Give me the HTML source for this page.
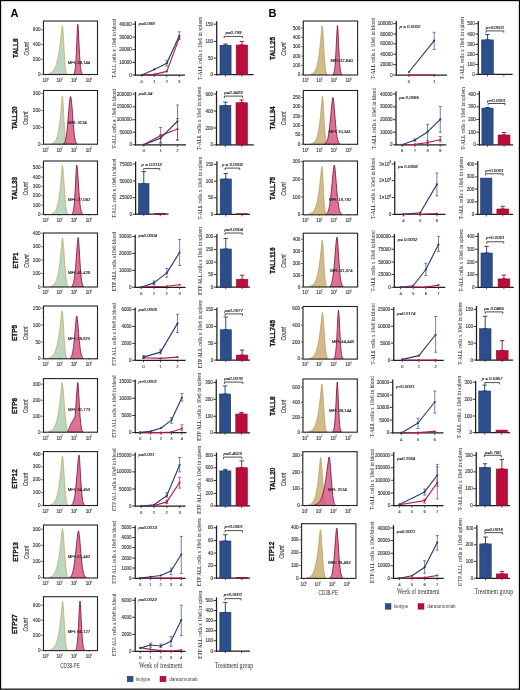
<!DOCTYPE html>
<html><head><meta charset="utf-8"><style>
html,body{margin:0;padding:0;background:#fff;}
#fig{position:relative;width:520px;height:690px;overflow:hidden;background:#fff;}
svg{position:absolute;left:0;top:0;will-change:transform;}
</style></head><body><div id="fig">
<svg width="520" height="690" viewBox="0 0 520 690" font-family="'Liberation Sans', sans-serif">
<rect x="0" y="0" width="520" height="690" fill="#fff"/>
<text x="10.4" y="13.1" font-size="11" text-anchor="start" fill="#000" font-weight="bold" dominant-baseline="central">A</text>
<text x="268.6" y="13.1" font-size="11" text-anchor="start" fill="#000" font-weight="bold" dominant-baseline="central">B</text>
<text x="15" y="48.25" font-size="6.4" text-anchor="middle" fill="#1a1a1a" font-weight="bold" stroke="#1a1a1a" stroke-width="0.35" dominant-baseline="central" transform="rotate(-90 15 48.25)">TALL8</text>
<text x="26" y="48.75" font-size="6.6" text-anchor="middle" fill="#444" font-style="italic" stroke="#444" stroke-width="0.15" textLength="13.5" lengthAdjust="spacingAndGlyphs" dominant-baseline="central" transform="rotate(-90 26 48.75)">Count</text>
<clipPath id="ca0"><rect x="43.5" y="21" width="54" height="53.5"/></clipPath>
<g clip-path="url(#ca0)">
<path d="M47.78 74.5 L47.78 74.01 L48.18 73.93 L48.59 73.83 L49 73.72 L49.41 73.59 L49.82 73.44 L50.22 73.27 L50.63 73.08 L51.04 72.85 L51.45 72.59 L51.85 72.29 L52.26 71.94 L52.67 71.55 L53.08 71.1 L53.48 70.58 L53.89 70 L54.3 69.33 L54.71 68.57 L55.11 67.71 L55.52 66.74 L55.93 65.65 L56.34 64.41 L56.75 63.03 L57.15 61.47 L57.56 59.74 L57.97 57.81 L58.38 55.68 L58.78 53.32 L59.19 50.73 L59.6 47.9 L60.01 44.84 L60.41 41.56 L60.82 38.07 L61.23 34.43 L61.64 30.74 L62.05 27.23 L62.3 25.5 L62.45 25.74 L62.86 28.68 L63.27 34.4 L63.68 41.81 L64.08 49.69 L64.49 56.95 L64.9 62.95 L65.31 67.41 L65.71 70.45 L66.12 72.35 L66.53 73.43 L66.94 74.01 L66.94 74.5 Z" fill="#bcd6c4" stroke="#c9a04e" stroke-width="0.7"/>
<path d="M73.84 74.5 L73.84 74 L74.25 73.41 L74.65 72.27 L75.06 70.22 L75.47 66.8 L75.87 61.55 L76.28 54.22 L76.68 45.1 L77.09 35.33 L77.5 27.16 L77.8 24.3 L77.9 24.66 L78.31 29.52 L78.71 37.24 L79.12 45.74 L79.53 53.66 L79.93 60.25 L80.34 65.27 L80.74 68.82 L81.15 71.18 L81.55 72.64 L81.96 73.51 L82.37 74 L82.37 74.5 Z" fill="#d65a85" fill-opacity="0.85" stroke="#8a1a3e" stroke-width="0.9"/>
<text x="67.8" y="62.3" font-size="4.2" text-anchor="start" fill="#222" stroke="#222" stroke-width="0.15" dominant-baseline="central">MFI: 39,144</text>
</g>
<rect x="43.5" y="21" width="54" height="53.5" fill="none" stroke="#222" stroke-width="1.1"/>
<line x1="41.3" y1="29.8" x2="43.5" y2="29.8" stroke="#222" stroke-width="0.7"/>
<text x="40.5" y="29.8" font-size="4.6" text-anchor="end" fill="#333" stroke="#333" stroke-width="0.12" dominant-baseline="central">600</text>
<line x1="41.3" y1="44.4" x2="43.5" y2="44.4" stroke="#222" stroke-width="0.7"/>
<text x="40.5" y="44.4" font-size="4.6" text-anchor="end" fill="#333" stroke="#333" stroke-width="0.12" dominant-baseline="central">400</text>
<line x1="41.3" y1="59.4" x2="43.5" y2="59.4" stroke="#222" stroke-width="0.7"/>
<text x="40.5" y="59.4" font-size="4.6" text-anchor="end" fill="#333" stroke="#333" stroke-width="0.12" dominant-baseline="central">200</text>
<line x1="41.3" y1="74.4" x2="43.5" y2="74.4" stroke="#222" stroke-width="0.7"/>
<text x="40.5" y="74.4" font-size="4.6" text-anchor="end" fill="#333" stroke="#333" stroke-width="0.12" dominant-baseline="central">0</text>
<line x1="42.4" y1="70.68" x2="43.5" y2="70.68" stroke="#555" stroke-width="0.5"/>
<line x1="42.4" y1="66.97" x2="43.5" y2="66.97" stroke="#555" stroke-width="0.5"/>
<line x1="42.4" y1="63.25" x2="43.5" y2="63.25" stroke="#555" stroke-width="0.5"/>
<line x1="42.4" y1="55.82" x2="43.5" y2="55.82" stroke="#555" stroke-width="0.5"/>
<line x1="42.4" y1="52.1" x2="43.5" y2="52.1" stroke="#555" stroke-width="0.5"/>
<line x1="42.4" y1="48.38" x2="43.5" y2="48.38" stroke="#555" stroke-width="0.5"/>
<line x1="42.4" y1="40.95" x2="43.5" y2="40.95" stroke="#555" stroke-width="0.5"/>
<line x1="42.4" y1="37.23" x2="43.5" y2="37.23" stroke="#555" stroke-width="0.5"/>
<line x1="42.4" y1="33.52" x2="43.5" y2="33.52" stroke="#555" stroke-width="0.5"/>
<line x1="42.4" y1="26.08" x2="43.5" y2="26.08" stroke="#555" stroke-width="0.5"/>
<line x1="42.4" y1="22.37" x2="43.5" y2="22.37" stroke="#555" stroke-width="0.5"/>
<text x="45.1" y="80.3" font-size="4.7" text-anchor="middle" fill="#444" stroke="#444" stroke-width="0.15" dominant-baseline="central">10</text>
<text x="48.1" y="78.7" font-size="3.2" text-anchor="middle" fill="#444" dominant-baseline="central">0</text>
<line x1="45.7" y1="74.5" x2="45.7" y2="75.8" stroke="#444" stroke-width="0.5"/>
<text x="59.1" y="80.3" font-size="4.7" text-anchor="middle" fill="#444" stroke="#444" stroke-width="0.15" dominant-baseline="central">10</text>
<text x="62.1" y="78.7" font-size="3.2" text-anchor="middle" fill="#444" dominant-baseline="central">2</text>
<line x1="59.7" y1="74.5" x2="59.7" y2="75.8" stroke="#444" stroke-width="0.5"/>
<text x="73.5" y="80.3" font-size="4.7" text-anchor="middle" fill="#444" stroke="#444" stroke-width="0.15" dominant-baseline="central">10</text>
<text x="76.5" y="78.7" font-size="3.2" text-anchor="middle" fill="#444" dominant-baseline="central">4</text>
<line x1="74.1" y1="74.5" x2="74.1" y2="75.8" stroke="#444" stroke-width="0.5"/>
<text x="88.3" y="80.3" font-size="4.7" text-anchor="middle" fill="#444" stroke="#444" stroke-width="0.15" dominant-baseline="central">10</text>
<text x="91.3" y="78.7" font-size="3.2" text-anchor="middle" fill="#444" dominant-baseline="central">6</text>
<line x1="88.9" y1="74.5" x2="88.9" y2="75.8" stroke="#444" stroke-width="0.5"/>
<line x1="52.7" y1="74.5" x2="52.7" y2="75.3" stroke="#666" stroke-width="0.4"/>
<line x1="66.9" y1="74.5" x2="66.9" y2="75.3" stroke="#666" stroke-width="0.4"/>
<line x1="81.5" y1="74.5" x2="81.5" y2="75.3" stroke="#666" stroke-width="0.4"/>
<line x1="95.5" y1="74.5" x2="95.5" y2="75.3" stroke="#666" stroke-width="0.4"/>
<text x="15" y="117.85" font-size="6.4" text-anchor="middle" fill="#1a1a1a" font-weight="bold" stroke="#1a1a1a" stroke-width="0.35" dominant-baseline="central" transform="rotate(-90 15 117.85)">TALL20</text>
<text x="26" y="118.35" font-size="6.6" text-anchor="middle" fill="#444" font-style="italic" stroke="#444" stroke-width="0.15" textLength="13.5" lengthAdjust="spacingAndGlyphs" dominant-baseline="central" transform="rotate(-90 26 118.35)">Count</text>
<clipPath id="ca1"><rect x="43.5" y="90.5" width="54" height="53.7"/></clipPath>
<g clip-path="url(#ca1)">
<path d="M51.55 144.2 L51.55 143.72 L51.95 143.61 L52.35 143.47 L52.76 143.3 L53.16 143.1 L53.56 142.86 L53.96 142.56 L54.37 142.21 L54.77 141.78 L55.17 141.26 L55.57 140.65 L55.97 139.91 L56.38 139.03 L56.78 137.99 L57.18 136.76 L57.58 135.31 L57.99 133.62 L58.39 131.64 L58.79 129.34 L59.19 126.69 L59.6 123.66 L60 120.22 L60.4 116.36 L60.8 112.09 L61.2 107.47 L61.61 102.63 L62.01 97.94 L62.2 96.2 L62.41 96.66 L62.81 99.92 L63.22 105.72 L63.62 112.99 L64.02 120.59 L64.42 127.53 L64.83 133.22 L65.23 137.45 L65.63 140.33 L66.03 142.13 L66.43 143.16 L66.84 143.72 L66.84 144.2 Z" fill="#bcd6c4" stroke="#c9a04e" stroke-width="0.7"/>
<path d="M63.35 144.2 L63.35 143.72 L63.76 143.44 L64.17 143.01 L64.58 142.39 L64.99 141.5 L65.41 140.27 L65.82 138.62 L66.23 136.45 L66.64 133.7 L67.05 130.33 L67.47 126.34 L67.88 121.79 L68.29 116.83 L68.7 111.69 L69.11 106.68 L69.53 102.2 L69.94 98.71 L70.35 96.71 L70.5 96.5 L70.76 96.86 L71.17 98.84 L71.58 102.34 L72 106.99 L72.41 112.36 L72.82 117.95 L73.23 123.36 L73.64 128.27 L74.06 132.47 L74.47 135.88 L74.88 138.52 L75.29 140.47 L75.7 141.83 L76.12 142.76 L76.53 143.35 L76.94 143.72 L76.94 144.2 Z" fill="#d65a85" fill-opacity="0.85" stroke="#8a1a3e" stroke-width="0.9"/>
<text x="68" y="122" font-size="4.2" text-anchor="start" fill="#222" stroke="#222" stroke-width="0.15" dominant-baseline="central">MFI: 3134</text>
</g>
<rect x="43.5" y="90.5" width="54" height="53.7" fill="none" stroke="#222" stroke-width="1.1"/>
<line x1="41.3" y1="93.5" x2="43.5" y2="93.5" stroke="#222" stroke-width="0.7"/>
<text x="40.5" y="93.5" font-size="4.6" text-anchor="end" fill="#333" stroke="#333" stroke-width="0.12" dominant-baseline="central">300</text>
<line x1="41.3" y1="110.4" x2="43.5" y2="110.4" stroke="#222" stroke-width="0.7"/>
<text x="40.5" y="110.4" font-size="4.6" text-anchor="end" fill="#333" stroke="#333" stroke-width="0.12" dominant-baseline="central">200</text>
<line x1="41.3" y1="127.6" x2="43.5" y2="127.6" stroke="#222" stroke-width="0.7"/>
<text x="40.5" y="127.6" font-size="4.6" text-anchor="end" fill="#333" stroke="#333" stroke-width="0.12" dominant-baseline="central">100</text>
<line x1="41.3" y1="144.4" x2="43.5" y2="144.4" stroke="#222" stroke-width="0.7"/>
<text x="40.5" y="144.4" font-size="4.6" text-anchor="end" fill="#333" stroke="#333" stroke-width="0.12" dominant-baseline="central">0</text>
<line x1="42.4" y1="140.16" x2="43.5" y2="140.16" stroke="#555" stroke-width="0.5"/>
<line x1="42.4" y1="135.92" x2="43.5" y2="135.92" stroke="#555" stroke-width="0.5"/>
<line x1="42.4" y1="131.68" x2="43.5" y2="131.68" stroke="#555" stroke-width="0.5"/>
<line x1="42.4" y1="123.19" x2="43.5" y2="123.19" stroke="#555" stroke-width="0.5"/>
<line x1="42.4" y1="118.95" x2="43.5" y2="118.95" stroke="#555" stroke-width="0.5"/>
<line x1="42.4" y1="114.71" x2="43.5" y2="114.71" stroke="#555" stroke-width="0.5"/>
<line x1="42.4" y1="106.22" x2="43.5" y2="106.22" stroke="#555" stroke-width="0.5"/>
<line x1="42.4" y1="101.98" x2="43.5" y2="101.98" stroke="#555" stroke-width="0.5"/>
<line x1="42.4" y1="97.74" x2="43.5" y2="97.74" stroke="#555" stroke-width="0.5"/>
<text x="45.1" y="150" font-size="4.7" text-anchor="middle" fill="#444" stroke="#444" stroke-width="0.15" dominant-baseline="central">10</text>
<text x="48.1" y="148.4" font-size="3.2" text-anchor="middle" fill="#444" dominant-baseline="central">0</text>
<line x1="45.7" y1="144.2" x2="45.7" y2="145.5" stroke="#444" stroke-width="0.5"/>
<text x="59.1" y="150" font-size="4.7" text-anchor="middle" fill="#444" stroke="#444" stroke-width="0.15" dominant-baseline="central">10</text>
<text x="62.1" y="148.4" font-size="3.2" text-anchor="middle" fill="#444" dominant-baseline="central">2</text>
<line x1="59.7" y1="144.2" x2="59.7" y2="145.5" stroke="#444" stroke-width="0.5"/>
<text x="73.5" y="150" font-size="4.7" text-anchor="middle" fill="#444" stroke="#444" stroke-width="0.15" dominant-baseline="central">10</text>
<text x="76.5" y="148.4" font-size="3.2" text-anchor="middle" fill="#444" dominant-baseline="central">4</text>
<line x1="74.1" y1="144.2" x2="74.1" y2="145.5" stroke="#444" stroke-width="0.5"/>
<text x="88.3" y="150" font-size="4.7" text-anchor="middle" fill="#444" stroke="#444" stroke-width="0.15" dominant-baseline="central">10</text>
<text x="91.3" y="148.4" font-size="3.2" text-anchor="middle" fill="#444" dominant-baseline="central">6</text>
<line x1="88.9" y1="144.2" x2="88.9" y2="145.5" stroke="#444" stroke-width="0.5"/>
<line x1="52.7" y1="144.2" x2="52.7" y2="145" stroke="#666" stroke-width="0.4"/>
<line x1="66.9" y1="144.2" x2="66.9" y2="145" stroke="#666" stroke-width="0.4"/>
<line x1="81.5" y1="144.2" x2="81.5" y2="145" stroke="#666" stroke-width="0.4"/>
<line x1="95.5" y1="144.2" x2="95.5" y2="145" stroke="#666" stroke-width="0.4"/>
<text x="15" y="188.3" font-size="6.4" text-anchor="middle" fill="#1a1a1a" font-weight="bold" stroke="#1a1a1a" stroke-width="0.35" dominant-baseline="central" transform="rotate(-90 15 188.3)">TALL33</text>
<text x="26" y="188.8" font-size="6.6" text-anchor="middle" fill="#444" font-style="italic" stroke="#444" stroke-width="0.15" textLength="13.5" lengthAdjust="spacingAndGlyphs" dominant-baseline="central" transform="rotate(-90 26 188.8)">Count</text>
<clipPath id="ca2"><rect x="43.5" y="161" width="54" height="53.6"/></clipPath>
<g clip-path="url(#ca2)">
<path d="M51.17 214.6 L51.17 214.11 L51.57 214 L51.97 213.87 L52.37 213.71 L52.77 213.52 L53.17 213.29 L53.57 213.02 L53.97 212.69 L54.37 212.3 L54.77 211.84 L55.17 211.29 L55.57 210.63 L55.97 209.86 L56.37 208.95 L56.77 207.87 L57.17 206.62 L57.57 205.15 L57.97 203.45 L58.37 201.48 L58.77 199.21 L59.17 196.62 L59.57 193.67 L59.97 190.35 L60.37 186.63 L60.77 182.54 L61.17 178.1 L61.57 173.42 L61.97 168.74 L62.3 165.5 L62.37 165.53 L62.77 167.01 L63.17 170.51 L63.57 175.58 L63.97 181.62 L64.37 187.97 L64.77 194.06 L65.17 199.47 L65.57 203.95 L65.97 207.44 L66.37 210.01 L66.77 211.78 L67.17 212.95 L67.57 213.68 L67.97 214.11 L67.97 214.6 Z" fill="#bcd6c4" stroke="#c9a04e" stroke-width="0.7"/>
<path d="M71.93 214.6 L71.93 214.1 L72.34 213.66 L72.74 212.9 L73.15 211.65 L73.55 209.67 L73.96 206.72 L74.36 202.56 L74.77 197.04 L75.18 190.23 L75.58 182.52 L75.99 174.74 L76.39 168.23 L76.8 165 L76.8 165 L77.21 167.23 L77.61 171.9 L78.02 177.79 L78.42 184.1 L78.83 190.23 L79.24 195.78 L79.64 200.52 L80.05 204.38 L80.45 207.4 L80.86 209.67 L81.26 211.32 L81.67 212.47 L82.08 213.25 L82.48 213.77 L82.89 214.1 L82.89 214.6 Z" fill="#d65a85" fill-opacity="0.85" stroke="#8a1a3e" stroke-width="0.9"/>
<text x="68" y="199.3" font-size="4.2" text-anchor="start" fill="#222" stroke="#222" stroke-width="0.15" dominant-baseline="central">MFI: 27,062</text>
</g>
<rect x="43.5" y="161" width="54" height="53.6" fill="none" stroke="#222" stroke-width="1.1"/>
<line x1="41.3" y1="167.3" x2="43.5" y2="167.3" stroke="#222" stroke-width="0.7"/>
<text x="40.5" y="167.3" font-size="4.6" text-anchor="end" fill="#333" stroke="#333" stroke-width="0.12" dominant-baseline="central">500</text>
<line x1="41.3" y1="177" x2="43.5" y2="177" stroke="#222" stroke-width="0.7"/>
<text x="40.5" y="177" font-size="4.6" text-anchor="end" fill="#333" stroke="#333" stroke-width="0.12" dominant-baseline="central">400</text>
<line x1="41.3" y1="186.3" x2="43.5" y2="186.3" stroke="#222" stroke-width="0.7"/>
<text x="40.5" y="186.3" font-size="4.6" text-anchor="end" fill="#333" stroke="#333" stroke-width="0.12" dominant-baseline="central">300</text>
<line x1="41.3" y1="195.8" x2="43.5" y2="195.8" stroke="#222" stroke-width="0.7"/>
<text x="40.5" y="195.8" font-size="4.6" text-anchor="end" fill="#333" stroke="#333" stroke-width="0.12" dominant-baseline="central">200</text>
<line x1="41.3" y1="205.1" x2="43.5" y2="205.1" stroke="#222" stroke-width="0.7"/>
<text x="40.5" y="205.1" font-size="4.6" text-anchor="end" fill="#333" stroke="#333" stroke-width="0.12" dominant-baseline="central">100</text>
<line x1="41.3" y1="214.3" x2="43.5" y2="214.3" stroke="#222" stroke-width="0.7"/>
<text x="40.5" y="214.3" font-size="4.6" text-anchor="end" fill="#333" stroke="#333" stroke-width="0.12" dominant-baseline="central">0</text>
<line x1="42.4" y1="211.95" x2="43.5" y2="211.95" stroke="#555" stroke-width="0.5"/>
<line x1="42.4" y1="209.6" x2="43.5" y2="209.6" stroke="#555" stroke-width="0.5"/>
<line x1="42.4" y1="207.25" x2="43.5" y2="207.25" stroke="#555" stroke-width="0.5"/>
<line x1="42.4" y1="202.55" x2="43.5" y2="202.55" stroke="#555" stroke-width="0.5"/>
<line x1="42.4" y1="200.2" x2="43.5" y2="200.2" stroke="#555" stroke-width="0.5"/>
<line x1="42.4" y1="197.85" x2="43.5" y2="197.85" stroke="#555" stroke-width="0.5"/>
<line x1="42.4" y1="193.15" x2="43.5" y2="193.15" stroke="#555" stroke-width="0.5"/>
<line x1="42.4" y1="190.8" x2="43.5" y2="190.8" stroke="#555" stroke-width="0.5"/>
<line x1="42.4" y1="188.45" x2="43.5" y2="188.45" stroke="#555" stroke-width="0.5"/>
<line x1="42.4" y1="183.75" x2="43.5" y2="183.75" stroke="#555" stroke-width="0.5"/>
<line x1="42.4" y1="181.4" x2="43.5" y2="181.4" stroke="#555" stroke-width="0.5"/>
<line x1="42.4" y1="179.05" x2="43.5" y2="179.05" stroke="#555" stroke-width="0.5"/>
<line x1="42.4" y1="174.35" x2="43.5" y2="174.35" stroke="#555" stroke-width="0.5"/>
<line x1="42.4" y1="172" x2="43.5" y2="172" stroke="#555" stroke-width="0.5"/>
<line x1="42.4" y1="169.65" x2="43.5" y2="169.65" stroke="#555" stroke-width="0.5"/>
<line x1="42.4" y1="164.95" x2="43.5" y2="164.95" stroke="#555" stroke-width="0.5"/>
<line x1="42.4" y1="162.6" x2="43.5" y2="162.6" stroke="#555" stroke-width="0.5"/>
<text x="45.1" y="220.4" font-size="4.7" text-anchor="middle" fill="#444" stroke="#444" stroke-width="0.15" dominant-baseline="central">10</text>
<text x="48.1" y="218.8" font-size="3.2" text-anchor="middle" fill="#444" dominant-baseline="central">0</text>
<line x1="45.7" y1="214.6" x2="45.7" y2="215.9" stroke="#444" stroke-width="0.5"/>
<text x="59.1" y="220.4" font-size="4.7" text-anchor="middle" fill="#444" stroke="#444" stroke-width="0.15" dominant-baseline="central">10</text>
<text x="62.1" y="218.8" font-size="3.2" text-anchor="middle" fill="#444" dominant-baseline="central">2</text>
<line x1="59.7" y1="214.6" x2="59.7" y2="215.9" stroke="#444" stroke-width="0.5"/>
<text x="73.5" y="220.4" font-size="4.7" text-anchor="middle" fill="#444" stroke="#444" stroke-width="0.15" dominant-baseline="central">10</text>
<text x="76.5" y="218.8" font-size="3.2" text-anchor="middle" fill="#444" dominant-baseline="central">4</text>
<line x1="74.1" y1="214.6" x2="74.1" y2="215.9" stroke="#444" stroke-width="0.5"/>
<text x="88.3" y="220.4" font-size="4.7" text-anchor="middle" fill="#444" stroke="#444" stroke-width="0.15" dominant-baseline="central">10</text>
<text x="91.3" y="218.8" font-size="3.2" text-anchor="middle" fill="#444" dominant-baseline="central">6</text>
<line x1="88.9" y1="214.6" x2="88.9" y2="215.9" stroke="#444" stroke-width="0.5"/>
<line x1="52.7" y1="214.6" x2="52.7" y2="215.4" stroke="#666" stroke-width="0.4"/>
<line x1="66.9" y1="214.6" x2="66.9" y2="215.4" stroke="#666" stroke-width="0.4"/>
<line x1="81.5" y1="214.6" x2="81.5" y2="215.4" stroke="#666" stroke-width="0.4"/>
<line x1="95.5" y1="214.6" x2="95.5" y2="215.4" stroke="#666" stroke-width="0.4"/>
<text x="15" y="260.5" font-size="6.4" text-anchor="middle" fill="#1a1a1a" font-weight="bold" stroke="#1a1a1a" stroke-width="0.35" dominant-baseline="central" transform="rotate(-90 15 260.5)">ETP1</text>
<text x="26" y="261" font-size="6.6" text-anchor="middle" fill="#444" font-style="italic" stroke="#444" stroke-width="0.15" textLength="13.5" lengthAdjust="spacingAndGlyphs" dominant-baseline="central" transform="rotate(-90 26 261)">Count</text>
<clipPath id="ca3"><rect x="43.5" y="233" width="54" height="54"/></clipPath>
<g clip-path="url(#ca3)">
<path d="M50.2 287 L50.2 286.51 L50.6 286.41 L51.01 286.29 L51.42 286.15 L51.82 285.98 L52.23 285.78 L52.64 285.54 L53.04 285.26 L53.45 284.92 L53.85 284.53 L54.26 284.07 L54.67 283.52 L55.07 282.89 L55.48 282.14 L55.89 281.28 L56.29 280.27 L56.7 279.1 L57.11 277.75 L57.51 276.2 L57.92 274.42 L58.32 272.38 L58.73 270.07 L59.14 267.46 L59.54 264.53 L59.95 261.26 L60.36 257.65 L60.76 253.72 L61.17 249.51 L61.57 245.12 L61.98 240.79 L62.3 238 L62.39 238.05 L62.79 239.42 L63.2 242.55 L63.61 247.1 L64.01 252.58 L64.42 258.46 L64.83 264.26 L65.23 269.58 L65.64 274.18 L66.04 277.94 L66.45 280.84 L66.86 282.98 L67.26 284.47 L67.67 285.48 L68.08 286.12 L68.48 286.51 L68.48 287 Z" fill="#bcd6c4" stroke="#c9a04e" stroke-width="0.7"/>
<path d="M71.5 287 L71.5 286.5 L71.91 286.21 L72.31 285.77 L72.72 285.12 L73.13 284.19 L73.53 282.9 L73.94 281.14 L74.34 278.81 L74.75 275.84 L75.16 272.15 L75.56 267.74 L75.97 262.68 L76.37 257.13 L76.78 251.4 L77.19 245.9 L77.59 241.22 L78 238.09 L78.2 237.5 L78.4 238.33 L78.81 242.65 L79.21 248.9 L79.62 255.86 L80.03 262.68 L80.43 268.78 L80.84 273.88 L81.24 277.9 L81.65 280.91 L82.06 283.06 L82.46 284.54 L82.87 285.51 L83.27 286.13 L83.68 286.5 L83.68 287 Z" fill="#d65a85" fill-opacity="0.85" stroke="#8a1a3e" stroke-width="0.9"/>
<text x="68" y="272.5" font-size="4.2" text-anchor="start" fill="#222" stroke="#222" stroke-width="0.15" dominant-baseline="central">MFI: 41,428</text>
</g>
<rect x="43.5" y="233" width="54" height="54" fill="none" stroke="#222" stroke-width="1.1"/>
<line x1="41.3" y1="233.3" x2="43.5" y2="233.3" stroke="#222" stroke-width="0.7"/>
<text x="40.5" y="233.3" font-size="4.6" text-anchor="end" fill="#333" stroke="#333" stroke-width="0.12" dominant-baseline="central">400</text>
<line x1="41.3" y1="246.7" x2="43.5" y2="246.7" stroke="#222" stroke-width="0.7"/>
<text x="40.5" y="246.7" font-size="4.6" text-anchor="end" fill="#333" stroke="#333" stroke-width="0.12" dominant-baseline="central">300</text>
<line x1="41.3" y1="260" x2="43.5" y2="260" stroke="#222" stroke-width="0.7"/>
<text x="40.5" y="260" font-size="4.6" text-anchor="end" fill="#333" stroke="#333" stroke-width="0.12" dominant-baseline="central">200</text>
<line x1="41.3" y1="273.6" x2="43.5" y2="273.6" stroke="#222" stroke-width="0.7"/>
<text x="40.5" y="273.6" font-size="4.6" text-anchor="end" fill="#333" stroke="#333" stroke-width="0.12" dominant-baseline="central">100</text>
<line x1="41.3" y1="287" x2="43.5" y2="287" stroke="#222" stroke-width="0.7"/>
<text x="40.5" y="287" font-size="4.6" text-anchor="end" fill="#333" stroke="#333" stroke-width="0.12" dominant-baseline="central">0</text>
<line x1="42.4" y1="283.64" x2="43.5" y2="283.64" stroke="#555" stroke-width="0.5"/>
<line x1="42.4" y1="280.29" x2="43.5" y2="280.29" stroke="#555" stroke-width="0.5"/>
<line x1="42.4" y1="276.93" x2="43.5" y2="276.93" stroke="#555" stroke-width="0.5"/>
<line x1="42.4" y1="270.22" x2="43.5" y2="270.22" stroke="#555" stroke-width="0.5"/>
<line x1="42.4" y1="266.86" x2="43.5" y2="266.86" stroke="#555" stroke-width="0.5"/>
<line x1="42.4" y1="263.51" x2="43.5" y2="263.51" stroke="#555" stroke-width="0.5"/>
<line x1="42.4" y1="256.79" x2="43.5" y2="256.79" stroke="#555" stroke-width="0.5"/>
<line x1="42.4" y1="253.44" x2="43.5" y2="253.44" stroke="#555" stroke-width="0.5"/>
<line x1="42.4" y1="250.08" x2="43.5" y2="250.08" stroke="#555" stroke-width="0.5"/>
<line x1="42.4" y1="243.37" x2="43.5" y2="243.37" stroke="#555" stroke-width="0.5"/>
<line x1="42.4" y1="240.01" x2="43.5" y2="240.01" stroke="#555" stroke-width="0.5"/>
<line x1="42.4" y1="236.66" x2="43.5" y2="236.66" stroke="#555" stroke-width="0.5"/>
<text x="45.1" y="292.8" font-size="4.7" text-anchor="middle" fill="#444" stroke="#444" stroke-width="0.15" dominant-baseline="central">10</text>
<text x="48.1" y="291.2" font-size="3.2" text-anchor="middle" fill="#444" dominant-baseline="central">0</text>
<line x1="45.7" y1="287" x2="45.7" y2="288.3" stroke="#444" stroke-width="0.5"/>
<text x="59.1" y="292.8" font-size="4.7" text-anchor="middle" fill="#444" stroke="#444" stroke-width="0.15" dominant-baseline="central">10</text>
<text x="62.1" y="291.2" font-size="3.2" text-anchor="middle" fill="#444" dominant-baseline="central">2</text>
<line x1="59.7" y1="287" x2="59.7" y2="288.3" stroke="#444" stroke-width="0.5"/>
<text x="73.5" y="292.8" font-size="4.7" text-anchor="middle" fill="#444" stroke="#444" stroke-width="0.15" dominant-baseline="central">10</text>
<text x="76.5" y="291.2" font-size="3.2" text-anchor="middle" fill="#444" dominant-baseline="central">4</text>
<line x1="74.1" y1="287" x2="74.1" y2="288.3" stroke="#444" stroke-width="0.5"/>
<text x="88.3" y="292.8" font-size="4.7" text-anchor="middle" fill="#444" stroke="#444" stroke-width="0.15" dominant-baseline="central">10</text>
<text x="91.3" y="291.2" font-size="3.2" text-anchor="middle" fill="#444" dominant-baseline="central">6</text>
<line x1="88.9" y1="287" x2="88.9" y2="288.3" stroke="#444" stroke-width="0.5"/>
<line x1="52.7" y1="287" x2="52.7" y2="287.8" stroke="#666" stroke-width="0.4"/>
<line x1="66.9" y1="287" x2="66.9" y2="287.8" stroke="#666" stroke-width="0.4"/>
<line x1="81.5" y1="287" x2="81.5" y2="287.8" stroke="#666" stroke-width="0.4"/>
<line x1="95.5" y1="287" x2="95.5" y2="287.8" stroke="#666" stroke-width="0.4"/>
<text x="15" y="332.9" font-size="6.4" text-anchor="middle" fill="#1a1a1a" font-weight="bold" stroke="#1a1a1a" stroke-width="0.35" dominant-baseline="central" transform="rotate(-90 15 332.9)">ETP5</text>
<text x="26" y="333.4" font-size="6.6" text-anchor="middle" fill="#444" font-style="italic" stroke="#444" stroke-width="0.15" textLength="13.5" lengthAdjust="spacingAndGlyphs" dominant-baseline="central" transform="rotate(-90 26 333.4)">Count</text>
<clipPath id="ca4"><rect x="43.5" y="306" width="54" height="52.8"/></clipPath>
<g clip-path="url(#ca4)">
<path d="M47.48 358.8 L47.48 358.32 L47.88 358.24 L48.28 358.15 L48.68 358.04 L49.08 357.92 L49.48 357.78 L49.89 357.62 L50.29 357.43 L50.69 357.22 L51.09 356.97 L51.49 356.69 L51.89 356.37 L52.3 356 L52.7 355.57 L53.1 355.09 L53.5 354.54 L53.9 353.92 L54.3 353.22 L54.7 352.42 L55.11 351.52 L55.51 350.5 L55.91 349.35 L56.31 348.07 L56.71 346.63 L57.11 345.03 L57.52 343.25 L57.92 341.28 L58.32 339.1 L58.72 336.7 L59.12 334.09 L59.52 331.24 L59.92 328.18 L60.33 324.92 L60.73 321.49 L61.13 317.95 L61.53 314.45 L61.93 311.35 L62 311 L62.33 311.91 L62.74 315.27 L63.14 320.59 L63.54 327.08 L63.94 333.9 L64.34 340.31 L64.74 345.82 L65.14 350.18 L65.55 353.39 L65.95 355.59 L66.35 357 L66.75 357.84 L67.15 358.32 L67.15 358.8 Z" fill="#bcd6c4" stroke="#c9a04e" stroke-width="0.7"/>
<path d="M69.8 358.8 L69.8 358.37 L70.2 358.13 L70.6 357.78 L71.01 357.27 L71.41 356.56 L71.81 355.57 L72.22 354.24 L72.62 352.49 L73.02 350.26 L73.42 347.49 L73.83 344.15 L74.23 340.27 L74.63 335.92 L75.04 331.28 L75.44 326.58 L75.84 322.2 L76.24 318.57 L76.65 316.29 L76.8 316 L77.05 316.73 L77.45 319.61 L77.86 323.73 L78.26 328.49 L78.66 333.41 L79.07 338.14 L79.47 342.45 L79.87 346.19 L80.27 349.32 L80.68 351.84 L81.08 353.81 L81.48 355.3 L81.89 356.4 L82.29 357.19 L82.69 357.74 L83.09 358.12 L83.5 358.37 L83.5 358.8 Z" fill="#d65a85" fill-opacity="0.85" stroke="#8a1a3e" stroke-width="0.9"/>
<text x="67.8" y="338.5" font-size="4.2" text-anchor="start" fill="#222" stroke="#222" stroke-width="0.15" dominant-baseline="central">MFI: 29,823</text>
</g>
<rect x="43.5" y="306" width="54" height="52.8" fill="none" stroke="#222" stroke-width="1.1"/>
<line x1="41.3" y1="308.1" x2="43.5" y2="308.1" stroke="#222" stroke-width="0.7"/>
<text x="40.5" y="308.1" font-size="4.6" text-anchor="end" fill="#333" stroke="#333" stroke-width="0.12" dominant-baseline="central">150</text>
<line x1="41.3" y1="325" x2="43.5" y2="325" stroke="#222" stroke-width="0.7"/>
<text x="40.5" y="325" font-size="4.6" text-anchor="end" fill="#333" stroke="#333" stroke-width="0.12" dominant-baseline="central">100</text>
<line x1="41.3" y1="342" x2="43.5" y2="342" stroke="#222" stroke-width="0.7"/>
<text x="40.5" y="342" font-size="4.6" text-anchor="end" fill="#333" stroke="#333" stroke-width="0.12" dominant-baseline="central">50</text>
<line x1="41.3" y1="358.8" x2="43.5" y2="358.8" stroke="#222" stroke-width="0.7"/>
<text x="40.5" y="358.8" font-size="4.6" text-anchor="end" fill="#333" stroke="#333" stroke-width="0.12" dominant-baseline="central">0</text>
<line x1="42.4" y1="354.57" x2="43.5" y2="354.57" stroke="#555" stroke-width="0.5"/>
<line x1="42.4" y1="350.35" x2="43.5" y2="350.35" stroke="#555" stroke-width="0.5"/>
<line x1="42.4" y1="346.12" x2="43.5" y2="346.12" stroke="#555" stroke-width="0.5"/>
<line x1="42.4" y1="337.68" x2="43.5" y2="337.68" stroke="#555" stroke-width="0.5"/>
<line x1="42.4" y1="333.45" x2="43.5" y2="333.45" stroke="#555" stroke-width="0.5"/>
<line x1="42.4" y1="329.23" x2="43.5" y2="329.23" stroke="#555" stroke-width="0.5"/>
<line x1="42.4" y1="320.78" x2="43.5" y2="320.78" stroke="#555" stroke-width="0.5"/>
<line x1="42.4" y1="316.55" x2="43.5" y2="316.55" stroke="#555" stroke-width="0.5"/>
<line x1="42.4" y1="312.33" x2="43.5" y2="312.33" stroke="#555" stroke-width="0.5"/>
<text x="45.1" y="364.6" font-size="4.7" text-anchor="middle" fill="#444" stroke="#444" stroke-width="0.15" dominant-baseline="central">10</text>
<text x="48.1" y="363" font-size="3.2" text-anchor="middle" fill="#444" dominant-baseline="central">0</text>
<line x1="45.7" y1="358.8" x2="45.7" y2="360.1" stroke="#444" stroke-width="0.5"/>
<text x="59.1" y="364.6" font-size="4.7" text-anchor="middle" fill="#444" stroke="#444" stroke-width="0.15" dominant-baseline="central">10</text>
<text x="62.1" y="363" font-size="3.2" text-anchor="middle" fill="#444" dominant-baseline="central">2</text>
<line x1="59.7" y1="358.8" x2="59.7" y2="360.1" stroke="#444" stroke-width="0.5"/>
<text x="73.5" y="364.6" font-size="4.7" text-anchor="middle" fill="#444" stroke="#444" stroke-width="0.15" dominant-baseline="central">10</text>
<text x="76.5" y="363" font-size="3.2" text-anchor="middle" fill="#444" dominant-baseline="central">4</text>
<line x1="74.1" y1="358.8" x2="74.1" y2="360.1" stroke="#444" stroke-width="0.5"/>
<text x="88.3" y="364.6" font-size="4.7" text-anchor="middle" fill="#444" stroke="#444" stroke-width="0.15" dominant-baseline="central">10</text>
<text x="91.3" y="363" font-size="3.2" text-anchor="middle" fill="#444" dominant-baseline="central">6</text>
<line x1="88.9" y1="358.8" x2="88.9" y2="360.1" stroke="#444" stroke-width="0.5"/>
<line x1="52.7" y1="358.8" x2="52.7" y2="359.6" stroke="#666" stroke-width="0.4"/>
<line x1="66.9" y1="358.8" x2="66.9" y2="359.6" stroke="#666" stroke-width="0.4"/>
<line x1="81.5" y1="358.8" x2="81.5" y2="359.6" stroke="#666" stroke-width="0.4"/>
<line x1="95.5" y1="358.8" x2="95.5" y2="359.6" stroke="#666" stroke-width="0.4"/>
<text x="15" y="405.9" font-size="6.4" text-anchor="middle" fill="#1a1a1a" font-weight="bold" stroke="#1a1a1a" stroke-width="0.35" dominant-baseline="central" transform="rotate(-90 15 405.9)">ETP8</text>
<text x="26" y="406.4" font-size="6.6" text-anchor="middle" fill="#444" font-style="italic" stroke="#444" stroke-width="0.15" textLength="13.5" lengthAdjust="spacingAndGlyphs" dominant-baseline="central" transform="rotate(-90 26 406.4)">Count</text>
<clipPath id="ca5"><rect x="43.5" y="378.6" width="54" height="53.6"/></clipPath>
<g clip-path="url(#ca5)">
<path d="M48.44 432.2 L48.44 431.7 L48.85 431.61 L49.26 431.5 L49.67 431.38 L50.08 431.24 L50.49 431.07 L50.89 430.87 L51.3 430.64 L51.71 430.38 L52.12 430.07 L52.53 429.71 L52.93 429.29 L53.34 428.81 L53.75 428.26 L54.16 427.62 L54.57 426.89 L54.97 426.06 L55.38 425.1 L55.79 424.01 L56.2 422.76 L56.61 421.35 L57.01 419.76 L57.42 417.96 L57.83 415.95 L58.24 413.69 L58.65 411.18 L59.05 408.4 L59.46 405.35 L59.87 402.02 L60.28 398.43 L60.69 394.61 L61.1 390.63 L61.5 386.64 L61.91 383.04 L62 382.5 L62.32 383.06 L62.73 385.33 L63.14 389.12 L63.54 394.04 L63.95 399.62 L64.36 405.4 L64.77 410.95 L65.18 415.96 L65.58 420.24 L65.99 423.71 L66.4 426.39 L66.81 428.37 L67.22 429.77 L67.62 430.71 L68.03 431.32 L68.44 431.7 L68.44 432.2 Z" fill="#bcd6c4" stroke="#c9a04e" stroke-width="0.7"/>
<path d="M67.8 432.2 L67.8 432.2 L68.21 430.62 L68.62 429.45 L69.03 428.4 L69.44 427.42 L69.85 426.49 L70.26 425.59 L70.67 424.72 L71.08 423.88 L71.49 423.05 L71.9 422.25 L72.31 421.46 L72.72 420.69 L73.13 419.93 L73.54 419.18 L73.95 418.44 L74.36 417.71 L74.77 417.29 L75.18 415.58 L75.59 410.3 L76 404.31 L76.41 397.94 L76.82 391.71 L77.23 386.38 L77.64 382.95 L77.8 382.5 L78.05 383.84 L78.46 389 L78.87 396.02 L79.28 403.53 L79.69 410.59 L80.1 416.66 L80.51 421.5 L80.92 425.13 L81.33 427.72 L81.74 429.46 L82.16 430.59 L82.57 431.29 L82.98 431.7 L82.98 432.2 Z" fill="#d65a85" fill-opacity="0.85" stroke="#8a1a3e" stroke-width="0.9"/>
<text x="68" y="409" font-size="4.2" text-anchor="start" fill="#222" stroke="#222" stroke-width="0.15" dominant-baseline="central">MFI: 32,773</text>
</g>
<rect x="43.5" y="378.6" width="54" height="53.6" fill="none" stroke="#222" stroke-width="1.1"/>
<line x1="41.3" y1="384.2" x2="43.5" y2="384.2" stroke="#222" stroke-width="0.7"/>
<text x="40.5" y="384.2" font-size="4.6" text-anchor="end" fill="#333" stroke="#333" stroke-width="0.12" dominant-baseline="central">300</text>
<line x1="41.3" y1="400.2" x2="43.5" y2="400.2" stroke="#222" stroke-width="0.7"/>
<text x="40.5" y="400.2" font-size="4.6" text-anchor="end" fill="#333" stroke="#333" stroke-width="0.12" dominant-baseline="central">200</text>
<line x1="41.3" y1="416.2" x2="43.5" y2="416.2" stroke="#222" stroke-width="0.7"/>
<text x="40.5" y="416.2" font-size="4.6" text-anchor="end" fill="#333" stroke="#333" stroke-width="0.12" dominant-baseline="central">100</text>
<line x1="41.3" y1="432.2" x2="43.5" y2="432.2" stroke="#222" stroke-width="0.7"/>
<text x="40.5" y="432.2" font-size="4.6" text-anchor="end" fill="#333" stroke="#333" stroke-width="0.12" dominant-baseline="central">0</text>
<line x1="42.4" y1="428.2" x2="43.5" y2="428.2" stroke="#555" stroke-width="0.5"/>
<line x1="42.4" y1="424.2" x2="43.5" y2="424.2" stroke="#555" stroke-width="0.5"/>
<line x1="42.4" y1="420.2" x2="43.5" y2="420.2" stroke="#555" stroke-width="0.5"/>
<line x1="42.4" y1="412.2" x2="43.5" y2="412.2" stroke="#555" stroke-width="0.5"/>
<line x1="42.4" y1="408.2" x2="43.5" y2="408.2" stroke="#555" stroke-width="0.5"/>
<line x1="42.4" y1="404.2" x2="43.5" y2="404.2" stroke="#555" stroke-width="0.5"/>
<line x1="42.4" y1="396.2" x2="43.5" y2="396.2" stroke="#555" stroke-width="0.5"/>
<line x1="42.4" y1="392.2" x2="43.5" y2="392.2" stroke="#555" stroke-width="0.5"/>
<line x1="42.4" y1="388.2" x2="43.5" y2="388.2" stroke="#555" stroke-width="0.5"/>
<line x1="42.4" y1="380.2" x2="43.5" y2="380.2" stroke="#555" stroke-width="0.5"/>
<text x="45.1" y="438" font-size="4.7" text-anchor="middle" fill="#444" stroke="#444" stroke-width="0.15" dominant-baseline="central">10</text>
<text x="48.1" y="436.4" font-size="3.2" text-anchor="middle" fill="#444" dominant-baseline="central">0</text>
<line x1="45.7" y1="432.2" x2="45.7" y2="433.5" stroke="#444" stroke-width="0.5"/>
<text x="59.1" y="438" font-size="4.7" text-anchor="middle" fill="#444" stroke="#444" stroke-width="0.15" dominant-baseline="central">10</text>
<text x="62.1" y="436.4" font-size="3.2" text-anchor="middle" fill="#444" dominant-baseline="central">2</text>
<line x1="59.7" y1="432.2" x2="59.7" y2="433.5" stroke="#444" stroke-width="0.5"/>
<text x="73.5" y="438" font-size="4.7" text-anchor="middle" fill="#444" stroke="#444" stroke-width="0.15" dominant-baseline="central">10</text>
<text x="76.5" y="436.4" font-size="3.2" text-anchor="middle" fill="#444" dominant-baseline="central">4</text>
<line x1="74.1" y1="432.2" x2="74.1" y2="433.5" stroke="#444" stroke-width="0.5"/>
<text x="88.3" y="438" font-size="4.7" text-anchor="middle" fill="#444" stroke="#444" stroke-width="0.15" dominant-baseline="central">10</text>
<text x="91.3" y="436.4" font-size="3.2" text-anchor="middle" fill="#444" dominant-baseline="central">6</text>
<line x1="88.9" y1="432.2" x2="88.9" y2="433.5" stroke="#444" stroke-width="0.5"/>
<line x1="52.7" y1="432.2" x2="52.7" y2="433" stroke="#666" stroke-width="0.4"/>
<line x1="66.9" y1="432.2" x2="66.9" y2="433" stroke="#666" stroke-width="0.4"/>
<line x1="81.5" y1="432.2" x2="81.5" y2="433" stroke="#666" stroke-width="0.4"/>
<line x1="95.5" y1="432.2" x2="95.5" y2="433" stroke="#666" stroke-width="0.4"/>
<text x="15" y="479.05" font-size="6.4" text-anchor="middle" fill="#1a1a1a" font-weight="bold" stroke="#1a1a1a" stroke-width="0.35" dominant-baseline="central" transform="rotate(-90 15 479.05)">ETP12</text>
<text x="26" y="479.55" font-size="6.6" text-anchor="middle" fill="#444" font-style="italic" stroke="#444" stroke-width="0.15" textLength="13.5" lengthAdjust="spacingAndGlyphs" dominant-baseline="central" transform="rotate(-90 26 479.55)">Count</text>
<clipPath id="ca6"><rect x="43.5" y="451.6" width="54" height="53.9"/></clipPath>
<g clip-path="url(#ca6)">
<path d="M49.71 505.5 L49.71 505 L50.12 504.91 L50.52 504.79 L50.93 504.66 L51.34 504.5 L51.74 504.31 L52.15 504.08 L52.55 503.82 L52.96 503.52 L53.36 503.15 L53.77 502.73 L54.18 502.24 L54.58 501.67 L54.99 501 L55.39 500.23 L55.8 499.33 L56.2 498.3 L56.61 497.11 L57.01 495.74 L57.42 494.18 L57.83 492.4 L58.23 490.38 L58.64 488.1 L59.04 485.54 L59.45 482.68 L59.85 479.5 L60.26 476.01 L60.67 472.22 L61.07 468.16 L61.48 463.92 L61.88 459.68 L62.29 456.05 L62.3 456 L62.69 457.09 L63.1 460.33 L63.51 465.3 L63.91 471.37 L64.32 477.85 L64.72 484.14 L65.13 489.75 L65.53 494.43 L65.94 498.07 L66.34 500.75 L66.75 502.6 L67.16 503.81 L67.56 504.56 L67.97 505 L67.97 505.5 Z" fill="#bcd6c4" stroke="#c9a04e" stroke-width="0.7"/>
<path d="M71.39 505.5 L71.39 504.99 L71.8 504.73 L72.21 504.36 L72.62 503.83 L73.03 503.1 L73.43 502.11 L73.84 500.79 L74.25 499.08 L74.66 496.89 L75.07 494.17 L75.48 490.89 L75.89 487.02 L76.3 482.6 L76.71 477.74 L77.12 472.6 L77.53 467.43 L77.93 462.58 L78.34 458.48 L78.75 455.68 L79 455 L79.16 455.58 L79.57 459.73 L79.98 466.03 L80.39 473.17 L80.8 480.22 L81.21 486.55 L81.62 491.86 L82.03 496.05 L82.43 499.18 L82.84 501.42 L83.25 502.96 L83.66 503.97 L84.07 504.6 L84.48 504.99 L84.48 505.5 Z" fill="#d65a85" fill-opacity="0.85" stroke="#8a1a3e" stroke-width="0.9"/>
<text x="67.8" y="489" font-size="4.2" text-anchor="start" fill="#222" stroke="#222" stroke-width="0.15" dominant-baseline="central">MFI: 34,453</text>
</g>
<rect x="43.5" y="451.6" width="54" height="53.9" fill="none" stroke="#222" stroke-width="1.1"/>
<line x1="41.3" y1="454.1" x2="43.5" y2="454.1" stroke="#222" stroke-width="0.7"/>
<text x="40.5" y="454.1" font-size="4.6" text-anchor="end" fill="#333" stroke="#333" stroke-width="0.12" dominant-baseline="central">400</text>
<line x1="41.3" y1="466.9" x2="43.5" y2="466.9" stroke="#222" stroke-width="0.7"/>
<text x="40.5" y="466.9" font-size="4.6" text-anchor="end" fill="#333" stroke="#333" stroke-width="0.12" dominant-baseline="central">300</text>
<line x1="41.3" y1="479.7" x2="43.5" y2="479.7" stroke="#222" stroke-width="0.7"/>
<text x="40.5" y="479.7" font-size="4.6" text-anchor="end" fill="#333" stroke="#333" stroke-width="0.12" dominant-baseline="central">200</text>
<line x1="41.3" y1="492.5" x2="43.5" y2="492.5" stroke="#222" stroke-width="0.7"/>
<text x="40.5" y="492.5" font-size="4.6" text-anchor="end" fill="#333" stroke="#333" stroke-width="0.12" dominant-baseline="central">100</text>
<line x1="41.3" y1="505.3" x2="43.5" y2="505.3" stroke="#222" stroke-width="0.7"/>
<text x="40.5" y="505.3" font-size="4.6" text-anchor="end" fill="#333" stroke="#333" stroke-width="0.12" dominant-baseline="central">0</text>
<line x1="42.4" y1="502.1" x2="43.5" y2="502.1" stroke="#555" stroke-width="0.5"/>
<line x1="42.4" y1="498.9" x2="43.5" y2="498.9" stroke="#555" stroke-width="0.5"/>
<line x1="42.4" y1="495.7" x2="43.5" y2="495.7" stroke="#555" stroke-width="0.5"/>
<line x1="42.4" y1="489.3" x2="43.5" y2="489.3" stroke="#555" stroke-width="0.5"/>
<line x1="42.4" y1="486.1" x2="43.5" y2="486.1" stroke="#555" stroke-width="0.5"/>
<line x1="42.4" y1="482.9" x2="43.5" y2="482.9" stroke="#555" stroke-width="0.5"/>
<line x1="42.4" y1="476.5" x2="43.5" y2="476.5" stroke="#555" stroke-width="0.5"/>
<line x1="42.4" y1="473.3" x2="43.5" y2="473.3" stroke="#555" stroke-width="0.5"/>
<line x1="42.4" y1="470.1" x2="43.5" y2="470.1" stroke="#555" stroke-width="0.5"/>
<line x1="42.4" y1="463.7" x2="43.5" y2="463.7" stroke="#555" stroke-width="0.5"/>
<line x1="42.4" y1="460.5" x2="43.5" y2="460.5" stroke="#555" stroke-width="0.5"/>
<line x1="42.4" y1="457.3" x2="43.5" y2="457.3" stroke="#555" stroke-width="0.5"/>
<text x="45.1" y="511.3" font-size="4.7" text-anchor="middle" fill="#444" stroke="#444" stroke-width="0.15" dominant-baseline="central">10</text>
<text x="48.1" y="509.7" font-size="3.2" text-anchor="middle" fill="#444" dominant-baseline="central">0</text>
<line x1="45.7" y1="505.5" x2="45.7" y2="506.8" stroke="#444" stroke-width="0.5"/>
<text x="59.1" y="511.3" font-size="4.7" text-anchor="middle" fill="#444" stroke="#444" stroke-width="0.15" dominant-baseline="central">10</text>
<text x="62.1" y="509.7" font-size="3.2" text-anchor="middle" fill="#444" dominant-baseline="central">2</text>
<line x1="59.7" y1="505.5" x2="59.7" y2="506.8" stroke="#444" stroke-width="0.5"/>
<text x="73.5" y="511.3" font-size="4.7" text-anchor="middle" fill="#444" stroke="#444" stroke-width="0.15" dominant-baseline="central">10</text>
<text x="76.5" y="509.7" font-size="3.2" text-anchor="middle" fill="#444" dominant-baseline="central">4</text>
<line x1="74.1" y1="505.5" x2="74.1" y2="506.8" stroke="#444" stroke-width="0.5"/>
<text x="88.3" y="511.3" font-size="4.7" text-anchor="middle" fill="#444" stroke="#444" stroke-width="0.15" dominant-baseline="central">10</text>
<text x="91.3" y="509.7" font-size="3.2" text-anchor="middle" fill="#444" dominant-baseline="central">6</text>
<line x1="88.9" y1="505.5" x2="88.9" y2="506.8" stroke="#444" stroke-width="0.5"/>
<line x1="52.7" y1="505.5" x2="52.7" y2="506.3" stroke="#666" stroke-width="0.4"/>
<line x1="66.9" y1="505.5" x2="66.9" y2="506.3" stroke="#666" stroke-width="0.4"/>
<line x1="81.5" y1="505.5" x2="81.5" y2="506.3" stroke="#666" stroke-width="0.4"/>
<line x1="95.5" y1="505.5" x2="95.5" y2="506.3" stroke="#666" stroke-width="0.4"/>
<text x="15" y="552" font-size="6.4" text-anchor="middle" fill="#1a1a1a" font-weight="bold" stroke="#1a1a1a" stroke-width="0.35" dominant-baseline="central" transform="rotate(-90 15 552)">ETP13</text>
<text x="26" y="552.5" font-size="6.6" text-anchor="middle" fill="#444" font-style="italic" stroke="#444" stroke-width="0.15" textLength="13.5" lengthAdjust="spacingAndGlyphs" dominant-baseline="central" transform="rotate(-90 26 552.5)">Count</text>
<clipPath id="ca7"><rect x="43.5" y="525" width="54" height="53"/></clipPath>
<g clip-path="url(#ca7)">
<path d="M48.74 578 L48.74 577.5 L49.15 577.41 L49.55 577.31 L49.95 577.19 L50.36 577.05 L50.76 576.88 L51.16 576.69 L51.56 576.47 L51.97 576.21 L52.37 575.91 L52.77 575.57 L53.18 575.17 L53.58 574.71 L53.98 574.17 L54.38 573.56 L54.79 572.86 L55.19 572.06 L55.59 571.15 L56 570.11 L56.4 568.92 L56.8 567.58 L57.2 566.06 L57.61 564.35 L58.01 562.43 L58.41 560.29 L58.82 557.9 L59.22 555.26 L59.62 552.35 L60.02 549.17 L60.43 545.73 L60.83 542.06 L61.23 538.2 L61.63 534.25 L62.04 530.46 L62.3 528.5 L62.44 528.62 L62.84 530.23 L63.25 533.56 L63.65 538.23 L64.05 543.78 L64.45 549.69 L64.86 555.47 L65.26 560.76 L65.66 565.31 L66.07 569.02 L66.47 571.88 L66.87 574 L67.27 575.48 L67.68 576.47 L68.08 577.11 L68.48 577.5 L68.48 578 Z" fill="#bcd6c4" stroke="#c9a04e" stroke-width="0.7"/>
<path d="M69.37 578 L69.37 577.53 L69.78 577.33 L70.18 577.07 L70.59 576.71 L71 576.24 L71.41 575.63 L71.82 574.84 L72.23 573.84 L72.63 572.6 L73.04 571.06 L73.45 569.2 L73.86 566.99 L74.27 564.4 L74.68 561.44 L75.08 558.11 L75.49 554.47 L75.9 550.58 L76.31 546.55 L76.72 542.54 L77.13 538.72 L77.53 535.33 L77.94 532.63 L78.35 531 L78.5 530.8 L78.76 531.49 L79.17 534.15 L79.58 538 L79.99 542.54 L80.39 547.36 L80.8 552.16 L81.21 556.69 L81.62 560.8 L82.03 564.4 L82.44 567.46 L82.84 569.98 L83.25 572.02 L83.66 573.62 L84.07 574.84 L84.48 575.77 L84.89 576.45 L85.29 576.94 L85.7 577.28 L86.11 577.53 L86.11 578 Z" fill="#d65a85" fill-opacity="0.85" stroke="#8a1a3e" stroke-width="0.9"/>
<text x="67.8" y="556.2" font-size="4.2" text-anchor="start" fill="#222" stroke="#222" stroke-width="0.15" dominant-baseline="central">MFI: 51,442</text>
</g>
<rect x="43.5" y="525" width="54" height="53" fill="none" stroke="#222" stroke-width="1.1"/>
<line x1="41.3" y1="529.2" x2="43.5" y2="529.2" stroke="#222" stroke-width="0.7"/>
<text x="40.5" y="529.2" font-size="4.6" text-anchor="end" fill="#333" stroke="#333" stroke-width="0.12" dominant-baseline="central">300</text>
<line x1="41.3" y1="545.4" x2="43.5" y2="545.4" stroke="#222" stroke-width="0.7"/>
<text x="40.5" y="545.4" font-size="4.6" text-anchor="end" fill="#333" stroke="#333" stroke-width="0.12" dominant-baseline="central">200</text>
<line x1="41.3" y1="561.6" x2="43.5" y2="561.6" stroke="#222" stroke-width="0.7"/>
<text x="40.5" y="561.6" font-size="4.6" text-anchor="end" fill="#333" stroke="#333" stroke-width="0.12" dominant-baseline="central">100</text>
<line x1="41.3" y1="577.8" x2="43.5" y2="577.8" stroke="#222" stroke-width="0.7"/>
<text x="40.5" y="577.8" font-size="4.6" text-anchor="end" fill="#333" stroke="#333" stroke-width="0.12" dominant-baseline="central">0</text>
<line x1="42.4" y1="573.75" x2="43.5" y2="573.75" stroke="#555" stroke-width="0.5"/>
<line x1="42.4" y1="569.7" x2="43.5" y2="569.7" stroke="#555" stroke-width="0.5"/>
<line x1="42.4" y1="565.65" x2="43.5" y2="565.65" stroke="#555" stroke-width="0.5"/>
<line x1="42.4" y1="557.55" x2="43.5" y2="557.55" stroke="#555" stroke-width="0.5"/>
<line x1="42.4" y1="553.5" x2="43.5" y2="553.5" stroke="#555" stroke-width="0.5"/>
<line x1="42.4" y1="549.45" x2="43.5" y2="549.45" stroke="#555" stroke-width="0.5"/>
<line x1="42.4" y1="541.35" x2="43.5" y2="541.35" stroke="#555" stroke-width="0.5"/>
<line x1="42.4" y1="537.3" x2="43.5" y2="537.3" stroke="#555" stroke-width="0.5"/>
<line x1="42.4" y1="533.25" x2="43.5" y2="533.25" stroke="#555" stroke-width="0.5"/>
<text x="45.1" y="583.8" font-size="4.7" text-anchor="middle" fill="#444" stroke="#444" stroke-width="0.15" dominant-baseline="central">10</text>
<text x="48.1" y="582.2" font-size="3.2" text-anchor="middle" fill="#444" dominant-baseline="central">0</text>
<line x1="45.7" y1="578" x2="45.7" y2="579.3" stroke="#444" stroke-width="0.5"/>
<text x="59.1" y="583.8" font-size="4.7" text-anchor="middle" fill="#444" stroke="#444" stroke-width="0.15" dominant-baseline="central">10</text>
<text x="62.1" y="582.2" font-size="3.2" text-anchor="middle" fill="#444" dominant-baseline="central">2</text>
<line x1="59.7" y1="578" x2="59.7" y2="579.3" stroke="#444" stroke-width="0.5"/>
<text x="73.5" y="583.8" font-size="4.7" text-anchor="middle" fill="#444" stroke="#444" stroke-width="0.15" dominant-baseline="central">10</text>
<text x="76.5" y="582.2" font-size="3.2" text-anchor="middle" fill="#444" dominant-baseline="central">4</text>
<line x1="74.1" y1="578" x2="74.1" y2="579.3" stroke="#444" stroke-width="0.5"/>
<text x="88.3" y="583.8" font-size="4.7" text-anchor="middle" fill="#444" stroke="#444" stroke-width="0.15" dominant-baseline="central">10</text>
<text x="91.3" y="582.2" font-size="3.2" text-anchor="middle" fill="#444" dominant-baseline="central">6</text>
<line x1="88.9" y1="578" x2="88.9" y2="579.3" stroke="#444" stroke-width="0.5"/>
<line x1="52.7" y1="578" x2="52.7" y2="578.8" stroke="#666" stroke-width="0.4"/>
<line x1="66.9" y1="578" x2="66.9" y2="578.8" stroke="#666" stroke-width="0.4"/>
<line x1="81.5" y1="578" x2="81.5" y2="578.8" stroke="#666" stroke-width="0.4"/>
<line x1="95.5" y1="578" x2="95.5" y2="578.8" stroke="#666" stroke-width="0.4"/>
<text x="15" y="624.15" font-size="6.4" text-anchor="middle" fill="#1a1a1a" font-weight="bold" stroke="#1a1a1a" stroke-width="0.35" dominant-baseline="central" transform="rotate(-90 15 624.15)">ETP27</text>
<text x="26" y="624.65" font-size="6.6" text-anchor="middle" fill="#444" font-style="italic" stroke="#444" stroke-width="0.15" textLength="13.5" lengthAdjust="spacingAndGlyphs" dominant-baseline="central" transform="rotate(-90 26 624.65)">Count</text>
<clipPath id="ca8"><rect x="43.5" y="596.7" width="54" height="53.9"/></clipPath>
<g clip-path="url(#ca8)">
<path d="M49.43 650.6 L49.43 650.11 L49.83 650.01 L50.24 649.91 L50.64 649.78 L51.05 649.63 L51.45 649.46 L51.86 649.25 L52.26 649.01 L52.67 648.73 L53.07 648.4 L53.48 648.02 L53.88 647.58 L54.29 647.07 L54.69 646.48 L55.1 645.8 L55.5 645.01 L55.91 644.11 L56.31 643.07 L56.72 641.88 L57.12 640.53 L57.53 638.99 L57.93 637.25 L58.34 635.28 L58.74 633.08 L59.15 630.61 L59.55 627.86 L59.96 624.83 L60.36 621.51 L60.77 617.91 L61.17 614.06 L61.58 610.04 L61.98 605.97 L62.39 602.24 L62.5 601.5 L62.79 602.22 L63.2 605.47 L63.6 610.83 L64.01 617.48 L64.41 624.55 L64.82 631.24 L65.22 637.01 L65.63 641.58 L66.03 644.95 L66.44 647.26 L66.84 648.73 L67.25 649.61 L67.65 650.11 L67.65 650.6 Z" fill="#bcd6c4" stroke="#c9a04e" stroke-width="0.7"/>
<path d="M75.43 650.6 L75.43 650.1 L75.85 649.61 L76.26 648.72 L76.68 647.19 L77.09 644.73 L77.51 640.99 L77.92 635.72 L78.34 628.84 L78.75 620.67 L79.17 612.11 L79.58 604.72 L80 601 L80 601 L80.42 604.72 L80.83 612.11 L81.25 620.67 L81.66 628.84 L82.08 635.72 L82.49 640.99 L82.91 644.73 L83.32 647.19 L83.74 648.72 L84.15 649.61 L84.57 650.1 L84.57 650.6 Z" fill="#d65a85" fill-opacity="0.85" stroke="#8a1a3e" stroke-width="0.9"/>
<text x="67.8" y="631" font-size="4.2" text-anchor="start" fill="#222" stroke="#222" stroke-width="0.15" dominant-baseline="central">MFI: 60,127</text>
</g>
<rect x="43.5" y="596.7" width="54" height="53.9" fill="none" stroke="#222" stroke-width="1.1"/>
<line x1="41.3" y1="605.2" x2="43.5" y2="605.2" stroke="#222" stroke-width="0.7"/>
<text x="40.5" y="605.2" font-size="4.6" text-anchor="end" fill="#333" stroke="#333" stroke-width="0.12" dominant-baseline="central">600</text>
<line x1="41.3" y1="620.2" x2="43.5" y2="620.2" stroke="#222" stroke-width="0.7"/>
<text x="40.5" y="620.2" font-size="4.6" text-anchor="end" fill="#333" stroke="#333" stroke-width="0.12" dominant-baseline="central">400</text>
<line x1="41.3" y1="635.2" x2="43.5" y2="635.2" stroke="#222" stroke-width="0.7"/>
<text x="40.5" y="635.2" font-size="4.6" text-anchor="end" fill="#333" stroke="#333" stroke-width="0.12" dominant-baseline="central">200</text>
<line x1="41.3" y1="650.3" x2="43.5" y2="650.3" stroke="#222" stroke-width="0.7"/>
<text x="40.5" y="650.3" font-size="4.6" text-anchor="end" fill="#333" stroke="#333" stroke-width="0.12" dominant-baseline="central">0</text>
<line x1="42.4" y1="646.54" x2="43.5" y2="646.54" stroke="#555" stroke-width="0.5"/>
<line x1="42.4" y1="642.78" x2="43.5" y2="642.78" stroke="#555" stroke-width="0.5"/>
<line x1="42.4" y1="639.02" x2="43.5" y2="639.02" stroke="#555" stroke-width="0.5"/>
<line x1="42.4" y1="631.51" x2="43.5" y2="631.51" stroke="#555" stroke-width="0.5"/>
<line x1="42.4" y1="627.75" x2="43.5" y2="627.75" stroke="#555" stroke-width="0.5"/>
<line x1="42.4" y1="623.99" x2="43.5" y2="623.99" stroke="#555" stroke-width="0.5"/>
<line x1="42.4" y1="616.48" x2="43.5" y2="616.48" stroke="#555" stroke-width="0.5"/>
<line x1="42.4" y1="612.72" x2="43.5" y2="612.72" stroke="#555" stroke-width="0.5"/>
<line x1="42.4" y1="608.96" x2="43.5" y2="608.96" stroke="#555" stroke-width="0.5"/>
<line x1="42.4" y1="601.44" x2="43.5" y2="601.44" stroke="#555" stroke-width="0.5"/>
<line x1="42.4" y1="597.68" x2="43.5" y2="597.68" stroke="#555" stroke-width="0.5"/>
<text x="45.1" y="656.4" font-size="4.7" text-anchor="middle" fill="#444" stroke="#444" stroke-width="0.15" dominant-baseline="central">10</text>
<text x="48.1" y="654.8" font-size="3.2" text-anchor="middle" fill="#444" dominant-baseline="central">0</text>
<line x1="45.7" y1="650.6" x2="45.7" y2="651.9" stroke="#444" stroke-width="0.5"/>
<text x="59.1" y="656.4" font-size="4.7" text-anchor="middle" fill="#444" stroke="#444" stroke-width="0.15" dominant-baseline="central">10</text>
<text x="62.1" y="654.8" font-size="3.2" text-anchor="middle" fill="#444" dominant-baseline="central">2</text>
<line x1="59.7" y1="650.6" x2="59.7" y2="651.9" stroke="#444" stroke-width="0.5"/>
<text x="73.5" y="656.4" font-size="4.7" text-anchor="middle" fill="#444" stroke="#444" stroke-width="0.15" dominant-baseline="central">10</text>
<text x="76.5" y="654.8" font-size="3.2" text-anchor="middle" fill="#444" dominant-baseline="central">4</text>
<line x1="74.1" y1="650.6" x2="74.1" y2="651.9" stroke="#444" stroke-width="0.5"/>
<text x="88.3" y="656.4" font-size="4.7" text-anchor="middle" fill="#444" stroke="#444" stroke-width="0.15" dominant-baseline="central">10</text>
<text x="91.3" y="654.8" font-size="3.2" text-anchor="middle" fill="#444" dominant-baseline="central">6</text>
<line x1="88.9" y1="650.6" x2="88.9" y2="651.9" stroke="#444" stroke-width="0.5"/>
<line x1="52.7" y1="650.6" x2="52.7" y2="651.4" stroke="#666" stroke-width="0.4"/>
<line x1="66.9" y1="650.6" x2="66.9" y2="651.4" stroke="#666" stroke-width="0.4"/>
<line x1="81.5" y1="650.6" x2="81.5" y2="651.4" stroke="#666" stroke-width="0.4"/>
<line x1="95.5" y1="650.6" x2="95.5" y2="651.4" stroke="#666" stroke-width="0.4"/>
<text x="70" y="665.1" font-size="7" text-anchor="middle" fill="#333" textLength="19.7" lengthAdjust="spacingAndGlyphs" dominant-baseline="central">CD38-PE</text>
<text x="272.9" y="48.5" font-size="6.4" text-anchor="middle" fill="#1a1a1a" font-weight="bold" stroke="#1a1a1a" stroke-width="0.35" dominant-baseline="central" transform="rotate(-90 272.9 48.5)">TALL25</text>
<text x="283.7" y="49" font-size="6.6" text-anchor="middle" fill="#444" font-style="italic" stroke="#444" stroke-width="0.15" textLength="13.5" lengthAdjust="spacingAndGlyphs" dominant-baseline="central" transform="rotate(-90 283.7 49)">Count</text>
<clipPath id="cb0"><rect x="303.3" y="21" width="54.3" height="54"/></clipPath>
<g clip-path="url(#cb0)">
<path d="M310.38 75 L310.38 74.51 L310.79 74.4 L311.2 74.27 L311.61 74.12 L312.02 73.94 L312.43 73.72 L312.84 73.46 L313.24 73.14 L313.65 72.77 L314.06 72.33 L314.47 71.81 L314.88 71.19 L315.29 70.46 L315.7 69.6 L316.11 68.59 L316.52 67.42 L316.93 66.05 L317.34 64.46 L317.74 62.63 L318.15 60.52 L318.56 58.1 L318.97 55.36 L319.38 52.26 L319.79 48.8 L320.2 44.96 L320.61 40.77 L321.02 36.28 L321.43 31.65 L321.83 27.25 L322 25.9 L322.24 26.4 L322.65 29.39 L323.06 34.61 L323.47 41.25 L323.88 48.39 L324.29 55.19 L324.7 61.09 L325.11 65.78 L325.52 69.24 L325.93 71.6 L326.33 73.11 L326.74 74 L327.15 74.51 L327.15 75 Z" fill="#d2bb86" stroke="#b39a62" stroke-width="0.7"/>
<path d="M333.09 75 L333.09 74.5 L333.5 73.99 L333.91 73.05 L334.33 71.42 L334.74 68.77 L335.15 64.74 L335.56 59.05 L335.98 51.68 L336.39 43.1 L336.8 34.43 L337.22 27.58 L337.5 25.5 L337.63 26.1 L338.04 31.92 L338.46 40.57 L338.87 49.62 L339.28 57.6 L339.7 63.85 L340.11 68.29 L340.52 71.19 L340.94 72.96 L341.35 73.97 L341.76 74.5 L341.76 75 Z" fill="#d65a85" fill-opacity="0.85" stroke="#8a1a3e" stroke-width="0.9"/>
<text x="330.5" y="60.6" font-size="4.2" text-anchor="start" fill="#222" stroke="#222" stroke-width="0.15" dominant-baseline="central">MFI: 32,840</text>
</g>
<rect x="303.3" y="21" width="54.3" height="54" fill="none" stroke="#222" stroke-width="1.1"/>
<line x1="301.1" y1="28" x2="303.3" y2="28" stroke="#222" stroke-width="0.7"/>
<text x="300.3" y="28" font-size="4.6" text-anchor="end" fill="#333" stroke="#333" stroke-width="0.12" dominant-baseline="central">500</text>
<line x1="301.1" y1="37.3" x2="303.3" y2="37.3" stroke="#222" stroke-width="0.7"/>
<text x="300.3" y="37.3" font-size="4.6" text-anchor="end" fill="#333" stroke="#333" stroke-width="0.12" dominant-baseline="central">400</text>
<line x1="301.1" y1="46.7" x2="303.3" y2="46.7" stroke="#222" stroke-width="0.7"/>
<text x="300.3" y="46.7" font-size="4.6" text-anchor="end" fill="#333" stroke="#333" stroke-width="0.12" dominant-baseline="central">300</text>
<line x1="301.1" y1="56.1" x2="303.3" y2="56.1" stroke="#222" stroke-width="0.7"/>
<text x="300.3" y="56.1" font-size="4.6" text-anchor="end" fill="#333" stroke="#333" stroke-width="0.12" dominant-baseline="central">200</text>
<line x1="301.1" y1="65.4" x2="303.3" y2="65.4" stroke="#222" stroke-width="0.7"/>
<text x="300.3" y="65.4" font-size="4.6" text-anchor="end" fill="#333" stroke="#333" stroke-width="0.12" dominant-baseline="central">100</text>
<line x1="301.1" y1="74.7" x2="303.3" y2="74.7" stroke="#222" stroke-width="0.7"/>
<text x="300.3" y="74.7" font-size="4.6" text-anchor="end" fill="#333" stroke="#333" stroke-width="0.12" dominant-baseline="central">0</text>
<line x1="302.2" y1="72.37" x2="303.3" y2="72.37" stroke="#555" stroke-width="0.5"/>
<line x1="302.2" y1="70.03" x2="303.3" y2="70.03" stroke="#555" stroke-width="0.5"/>
<line x1="302.2" y1="67.7" x2="303.3" y2="67.7" stroke="#555" stroke-width="0.5"/>
<line x1="302.2" y1="63.03" x2="303.3" y2="63.03" stroke="#555" stroke-width="0.5"/>
<line x1="302.2" y1="60.69" x2="303.3" y2="60.69" stroke="#555" stroke-width="0.5"/>
<line x1="302.2" y1="58.36" x2="303.3" y2="58.36" stroke="#555" stroke-width="0.5"/>
<line x1="302.2" y1="53.69" x2="303.3" y2="53.69" stroke="#555" stroke-width="0.5"/>
<line x1="302.2" y1="51.35" x2="303.3" y2="51.35" stroke="#555" stroke-width="0.5"/>
<line x1="302.2" y1="49.02" x2="303.3" y2="49.02" stroke="#555" stroke-width="0.5"/>
<line x1="302.2" y1="44.34" x2="303.3" y2="44.34" stroke="#555" stroke-width="0.5"/>
<line x1="302.2" y1="42.01" x2="303.3" y2="42.01" stroke="#555" stroke-width="0.5"/>
<line x1="302.2" y1="39.68" x2="303.3" y2="39.68" stroke="#555" stroke-width="0.5"/>
<line x1="302.2" y1="35.01" x2="303.3" y2="35.01" stroke="#555" stroke-width="0.5"/>
<line x1="302.2" y1="32.67" x2="303.3" y2="32.67" stroke="#555" stroke-width="0.5"/>
<line x1="302.2" y1="30.34" x2="303.3" y2="30.34" stroke="#555" stroke-width="0.5"/>
<line x1="302.2" y1="25.67" x2="303.3" y2="25.67" stroke="#555" stroke-width="0.5"/>
<line x1="302.2" y1="23.33" x2="303.3" y2="23.33" stroke="#555" stroke-width="0.5"/>
<text x="304.9" y="80.8" font-size="4.7" text-anchor="middle" fill="#444" stroke="#444" stroke-width="0.15" dominant-baseline="central">10</text>
<text x="307.9" y="79.2" font-size="3.2" text-anchor="middle" fill="#444" dominant-baseline="central">0</text>
<line x1="305.5" y1="75" x2="305.5" y2="76.3" stroke="#444" stroke-width="0.5"/>
<text x="318.9" y="80.8" font-size="4.7" text-anchor="middle" fill="#444" stroke="#444" stroke-width="0.15" dominant-baseline="central">10</text>
<text x="321.9" y="79.2" font-size="3.2" text-anchor="middle" fill="#444" dominant-baseline="central">2</text>
<line x1="319.5" y1="75" x2="319.5" y2="76.3" stroke="#444" stroke-width="0.5"/>
<text x="333.3" y="80.8" font-size="4.7" text-anchor="middle" fill="#444" stroke="#444" stroke-width="0.15" dominant-baseline="central">10</text>
<text x="336.3" y="79.2" font-size="3.2" text-anchor="middle" fill="#444" dominant-baseline="central">4</text>
<line x1="333.9" y1="75" x2="333.9" y2="76.3" stroke="#444" stroke-width="0.5"/>
<text x="348.1" y="80.8" font-size="4.7" text-anchor="middle" fill="#444" stroke="#444" stroke-width="0.15" dominant-baseline="central">10</text>
<text x="351.1" y="79.2" font-size="3.2" text-anchor="middle" fill="#444" dominant-baseline="central">6</text>
<line x1="348.7" y1="75" x2="348.7" y2="76.3" stroke="#444" stroke-width="0.5"/>
<line x1="312.5" y1="75" x2="312.5" y2="75.8" stroke="#666" stroke-width="0.4"/>
<line x1="326.7" y1="75" x2="326.7" y2="75.8" stroke="#666" stroke-width="0.4"/>
<line x1="341.3" y1="75" x2="341.3" y2="75.8" stroke="#666" stroke-width="0.4"/>
<line x1="355.3" y1="75" x2="355.3" y2="75.8" stroke="#666" stroke-width="0.4"/>
<text x="272.9" y="117.9" font-size="6.4" text-anchor="middle" fill="#1a1a1a" font-weight="bold" stroke="#1a1a1a" stroke-width="0.35" dominant-baseline="central" transform="rotate(-90 272.9 117.9)">TALL34</text>
<text x="283.7" y="118.4" font-size="6.6" text-anchor="middle" fill="#444" font-style="italic" stroke="#444" stroke-width="0.15" textLength="13.5" lengthAdjust="spacingAndGlyphs" dominant-baseline="central" transform="rotate(-90 283.7 118.4)">Count</text>
<clipPath id="cb1"><rect x="303.3" y="90.5" width="54.3" height="53.8"/></clipPath>
<g clip-path="url(#cb1)">
<path d="M311.17 144.3 L311.17 143.82 L311.57 143.71 L311.97 143.58 L312.37 143.43 L312.77 143.24 L313.17 143.02 L313.57 142.75 L313.97 142.43 L314.37 142.05 L314.77 141.59 L315.17 141.05 L315.57 140.41 L315.97 139.65 L316.37 138.75 L316.78 137.7 L317.18 136.46 L317.58 135.02 L317.98 133.35 L318.38 131.41 L318.78 129.18 L319.18 126.63 L319.58 123.73 L319.98 120.46 L320.38 116.81 L320.78 112.78 L321.18 108.42 L321.58 103.83 L321.99 99.26 L322.3 96.3 L322.39 96.37 L322.79 98.43 L323.19 103.03 L323.59 109.39 L323.99 116.54 L324.39 123.54 L324.79 129.71 L325.19 134.65 L325.59 138.31 L325.99 140.8 L326.39 142.38 L326.79 143.31 L327.19 143.82 L327.19 144.3 Z" fill="#d2bb86" stroke="#b39a62" stroke-width="0.7"/>
<path d="M324.78 144.3 L324.78 143.83 L325.18 143.61 L325.58 143.32 L325.98 142.91 L326.38 142.35 L326.78 141.62 L327.18 140.66 L327.58 139.42 L327.98 137.86 L328.39 135.93 L328.79 133.6 L329.19 130.82 L329.59 127.59 L329.99 123.95 L330.39 119.94 L330.79 115.67 L331.19 111.3 L331.59 107.03 L331.99 103.12 L332.39 99.91 L332.79 97.82 L333 97.4 L333.19 97.88 L333.59 100.53 L333.99 104.59 L334.39 109.41 L334.79 114.53 L335.2 119.58 L335.6 124.28 L336 128.48 L336.4 132.08 L336.8 135.07 L337.2 137.48 L337.6 139.36 L338 140.8 L338.4 141.86 L338.8 142.64 L339.2 143.19 L339.6 143.57 L340 143.83 L340 144.3 Z" fill="#d65a85" fill-opacity="0.85" stroke="#8a1a3e" stroke-width="0.9"/>
<text x="328.6" y="131.9" font-size="4.2" text-anchor="start" fill="#222" stroke="#222" stroke-width="0.15" dominant-baseline="central">MFI: 10,341</text>
</g>
<rect x="303.3" y="90.5" width="54.3" height="53.8" fill="none" stroke="#222" stroke-width="1.1"/>
<line x1="301.1" y1="97.6" x2="303.3" y2="97.6" stroke="#222" stroke-width="0.7"/>
<text x="300.3" y="97.6" font-size="4.6" text-anchor="end" fill="#333" stroke="#333" stroke-width="0.12" dominant-baseline="central">250</text>
<line x1="301.1" y1="106.9" x2="303.3" y2="106.9" stroke="#222" stroke-width="0.7"/>
<text x="300.3" y="106.9" font-size="4.6" text-anchor="end" fill="#333" stroke="#333" stroke-width="0.12" dominant-baseline="central">200</text>
<line x1="301.1" y1="116.2" x2="303.3" y2="116.2" stroke="#222" stroke-width="0.7"/>
<text x="300.3" y="116.2" font-size="4.6" text-anchor="end" fill="#333" stroke="#333" stroke-width="0.12" dominant-baseline="central">150</text>
<line x1="301.1" y1="125.5" x2="303.3" y2="125.5" stroke="#222" stroke-width="0.7"/>
<text x="300.3" y="125.5" font-size="4.6" text-anchor="end" fill="#333" stroke="#333" stroke-width="0.12" dominant-baseline="central">100</text>
<line x1="301.1" y1="134.8" x2="303.3" y2="134.8" stroke="#222" stroke-width="0.7"/>
<text x="300.3" y="134.8" font-size="4.6" text-anchor="end" fill="#333" stroke="#333" stroke-width="0.12" dominant-baseline="central">50</text>
<line x1="301.1" y1="144.1" x2="303.3" y2="144.1" stroke="#222" stroke-width="0.7"/>
<text x="300.3" y="144.1" font-size="4.6" text-anchor="end" fill="#333" stroke="#333" stroke-width="0.12" dominant-baseline="central">0</text>
<line x1="302.2" y1="141.78" x2="303.3" y2="141.78" stroke="#555" stroke-width="0.5"/>
<line x1="302.2" y1="139.45" x2="303.3" y2="139.45" stroke="#555" stroke-width="0.5"/>
<line x1="302.2" y1="137.12" x2="303.3" y2="137.12" stroke="#555" stroke-width="0.5"/>
<line x1="302.2" y1="132.47" x2="303.3" y2="132.47" stroke="#555" stroke-width="0.5"/>
<line x1="302.2" y1="130.15" x2="303.3" y2="130.15" stroke="#555" stroke-width="0.5"/>
<line x1="302.2" y1="127.82" x2="303.3" y2="127.82" stroke="#555" stroke-width="0.5"/>
<line x1="302.2" y1="123.17" x2="303.3" y2="123.17" stroke="#555" stroke-width="0.5"/>
<line x1="302.2" y1="120.85" x2="303.3" y2="120.85" stroke="#555" stroke-width="0.5"/>
<line x1="302.2" y1="118.52" x2="303.3" y2="118.52" stroke="#555" stroke-width="0.5"/>
<line x1="302.2" y1="113.88" x2="303.3" y2="113.88" stroke="#555" stroke-width="0.5"/>
<line x1="302.2" y1="111.55" x2="303.3" y2="111.55" stroke="#555" stroke-width="0.5"/>
<line x1="302.2" y1="109.22" x2="303.3" y2="109.22" stroke="#555" stroke-width="0.5"/>
<line x1="302.2" y1="104.57" x2="303.3" y2="104.57" stroke="#555" stroke-width="0.5"/>
<line x1="302.2" y1="102.25" x2="303.3" y2="102.25" stroke="#555" stroke-width="0.5"/>
<line x1="302.2" y1="99.92" x2="303.3" y2="99.92" stroke="#555" stroke-width="0.5"/>
<line x1="302.2" y1="95.27" x2="303.3" y2="95.27" stroke="#555" stroke-width="0.5"/>
<line x1="302.2" y1="92.95" x2="303.3" y2="92.95" stroke="#555" stroke-width="0.5"/>
<text x="304.9" y="150.1" font-size="4.7" text-anchor="middle" fill="#444" stroke="#444" stroke-width="0.15" dominant-baseline="central">10</text>
<text x="307.9" y="148.5" font-size="3.2" text-anchor="middle" fill="#444" dominant-baseline="central">0</text>
<line x1="305.5" y1="144.3" x2="305.5" y2="145.6" stroke="#444" stroke-width="0.5"/>
<text x="318.9" y="150.1" font-size="4.7" text-anchor="middle" fill="#444" stroke="#444" stroke-width="0.15" dominant-baseline="central">10</text>
<text x="321.9" y="148.5" font-size="3.2" text-anchor="middle" fill="#444" dominant-baseline="central">2</text>
<line x1="319.5" y1="144.3" x2="319.5" y2="145.6" stroke="#444" stroke-width="0.5"/>
<text x="333.3" y="150.1" font-size="4.7" text-anchor="middle" fill="#444" stroke="#444" stroke-width="0.15" dominant-baseline="central">10</text>
<text x="336.3" y="148.5" font-size="3.2" text-anchor="middle" fill="#444" dominant-baseline="central">4</text>
<line x1="333.9" y1="144.3" x2="333.9" y2="145.6" stroke="#444" stroke-width="0.5"/>
<text x="348.1" y="150.1" font-size="4.7" text-anchor="middle" fill="#444" stroke="#444" stroke-width="0.15" dominant-baseline="central">10</text>
<text x="351.1" y="148.5" font-size="3.2" text-anchor="middle" fill="#444" dominant-baseline="central">6</text>
<line x1="348.7" y1="144.3" x2="348.7" y2="145.6" stroke="#444" stroke-width="0.5"/>
<line x1="312.5" y1="144.3" x2="312.5" y2="145.1" stroke="#666" stroke-width="0.4"/>
<line x1="326.7" y1="144.3" x2="326.7" y2="145.1" stroke="#666" stroke-width="0.4"/>
<line x1="341.3" y1="144.3" x2="341.3" y2="145.1" stroke="#666" stroke-width="0.4"/>
<line x1="355.3" y1="144.3" x2="355.3" y2="145.1" stroke="#666" stroke-width="0.4"/>
<text x="272.8" y="188.4" font-size="6.4" text-anchor="middle" fill="#1a1a1a" font-weight="bold" stroke="#1a1a1a" stroke-width="0.35" dominant-baseline="central" transform="rotate(-90 272.8 188.4)">TALL75</text>
<text x="283.6" y="188.9" font-size="6.6" text-anchor="middle" fill="#444" font-style="italic" stroke="#444" stroke-width="0.15" textLength="13.5" lengthAdjust="spacingAndGlyphs" dominant-baseline="central" transform="rotate(-90 283.6 188.9)">Count</text>
<clipPath id="cb2"><rect x="303.2" y="161" width="54.3" height="53.8"/></clipPath>
<g clip-path="url(#cb2)">
<path d="M308.24 214.8 L308.24 214.31 L308.65 214.23 L309.06 214.12 L309.47 214 L309.88 213.86 L310.28 213.7 L310.69 213.51 L311.1 213.29 L311.51 213.03 L311.91 212.73 L312.32 212.38 L312.73 211.98 L313.14 211.52 L313.54 210.98 L313.95 210.36 L314.36 209.66 L314.77 208.85 L315.17 207.92 L315.58 206.86 L315.99 205.66 L316.4 204.29 L316.8 202.75 L317.21 201.01 L317.62 199.06 L318.03 196.88 L318.43 194.45 L318.84 191.76 L319.25 188.8 L319.66 185.58 L320.07 182.1 L320.47 178.4 L320.88 174.54 L321.29 170.67 L321.7 167.14 L321.8 166.5 L322.1 167.55 L322.51 172.01 L322.92 179.02 L323.33 187.17 L323.73 195.1 L324.14 201.83 L324.55 206.92 L324.96 210.37 L325.36 212.51 L325.77 213.7 L326.18 214.31 L326.18 214.8 Z" fill="#d2bb86" stroke="#b39a62" stroke-width="0.7"/>
<path d="M325.78 214.8 L325.78 214.3 L326.18 214.08 L326.58 213.78 L326.99 213.36 L327.39 212.81 L327.79 212.08 L328.2 211.13 L328.6 209.91 L329 208.38 L329.41 206.49 L329.81 204.2 L330.21 201.48 L330.62 198.3 L331.02 194.7 L331.42 190.7 L331.83 186.39 L332.23 181.91 L332.63 177.42 L333.04 173.17 L333.44 169.43 L333.84 166.56 L334.25 165.04 L334.3 165 L334.65 166.21 L335.05 169.3 L335.46 173.49 L335.86 178.31 L336.26 183.35 L336.67 188.32 L337.07 192.98 L337.47 197.2 L337.88 200.88 L338.28 204 L338.68 206.58 L339.09 208.65 L339.49 210.28 L339.89 211.54 L340.3 212.48 L340.7 213.18 L341.1 213.69 L341.51 214.05 L341.91 214.3 L341.91 214.8 Z" fill="#d65a85" fill-opacity="0.85" stroke="#8a1a3e" stroke-width="0.9"/>
<text x="329" y="199" font-size="4.2" text-anchor="start" fill="#222" stroke="#222" stroke-width="0.15" dominant-baseline="central">MFI: 18,782</text>
</g>
<rect x="303.2" y="161" width="54.3" height="53.8" fill="none" stroke="#222" stroke-width="1.1"/>
<line x1="301" y1="161.7" x2="303.2" y2="161.7" stroke="#222" stroke-width="0.7"/>
<text x="300.2" y="161.7" font-size="4.6" text-anchor="end" fill="#333" stroke="#333" stroke-width="0.12" dominant-baseline="central">300</text>
<line x1="301" y1="179.3" x2="303.2" y2="179.3" stroke="#222" stroke-width="0.7"/>
<text x="300.2" y="179.3" font-size="4.6" text-anchor="end" fill="#333" stroke="#333" stroke-width="0.12" dominant-baseline="central">200</text>
<line x1="301" y1="197" x2="303.2" y2="197" stroke="#222" stroke-width="0.7"/>
<text x="300.2" y="197" font-size="4.6" text-anchor="end" fill="#333" stroke="#333" stroke-width="0.12" dominant-baseline="central">100</text>
<line x1="301" y1="214.4" x2="303.2" y2="214.4" stroke="#222" stroke-width="0.7"/>
<text x="300.2" y="214.4" font-size="4.6" text-anchor="end" fill="#333" stroke="#333" stroke-width="0.12" dominant-baseline="central">0</text>
<line x1="302.1" y1="210.01" x2="303.2" y2="210.01" stroke="#555" stroke-width="0.5"/>
<line x1="302.1" y1="205.62" x2="303.2" y2="205.62" stroke="#555" stroke-width="0.5"/>
<line x1="302.1" y1="201.22" x2="303.2" y2="201.22" stroke="#555" stroke-width="0.5"/>
<line x1="302.1" y1="192.44" x2="303.2" y2="192.44" stroke="#555" stroke-width="0.5"/>
<line x1="302.1" y1="188.05" x2="303.2" y2="188.05" stroke="#555" stroke-width="0.5"/>
<line x1="302.1" y1="183.66" x2="303.2" y2="183.66" stroke="#555" stroke-width="0.5"/>
<line x1="302.1" y1="174.88" x2="303.2" y2="174.88" stroke="#555" stroke-width="0.5"/>
<line x1="302.1" y1="170.48" x2="303.2" y2="170.48" stroke="#555" stroke-width="0.5"/>
<line x1="302.1" y1="166.09" x2="303.2" y2="166.09" stroke="#555" stroke-width="0.5"/>
<text x="304.8" y="220.6" font-size="4.7" text-anchor="middle" fill="#444" stroke="#444" stroke-width="0.15" dominant-baseline="central">10</text>
<text x="307.8" y="219" font-size="3.2" text-anchor="middle" fill="#444" dominant-baseline="central">0</text>
<line x1="305.4" y1="214.8" x2="305.4" y2="216.1" stroke="#444" stroke-width="0.5"/>
<text x="318.8" y="220.6" font-size="4.7" text-anchor="middle" fill="#444" stroke="#444" stroke-width="0.15" dominant-baseline="central">10</text>
<text x="321.8" y="219" font-size="3.2" text-anchor="middle" fill="#444" dominant-baseline="central">2</text>
<line x1="319.4" y1="214.8" x2="319.4" y2="216.1" stroke="#444" stroke-width="0.5"/>
<text x="333.2" y="220.6" font-size="4.7" text-anchor="middle" fill="#444" stroke="#444" stroke-width="0.15" dominant-baseline="central">10</text>
<text x="336.2" y="219" font-size="3.2" text-anchor="middle" fill="#444" dominant-baseline="central">4</text>
<line x1="333.8" y1="214.8" x2="333.8" y2="216.1" stroke="#444" stroke-width="0.5"/>
<text x="348" y="220.6" font-size="4.7" text-anchor="middle" fill="#444" stroke="#444" stroke-width="0.15" dominant-baseline="central">10</text>
<text x="351" y="219" font-size="3.2" text-anchor="middle" fill="#444" dominant-baseline="central">6</text>
<line x1="348.6" y1="214.8" x2="348.6" y2="216.1" stroke="#444" stroke-width="0.5"/>
<line x1="312.4" y1="214.8" x2="312.4" y2="215.6" stroke="#666" stroke-width="0.4"/>
<line x1="326.6" y1="214.8" x2="326.6" y2="215.6" stroke="#666" stroke-width="0.4"/>
<line x1="341.2" y1="214.8" x2="341.2" y2="215.6" stroke="#666" stroke-width="0.4"/>
<line x1="355.2" y1="214.8" x2="355.2" y2="215.6" stroke="#666" stroke-width="0.4"/>
<text x="272.9" y="260.6" font-size="6.4" text-anchor="middle" fill="#1a1a1a" font-weight="bold" stroke="#1a1a1a" stroke-width="0.35" dominant-baseline="central" transform="rotate(-90 272.9 260.6)">TALL116</text>
<text x="283.7" y="261.1" font-size="6.6" text-anchor="middle" fill="#444" font-style="italic" stroke="#444" stroke-width="0.15" textLength="13.5" lengthAdjust="spacingAndGlyphs" dominant-baseline="central" transform="rotate(-90 283.7 261.1)">Count</text>
<clipPath id="cb3"><rect x="303.3" y="233.2" width="54.3" height="53.8"/></clipPath>
<g clip-path="url(#cb3)">
<path d="M309.13 287 L309.13 286.53 L309.53 286.44 L309.93 286.34 L310.34 286.22 L310.74 286.08 L311.14 285.91 L311.54 285.72 L311.95 285.49 L312.35 285.22 L312.75 284.92 L313.15 284.56 L313.56 284.14 L313.96 283.66 L314.36 283.11 L314.76 282.46 L315.17 281.72 L315.57 280.87 L315.97 279.9 L316.37 278.79 L316.78 277.52 L317.18 276.08 L317.58 274.45 L317.98 272.61 L318.39 270.54 L318.79 268.23 L319.19 265.66 L319.59 262.82 L320 259.71 L320.4 256.33 L320.8 252.7 L321.2 248.89 L321.61 245.02 L322.01 241.35 L322.2 240 L322.41 240.44 L322.81 243.62 L323.21 249.3 L323.62 256.42 L324.02 263.86 L324.42 270.66 L324.82 276.24 L325.23 280.38 L325.63 283.2 L326.03 284.97 L326.43 285.99 L326.84 286.53 L326.84 287 Z" fill="#d2bb86" stroke="#b39a62" stroke-width="0.7"/>
<path d="M329.39 287 L329.39 286.5 L329.79 286.25 L330.2 285.88 L330.6 285.38 L331 284.68 L331.4 283.73 L331.81 282.47 L332.21 280.84 L332.61 278.76 L333.02 276.18 L333.42 273.06 L333.82 269.37 L334.22 265.16 L334.63 260.48 L335.03 255.51 L335.43 250.45 L335.84 245.61 L336.24 241.38 L336.64 238.26 L337 237 L337.04 237.05 L337.45 239.65 L337.85 244.48 L338.25 250.45 L338.66 256.77 L339.06 262.87 L339.46 268.37 L339.87 273.06 L340.27 276.88 L340.67 279.86 L341.07 282.1 L341.48 283.73 L341.88 284.87 L342.28 285.65 L342.69 286.17 L343.09 286.5 L343.09 287 Z" fill="#d65a85" fill-opacity="0.85" stroke="#8a1a3e" stroke-width="0.9"/>
<text x="330.2" y="270.8" font-size="4.2" text-anchor="start" fill="#222" stroke="#222" stroke-width="0.15" dominant-baseline="central">MFI: 31,374</text>
</g>
<rect x="303.3" y="233.2" width="54.3" height="53.8" fill="none" stroke="#222" stroke-width="1.1"/>
<line x1="301.1" y1="239.2" x2="303.3" y2="239.2" stroke="#222" stroke-width="0.7"/>
<text x="300.3" y="239.2" font-size="4.6" text-anchor="end" fill="#333" stroke="#333" stroke-width="0.12" dominant-baseline="central">400</text>
<line x1="301.1" y1="251.3" x2="303.3" y2="251.3" stroke="#222" stroke-width="0.7"/>
<text x="300.3" y="251.3" font-size="4.6" text-anchor="end" fill="#333" stroke="#333" stroke-width="0.12" dominant-baseline="central">300</text>
<line x1="301.1" y1="263.5" x2="303.3" y2="263.5" stroke="#222" stroke-width="0.7"/>
<text x="300.3" y="263.5" font-size="4.6" text-anchor="end" fill="#333" stroke="#333" stroke-width="0.12" dominant-baseline="central">200</text>
<line x1="301.1" y1="275.7" x2="303.3" y2="275.7" stroke="#222" stroke-width="0.7"/>
<text x="300.3" y="275.7" font-size="4.6" text-anchor="end" fill="#333" stroke="#333" stroke-width="0.12" dominant-baseline="central">100</text>
<line x1="301.1" y1="287.1" x2="303.3" y2="287.1" stroke="#222" stroke-width="0.7"/>
<text x="300.3" y="287.1" font-size="4.6" text-anchor="end" fill="#333" stroke="#333" stroke-width="0.12" dominant-baseline="central">0</text>
<line x1="302.2" y1="284.11" x2="303.3" y2="284.11" stroke="#555" stroke-width="0.5"/>
<line x1="302.2" y1="281.11" x2="303.3" y2="281.11" stroke="#555" stroke-width="0.5"/>
<line x1="302.2" y1="278.12" x2="303.3" y2="278.12" stroke="#555" stroke-width="0.5"/>
<line x1="302.2" y1="272.13" x2="303.3" y2="272.13" stroke="#555" stroke-width="0.5"/>
<line x1="302.2" y1="269.14" x2="303.3" y2="269.14" stroke="#555" stroke-width="0.5"/>
<line x1="302.2" y1="266.14" x2="303.3" y2="266.14" stroke="#555" stroke-width="0.5"/>
<line x1="302.2" y1="260.16" x2="303.3" y2="260.16" stroke="#555" stroke-width="0.5"/>
<line x1="302.2" y1="257.16" x2="303.3" y2="257.16" stroke="#555" stroke-width="0.5"/>
<line x1="302.2" y1="254.17" x2="303.3" y2="254.17" stroke="#555" stroke-width="0.5"/>
<line x1="302.2" y1="248.18" x2="303.3" y2="248.18" stroke="#555" stroke-width="0.5"/>
<line x1="302.2" y1="245.19" x2="303.3" y2="245.19" stroke="#555" stroke-width="0.5"/>
<line x1="302.2" y1="242.19" x2="303.3" y2="242.19" stroke="#555" stroke-width="0.5"/>
<line x1="302.2" y1="236.21" x2="303.3" y2="236.21" stroke="#555" stroke-width="0.5"/>
<text x="304.9" y="292.8" font-size="4.7" text-anchor="middle" fill="#444" stroke="#444" stroke-width="0.15" dominant-baseline="central">10</text>
<text x="307.9" y="291.2" font-size="3.2" text-anchor="middle" fill="#444" dominant-baseline="central">0</text>
<line x1="305.5" y1="287" x2="305.5" y2="288.3" stroke="#444" stroke-width="0.5"/>
<text x="318.9" y="292.8" font-size="4.7" text-anchor="middle" fill="#444" stroke="#444" stroke-width="0.15" dominant-baseline="central">10</text>
<text x="321.9" y="291.2" font-size="3.2" text-anchor="middle" fill="#444" dominant-baseline="central">2</text>
<line x1="319.5" y1="287" x2="319.5" y2="288.3" stroke="#444" stroke-width="0.5"/>
<text x="333.3" y="292.8" font-size="4.7" text-anchor="middle" fill="#444" stroke="#444" stroke-width="0.15" dominant-baseline="central">10</text>
<text x="336.3" y="291.2" font-size="3.2" text-anchor="middle" fill="#444" dominant-baseline="central">4</text>
<line x1="333.9" y1="287" x2="333.9" y2="288.3" stroke="#444" stroke-width="0.5"/>
<text x="348.1" y="292.8" font-size="4.7" text-anchor="middle" fill="#444" stroke="#444" stroke-width="0.15" dominant-baseline="central">10</text>
<text x="351.1" y="291.2" font-size="3.2" text-anchor="middle" fill="#444" dominant-baseline="central">6</text>
<line x1="348.7" y1="287" x2="348.7" y2="288.3" stroke="#444" stroke-width="0.5"/>
<line x1="312.5" y1="287" x2="312.5" y2="287.8" stroke="#666" stroke-width="0.4"/>
<line x1="326.7" y1="287" x2="326.7" y2="287.8" stroke="#666" stroke-width="0.4"/>
<line x1="341.3" y1="287" x2="341.3" y2="287.8" stroke="#666" stroke-width="0.4"/>
<line x1="355.3" y1="287" x2="355.3" y2="287.8" stroke="#666" stroke-width="0.4"/>
<text x="272.6" y="333.3" font-size="6.4" text-anchor="middle" fill="#1a1a1a" font-weight="bold" stroke="#1a1a1a" stroke-width="0.35" dominant-baseline="central" transform="rotate(-90 272.6 333.3)">TALL745</text>
<text x="283.4" y="333.8" font-size="6.6" text-anchor="middle" fill="#444" font-style="italic" stroke="#444" stroke-width="0.15" textLength="13.5" lengthAdjust="spacingAndGlyphs" dominant-baseline="central" transform="rotate(-90 283.4 333.8)">Count</text>
<clipPath id="cb4"><rect x="303" y="306.5" width="54.3" height="52.6"/></clipPath>
<g clip-path="url(#cb4)">
<path d="M308.74 359.1 L308.74 358.63 L309.15 358.55 L309.55 358.45 L309.95 358.34 L310.35 358.21 L310.75 358.05 L311.15 357.88 L311.55 357.67 L311.95 357.43 L312.35 357.15 L312.75 356.83 L313.15 356.46 L313.55 356.03 L313.95 355.54 L314.35 354.97 L314.75 354.33 L315.15 353.59 L315.55 352.74 L315.95 351.78 L316.35 350.68 L316.75 349.44 L317.15 348.04 L317.56 346.47 L317.96 344.7 L318.36 342.72 L318.76 340.52 L319.16 338.08 L319.56 335.4 L319.96 332.47 L320.36 329.29 L320.76 325.88 L321.16 322.29 L321.56 318.6 L321.96 315 L322.3 312.5 L322.36 312.52 L322.76 313.9 L323.16 317.2 L323.56 322.01 L323.96 327.74 L324.36 333.77 L324.76 339.56 L325.16 344.71 L325.56 348.97 L325.97 352.29 L326.37 354.73 L326.77 356.42 L327.17 357.53 L327.57 358.22 L327.97 358.63 L327.97 359.1 Z" fill="#d2bb86" stroke="#b39a62" stroke-width="0.7"/>
<path d="M333.93 359.1 L333.93 358.61 L334.35 358.12 L334.76 357.23 L335.18 355.72 L335.59 353.28 L336.01 349.59 L336.42 344.37 L336.84 337.56 L337.25 329.47 L337.67 321 L338.08 313.69 L338.5 310 L338.5 310 L338.92 313.69 L339.33 321 L339.75 329.47 L340.16 337.56 L340.58 344.37 L340.99 349.59 L341.41 353.28 L341.82 355.72 L342.24 357.23 L342.65 358.12 L343.07 358.61 L343.07 359.1 Z" fill="#d65a85" fill-opacity="0.85" stroke="#8a1a3e" stroke-width="0.9"/>
<text x="331.8" y="341.5" font-size="4.2" text-anchor="start" fill="#222" stroke="#222" stroke-width="0.15" dominant-baseline="central">MFI: 44,443</text>
</g>
<rect x="303" y="306.5" width="54.3" height="52.6" fill="none" stroke="#222" stroke-width="1.1"/>
<line x1="300.8" y1="308.1" x2="303" y2="308.1" stroke="#222" stroke-width="0.7"/>
<text x="300" y="308.1" font-size="4.6" text-anchor="end" fill="#333" stroke="#333" stroke-width="0.12" dominant-baseline="central">600</text>
<line x1="300.8" y1="325.1" x2="303" y2="325.1" stroke="#222" stroke-width="0.7"/>
<text x="300" y="325.1" font-size="4.6" text-anchor="end" fill="#333" stroke="#333" stroke-width="0.12" dominant-baseline="central">400</text>
<line x1="300.8" y1="342" x2="303" y2="342" stroke="#222" stroke-width="0.7"/>
<text x="300" y="342" font-size="4.6" text-anchor="end" fill="#333" stroke="#333" stroke-width="0.12" dominant-baseline="central">200</text>
<line x1="300.8" y1="358.9" x2="303" y2="358.9" stroke="#222" stroke-width="0.7"/>
<text x="300" y="358.9" font-size="4.6" text-anchor="end" fill="#333" stroke="#333" stroke-width="0.12" dominant-baseline="central">0</text>
<line x1="301.9" y1="354.67" x2="303" y2="354.67" stroke="#555" stroke-width="0.5"/>
<line x1="301.9" y1="350.43" x2="303" y2="350.43" stroke="#555" stroke-width="0.5"/>
<line x1="301.9" y1="346.2" x2="303" y2="346.2" stroke="#555" stroke-width="0.5"/>
<line x1="301.9" y1="337.73" x2="303" y2="337.73" stroke="#555" stroke-width="0.5"/>
<line x1="301.9" y1="333.5" x2="303" y2="333.5" stroke="#555" stroke-width="0.5"/>
<line x1="301.9" y1="329.27" x2="303" y2="329.27" stroke="#555" stroke-width="0.5"/>
<line x1="301.9" y1="320.8" x2="303" y2="320.8" stroke="#555" stroke-width="0.5"/>
<line x1="301.9" y1="316.57" x2="303" y2="316.57" stroke="#555" stroke-width="0.5"/>
<line x1="301.9" y1="312.33" x2="303" y2="312.33" stroke="#555" stroke-width="0.5"/>
<text x="304.6" y="364.9" font-size="4.7" text-anchor="middle" fill="#444" stroke="#444" stroke-width="0.15" dominant-baseline="central">10</text>
<text x="307.6" y="363.3" font-size="3.2" text-anchor="middle" fill="#444" dominant-baseline="central">0</text>
<line x1="305.2" y1="359.1" x2="305.2" y2="360.4" stroke="#444" stroke-width="0.5"/>
<text x="318.6" y="364.9" font-size="4.7" text-anchor="middle" fill="#444" stroke="#444" stroke-width="0.15" dominant-baseline="central">10</text>
<text x="321.6" y="363.3" font-size="3.2" text-anchor="middle" fill="#444" dominant-baseline="central">2</text>
<line x1="319.2" y1="359.1" x2="319.2" y2="360.4" stroke="#444" stroke-width="0.5"/>
<text x="333" y="364.9" font-size="4.7" text-anchor="middle" fill="#444" stroke="#444" stroke-width="0.15" dominant-baseline="central">10</text>
<text x="336" y="363.3" font-size="3.2" text-anchor="middle" fill="#444" dominant-baseline="central">4</text>
<line x1="333.6" y1="359.1" x2="333.6" y2="360.4" stroke="#444" stroke-width="0.5"/>
<text x="347.8" y="364.9" font-size="4.7" text-anchor="middle" fill="#444" stroke="#444" stroke-width="0.15" dominant-baseline="central">10</text>
<text x="350.8" y="363.3" font-size="3.2" text-anchor="middle" fill="#444" dominant-baseline="central">6</text>
<line x1="348.4" y1="359.1" x2="348.4" y2="360.4" stroke="#444" stroke-width="0.5"/>
<line x1="312.2" y1="359.1" x2="312.2" y2="359.9" stroke="#666" stroke-width="0.4"/>
<line x1="326.4" y1="359.1" x2="326.4" y2="359.9" stroke="#666" stroke-width="0.4"/>
<line x1="341" y1="359.1" x2="341" y2="359.9" stroke="#666" stroke-width="0.4"/>
<line x1="355" y1="359.1" x2="355" y2="359.9" stroke="#666" stroke-width="0.4"/>
<text x="272.6" y="406.1" font-size="6.4" text-anchor="middle" fill="#1a1a1a" font-weight="bold" stroke="#1a1a1a" stroke-width="0.35" dominant-baseline="central" transform="rotate(-90 272.6 406.1)">TALL8</text>
<text x="283.4" y="406.6" font-size="6.6" text-anchor="middle" fill="#444" font-style="italic" stroke="#444" stroke-width="0.15" textLength="13.5" lengthAdjust="spacingAndGlyphs" dominant-baseline="central" transform="rotate(-90 283.4 406.6)">Count</text>
<clipPath id="cb5"><rect x="303" y="379" width="54.3" height="53.2"/></clipPath>
<g clip-path="url(#cb5)">
<path d="M308.24 432.2 L308.24 431.72 L308.65 431.63 L309.06 431.53 L309.46 431.41 L309.87 431.27 L310.28 431.11 L310.69 430.92 L311.09 430.7 L311.5 430.44 L311.91 430.14 L312.31 429.8 L312.72 429.4 L313.13 428.94 L313.53 428.41 L313.94 427.79 L314.35 427.09 L314.75 426.29 L315.16 425.37 L315.57 424.32 L315.97 423.13 L316.38 421.78 L316.79 420.25 L317.19 418.53 L317.6 416.6 L318.01 414.44 L318.41 412.03 L318.82 409.37 L319.23 406.45 L319.63 403.25 L320.04 399.81 L320.45 396.13 L320.85 392.3 L321.26 388.43 L321.67 384.87 L321.8 384 L322.07 384.61 L322.48 387.7 L322.89 392.9 L323.29 399.43 L323.7 406.39 L324.11 413.01 L324.51 418.73 L324.92 423.27 L325.33 426.61 L325.73 428.89 L326.14 430.35 L326.55 431.23 L326.95 431.72 L326.95 432.2 Z" fill="#d2bb86" stroke="#b39a62" stroke-width="0.7"/>
<path d="M332.73 432.2 L332.73 431.7 L333.14 431.21 L333.55 430.34 L333.95 428.88 L334.36 426.52 L334.76 422.97 L335.17 417.95 L335.57 411.36 L335.98 403.44 L336.39 394.94 L336.79 387.22 L337.2 382.36 L337.3 382 L337.6 384.86 L338.01 393.03 L338.42 402.8 L338.82 411.92 L339.23 419.25 L339.63 424.5 L340.04 427.92 L340.45 429.97 L340.85 431.11 L341.26 431.7 L341.26 432.2 Z" fill="#d65a85" fill-opacity="0.85" stroke="#8a1a3e" stroke-width="0.9"/>
<text x="329" y="410.5" font-size="4.2" text-anchor="start" fill="#222" stroke="#222" stroke-width="0.15" dominant-baseline="central">MFI: 39,144</text>
</g>
<rect x="303" y="379" width="54.3" height="53.2" fill="none" stroke="#222" stroke-width="1.1"/>
<line x1="300.8" y1="387.2" x2="303" y2="387.2" stroke="#222" stroke-width="0.7"/>
<text x="300" y="387.2" font-size="4.6" text-anchor="end" fill="#333" stroke="#333" stroke-width="0.12" dominant-baseline="central">600</text>
<line x1="300.8" y1="402.3" x2="303" y2="402.3" stroke="#222" stroke-width="0.7"/>
<text x="300" y="402.3" font-size="4.6" text-anchor="end" fill="#333" stroke="#333" stroke-width="0.12" dominant-baseline="central">400</text>
<line x1="300.8" y1="417.4" x2="303" y2="417.4" stroke="#222" stroke-width="0.7"/>
<text x="300" y="417.4" font-size="4.6" text-anchor="end" fill="#333" stroke="#333" stroke-width="0.12" dominant-baseline="central">200</text>
<line x1="300.8" y1="432.2" x2="303" y2="432.2" stroke="#222" stroke-width="0.7"/>
<text x="300" y="432.2" font-size="4.6" text-anchor="end" fill="#333" stroke="#333" stroke-width="0.12" dominant-baseline="central">0</text>
<line x1="301.9" y1="428.45" x2="303" y2="428.45" stroke="#555" stroke-width="0.5"/>
<line x1="301.9" y1="424.7" x2="303" y2="424.7" stroke="#555" stroke-width="0.5"/>
<line x1="301.9" y1="420.95" x2="303" y2="420.95" stroke="#555" stroke-width="0.5"/>
<line x1="301.9" y1="413.45" x2="303" y2="413.45" stroke="#555" stroke-width="0.5"/>
<line x1="301.9" y1="409.7" x2="303" y2="409.7" stroke="#555" stroke-width="0.5"/>
<line x1="301.9" y1="405.95" x2="303" y2="405.95" stroke="#555" stroke-width="0.5"/>
<line x1="301.9" y1="398.45" x2="303" y2="398.45" stroke="#555" stroke-width="0.5"/>
<line x1="301.9" y1="394.7" x2="303" y2="394.7" stroke="#555" stroke-width="0.5"/>
<line x1="301.9" y1="390.95" x2="303" y2="390.95" stroke="#555" stroke-width="0.5"/>
<line x1="301.9" y1="383.45" x2="303" y2="383.45" stroke="#555" stroke-width="0.5"/>
<line x1="301.9" y1="379.7" x2="303" y2="379.7" stroke="#555" stroke-width="0.5"/>
<text x="304.6" y="438" font-size="4.7" text-anchor="middle" fill="#444" stroke="#444" stroke-width="0.15" dominant-baseline="central">10</text>
<text x="307.6" y="436.4" font-size="3.2" text-anchor="middle" fill="#444" dominant-baseline="central">0</text>
<line x1="305.2" y1="432.2" x2="305.2" y2="433.5" stroke="#444" stroke-width="0.5"/>
<text x="318.6" y="438" font-size="4.7" text-anchor="middle" fill="#444" stroke="#444" stroke-width="0.15" dominant-baseline="central">10</text>
<text x="321.6" y="436.4" font-size="3.2" text-anchor="middle" fill="#444" dominant-baseline="central">2</text>
<line x1="319.2" y1="432.2" x2="319.2" y2="433.5" stroke="#444" stroke-width="0.5"/>
<text x="333" y="438" font-size="4.7" text-anchor="middle" fill="#444" stroke="#444" stroke-width="0.15" dominant-baseline="central">10</text>
<text x="336" y="436.4" font-size="3.2" text-anchor="middle" fill="#444" dominant-baseline="central">4</text>
<line x1="333.6" y1="432.2" x2="333.6" y2="433.5" stroke="#444" stroke-width="0.5"/>
<text x="347.8" y="438" font-size="4.7" text-anchor="middle" fill="#444" stroke="#444" stroke-width="0.15" dominant-baseline="central">10</text>
<text x="350.8" y="436.4" font-size="3.2" text-anchor="middle" fill="#444" dominant-baseline="central">6</text>
<line x1="348.4" y1="432.2" x2="348.4" y2="433.5" stroke="#444" stroke-width="0.5"/>
<line x1="312.2" y1="432.2" x2="312.2" y2="433" stroke="#666" stroke-width="0.4"/>
<line x1="326.4" y1="432.2" x2="326.4" y2="433" stroke="#666" stroke-width="0.4"/>
<line x1="341" y1="432.2" x2="341" y2="433" stroke="#666" stroke-width="0.4"/>
<line x1="355" y1="432.2" x2="355" y2="433" stroke="#666" stroke-width="0.4"/>
<text x="272.4" y="479.1" font-size="6.4" text-anchor="middle" fill="#1a1a1a" font-weight="bold" stroke="#1a1a1a" stroke-width="0.35" dominant-baseline="central" transform="rotate(-90 272.4 479.1)">TALL20</text>
<text x="283.2" y="479.6" font-size="6.6" text-anchor="middle" fill="#444" font-style="italic" stroke="#444" stroke-width="0.15" textLength="13.5" lengthAdjust="spacingAndGlyphs" dominant-baseline="central" transform="rotate(-90 283.2 479.6)">Count</text>
<clipPath id="cb6"><rect x="302.8" y="451.7" width="54.3" height="53.8"/></clipPath>
<g clip-path="url(#cb6)">
<path d="M308.4 505.5 L308.4 505.02 L308.8 504.92 L309.2 504.81 L309.6 504.67 L310 504.51 L310.4 504.32 L310.8 504.09 L311.2 503.82 L311.6 503.5 L312 503.13 L312.4 502.69 L312.8 502.18 L313.2 501.58 L313.61 500.88 L314.01 500.07 L314.41 499.13 L314.81 498.03 L315.21 496.77 L315.61 495.32 L316.01 493.66 L316.41 491.77 L316.81 489.62 L317.21 487.18 L317.61 484.45 L318.01 481.4 L318.41 478.03 L318.81 474.35 L319.21 470.37 L319.61 466.18 L320.02 461.93 L320.42 458.07 L320.5 457.5 L320.82 458.13 L321.22 460.63 L321.62 464.75 L322.02 470.01 L322.42 475.87 L322.82 481.78 L323.22 487.29 L323.62 492.1 L324.02 496.05 L324.42 499.1 L324.82 501.35 L325.22 502.92 L325.62 503.96 L326.02 504.62 L326.43 505.02 L326.43 505.5 Z" fill="#d2bb86" stroke="#b39a62" stroke-width="0.7"/>
<path d="M313.99 505.5 L313.99 505.01 L314.4 504.93 L314.8 504.83 L315.21 504.71 L315.61 504.58 L316.02 504.43 L316.42 504.25 L316.82 504.04 L317.23 503.81 L317.63 503.53 L318.04 503.22 L318.44 502.86 L318.85 502.45 L319.25 501.99 L319.66 501.45 L320.06 500.85 L320.47 500.17 L320.87 499.4 L321.28 498.53 L321.68 497.55 L322.09 496.46 L322.49 495.24 L322.9 493.88 L323.3 492.37 L323.7 490.71 L324.11 488.88 L324.51 486.88 L324.92 484.7 L325.32 482.34 L325.73 479.8 L326.13 477.09 L326.54 474.23 L326.94 471.24 L327.35 468.16 L327.75 465.05 L328.16 462.01 L328.56 459.21 L328.97 457.08 L329 457 L329.37 457.73 L329.77 460.12 L330.18 463.93 L330.58 468.78 L330.99 474.22 L331.39 479.81 L331.8 485.15 L332.2 489.95 L332.61 494.05 L333.01 497.36 L333.42 499.93 L333.82 501.82 L334.23 503.15 L334.63 504.06 L335.04 504.65 L335.44 505.01 L335.44 505.5 Z" fill="#d65a85" fill-opacity="0.85" stroke="#8a1a3e" stroke-width="0.9"/>
<text x="328" y="489.6" font-size="4.2" text-anchor="start" fill="#222" stroke="#222" stroke-width="0.15" dominant-baseline="central">MFI: 3134</text>
</g>
<rect x="302.8" y="451.7" width="54.3" height="53.8" fill="none" stroke="#222" stroke-width="1.1"/>
<line x1="300.6" y1="455.2" x2="302.8" y2="455.2" stroke="#222" stroke-width="0.7"/>
<text x="299.8" y="455.2" font-size="4.6" text-anchor="end" fill="#333" stroke="#333" stroke-width="0.12" dominant-baseline="central">300</text>
<line x1="300.6" y1="472" x2="302.8" y2="472" stroke="#222" stroke-width="0.7"/>
<text x="299.8" y="472" font-size="4.6" text-anchor="end" fill="#333" stroke="#333" stroke-width="0.12" dominant-baseline="central">200</text>
<line x1="300.6" y1="488.8" x2="302.8" y2="488.8" stroke="#222" stroke-width="0.7"/>
<text x="299.8" y="488.8" font-size="4.6" text-anchor="end" fill="#333" stroke="#333" stroke-width="0.12" dominant-baseline="central">100</text>
<line x1="300.6" y1="505.4" x2="302.8" y2="505.4" stroke="#222" stroke-width="0.7"/>
<text x="299.8" y="505.4" font-size="4.6" text-anchor="end" fill="#333" stroke="#333" stroke-width="0.12" dominant-baseline="central">0</text>
<line x1="301.7" y1="501.22" x2="302.8" y2="501.22" stroke="#555" stroke-width="0.5"/>
<line x1="301.7" y1="497.03" x2="302.8" y2="497.03" stroke="#555" stroke-width="0.5"/>
<line x1="301.7" y1="492.85" x2="302.8" y2="492.85" stroke="#555" stroke-width="0.5"/>
<line x1="301.7" y1="484.48" x2="302.8" y2="484.48" stroke="#555" stroke-width="0.5"/>
<line x1="301.7" y1="480.3" x2="302.8" y2="480.3" stroke="#555" stroke-width="0.5"/>
<line x1="301.7" y1="476.12" x2="302.8" y2="476.12" stroke="#555" stroke-width="0.5"/>
<line x1="301.7" y1="467.75" x2="302.8" y2="467.75" stroke="#555" stroke-width="0.5"/>
<line x1="301.7" y1="463.57" x2="302.8" y2="463.57" stroke="#555" stroke-width="0.5"/>
<line x1="301.7" y1="459.38" x2="302.8" y2="459.38" stroke="#555" stroke-width="0.5"/>
<text x="304.4" y="511.3" font-size="4.7" text-anchor="middle" fill="#444" stroke="#444" stroke-width="0.15" dominant-baseline="central">10</text>
<text x="307.4" y="509.7" font-size="3.2" text-anchor="middle" fill="#444" dominant-baseline="central">0</text>
<line x1="305" y1="505.5" x2="305" y2="506.8" stroke="#444" stroke-width="0.5"/>
<text x="318.4" y="511.3" font-size="4.7" text-anchor="middle" fill="#444" stroke="#444" stroke-width="0.15" dominant-baseline="central">10</text>
<text x="321.4" y="509.7" font-size="3.2" text-anchor="middle" fill="#444" dominant-baseline="central">2</text>
<line x1="319" y1="505.5" x2="319" y2="506.8" stroke="#444" stroke-width="0.5"/>
<text x="332.8" y="511.3" font-size="4.7" text-anchor="middle" fill="#444" stroke="#444" stroke-width="0.15" dominant-baseline="central">10</text>
<text x="335.8" y="509.7" font-size="3.2" text-anchor="middle" fill="#444" dominant-baseline="central">4</text>
<line x1="333.4" y1="505.5" x2="333.4" y2="506.8" stroke="#444" stroke-width="0.5"/>
<text x="347.6" y="511.3" font-size="4.7" text-anchor="middle" fill="#444" stroke="#444" stroke-width="0.15" dominant-baseline="central">10</text>
<text x="350.6" y="509.7" font-size="3.2" text-anchor="middle" fill="#444" dominant-baseline="central">6</text>
<line x1="348.2" y1="505.5" x2="348.2" y2="506.8" stroke="#444" stroke-width="0.5"/>
<line x1="312" y1="505.5" x2="312" y2="506.3" stroke="#666" stroke-width="0.4"/>
<line x1="326.2" y1="505.5" x2="326.2" y2="506.3" stroke="#666" stroke-width="0.4"/>
<line x1="340.8" y1="505.5" x2="340.8" y2="506.3" stroke="#666" stroke-width="0.4"/>
<line x1="354.8" y1="505.5" x2="354.8" y2="506.3" stroke="#666" stroke-width="0.4"/>
<text x="271.2" y="551.55" font-size="6.4" text-anchor="middle" fill="#1a1a1a" font-weight="bold" stroke="#1a1a1a" stroke-width="0.35" dominant-baseline="central" transform="rotate(-90 271.2 551.55)">ETP12</text>
<text x="282" y="552.05" font-size="6.6" text-anchor="middle" fill="#444" font-style="italic" stroke="#444" stroke-width="0.15" textLength="13.5" lengthAdjust="spacingAndGlyphs" dominant-baseline="central" transform="rotate(-90 282 552.05)">Count</text>
<clipPath id="cb7"><rect x="301.6" y="523.7" width="54.3" height="54.7"/></clipPath>
<g clip-path="url(#cb7)">
<path d="M306.74 578.4 L306.74 577.91 L307.15 577.82 L307.55 577.72 L307.95 577.6 L308.35 577.46 L308.75 577.3 L309.15 577.12 L309.55 576.9 L309.95 576.65 L310.35 576.36 L310.75 576.02 L311.15 575.63 L311.55 575.18 L311.95 574.66 L312.35 574.07 L312.75 573.39 L313.15 572.61 L313.55 571.73 L313.95 570.71 L314.35 569.57 L314.75 568.27 L315.15 566.8 L315.56 565.14 L315.96 563.29 L316.36 561.21 L316.76 558.9 L317.16 556.34 L317.56 553.53 L317.96 550.45 L318.36 547.12 L318.76 543.54 L319.16 539.78 L319.56 535.91 L319.96 532.12 L320.3 529.5 L320.36 529.53 L320.76 530.97 L321.16 534.43 L321.56 539.48 L321.96 545.49 L322.36 551.82 L322.76 557.9 L323.16 563.3 L323.56 567.77 L323.97 571.26 L324.37 573.82 L324.77 575.59 L325.17 576.75 L325.57 577.48 L325.97 577.91 L325.97 578.4 Z" fill="#d2bb86" stroke="#b39a62" stroke-width="0.7"/>
<path d="M329.8 578.4 L329.8 577.89 L330.21 577.61 L330.62 577.18 L331.03 576.57 L331.43 575.7 L331.84 574.49 L332.25 572.86 L332.66 570.72 L333.07 567.98 L333.48 564.58 L333.89 560.49 L334.3 555.75 L334.71 550.47 L335.12 544.88 L335.53 539.31 L335.93 534.22 L336.34 530.19 L336.75 528.05 L336.8 528 L337.16 529.87 L337.57 534.45 L337.98 540.4 L338.39 546.86 L338.8 553.17 L339.21 558.9 L339.62 563.82 L340.03 567.83 L340.43 570.96 L340.84 573.31 L341.25 575.02 L341.66 576.21 L342.07 577.02 L342.48 577.55 L342.89 577.89 L342.89 578.4 Z" fill="#d65a85" fill-opacity="0.85" stroke="#8a1a3e" stroke-width="0.9"/>
<text x="328.2" y="562.5" font-size="4.2" text-anchor="start" fill="#222" stroke="#222" stroke-width="0.15" dominant-baseline="central">MFI: 18,483</text>
</g>
<rect x="301.6" y="523.7" width="54.3" height="54.7" fill="none" stroke="#222" stroke-width="1.1"/>
<line x1="299.4" y1="527.1" x2="301.6" y2="527.1" stroke="#222" stroke-width="0.7"/>
<text x="298.6" y="527.1" font-size="4.6" text-anchor="end" fill="#333" stroke="#333" stroke-width="0.12" dominant-baseline="central">400</text>
<line x1="299.4" y1="539.9" x2="301.6" y2="539.9" stroke="#222" stroke-width="0.7"/>
<text x="298.6" y="539.9" font-size="4.6" text-anchor="end" fill="#333" stroke="#333" stroke-width="0.12" dominant-baseline="central">300</text>
<line x1="299.4" y1="552.7" x2="301.6" y2="552.7" stroke="#222" stroke-width="0.7"/>
<text x="298.6" y="552.7" font-size="4.6" text-anchor="end" fill="#333" stroke="#333" stroke-width="0.12" dominant-baseline="central">200</text>
<line x1="299.4" y1="565.5" x2="301.6" y2="565.5" stroke="#222" stroke-width="0.7"/>
<text x="298.6" y="565.5" font-size="4.6" text-anchor="end" fill="#333" stroke="#333" stroke-width="0.12" dominant-baseline="central">100</text>
<line x1="299.4" y1="578.2" x2="301.6" y2="578.2" stroke="#222" stroke-width="0.7"/>
<text x="298.6" y="578.2" font-size="4.6" text-anchor="end" fill="#333" stroke="#333" stroke-width="0.12" dominant-baseline="central">0</text>
<line x1="300.5" y1="575.01" x2="301.6" y2="575.01" stroke="#555" stroke-width="0.5"/>
<line x1="300.5" y1="571.81" x2="301.6" y2="571.81" stroke="#555" stroke-width="0.5"/>
<line x1="300.5" y1="568.62" x2="301.6" y2="568.62" stroke="#555" stroke-width="0.5"/>
<line x1="300.5" y1="562.23" x2="301.6" y2="562.23" stroke="#555" stroke-width="0.5"/>
<line x1="300.5" y1="559.04" x2="301.6" y2="559.04" stroke="#555" stroke-width="0.5"/>
<line x1="300.5" y1="555.84" x2="301.6" y2="555.84" stroke="#555" stroke-width="0.5"/>
<line x1="300.5" y1="549.46" x2="301.6" y2="549.46" stroke="#555" stroke-width="0.5"/>
<line x1="300.5" y1="546.26" x2="301.6" y2="546.26" stroke="#555" stroke-width="0.5"/>
<line x1="300.5" y1="543.07" x2="301.6" y2="543.07" stroke="#555" stroke-width="0.5"/>
<line x1="300.5" y1="536.68" x2="301.6" y2="536.68" stroke="#555" stroke-width="0.5"/>
<line x1="300.5" y1="533.49" x2="301.6" y2="533.49" stroke="#555" stroke-width="0.5"/>
<line x1="300.5" y1="530.29" x2="301.6" y2="530.29" stroke="#555" stroke-width="0.5"/>
<text x="303.2" y="584.2" font-size="4.7" text-anchor="middle" fill="#444" stroke="#444" stroke-width="0.15" dominant-baseline="central">10</text>
<text x="306.2" y="582.6" font-size="3.2" text-anchor="middle" fill="#444" dominant-baseline="central">0</text>
<line x1="303.8" y1="578.4" x2="303.8" y2="579.7" stroke="#444" stroke-width="0.5"/>
<text x="317.2" y="584.2" font-size="4.7" text-anchor="middle" fill="#444" stroke="#444" stroke-width="0.15" dominant-baseline="central">10</text>
<text x="320.2" y="582.6" font-size="3.2" text-anchor="middle" fill="#444" dominant-baseline="central">2</text>
<line x1="317.8" y1="578.4" x2="317.8" y2="579.7" stroke="#444" stroke-width="0.5"/>
<text x="331.6" y="584.2" font-size="4.7" text-anchor="middle" fill="#444" stroke="#444" stroke-width="0.15" dominant-baseline="central">10</text>
<text x="334.6" y="582.6" font-size="3.2" text-anchor="middle" fill="#444" dominant-baseline="central">4</text>
<line x1="332.2" y1="578.4" x2="332.2" y2="579.7" stroke="#444" stroke-width="0.5"/>
<text x="346.4" y="584.2" font-size="4.7" text-anchor="middle" fill="#444" stroke="#444" stroke-width="0.15" dominant-baseline="central">10</text>
<text x="349.4" y="582.6" font-size="3.2" text-anchor="middle" fill="#444" dominant-baseline="central">6</text>
<line x1="347" y1="578.4" x2="347" y2="579.7" stroke="#444" stroke-width="0.5"/>
<line x1="310.8" y1="578.4" x2="310.8" y2="579.2" stroke="#666" stroke-width="0.4"/>
<line x1="325" y1="578.4" x2="325" y2="579.2" stroke="#666" stroke-width="0.4"/>
<line x1="339.6" y1="578.4" x2="339.6" y2="579.2" stroke="#666" stroke-width="0.4"/>
<line x1="353.6" y1="578.4" x2="353.6" y2="579.2" stroke="#666" stroke-width="0.4"/>
<text x="328.25" y="592.9" font-size="7" text-anchor="middle" fill="#333" textLength="19.7" lengthAdjust="spacingAndGlyphs" dominant-baseline="central">CD38-PE</text>
<text x="114.4" y="48.6" font-size="7" text-anchor="middle" fill="#3a3a3a" font-family='"Liberation Serif", serif' stroke="#3a3a3a" stroke-width="0.05" textLength="59.5" lengthAdjust="spacingAndGlyphs" dominant-baseline="central" transform="rotate(-90 114.4 48.6)">T-ALL cells x 10e6 in blood</text>
<line x1="135.4" y1="21.2" x2="135.4" y2="75.6" stroke="#1e1e1e" stroke-width="1.25"/>
<line x1="134.8" y1="75" x2="185" y2="75" stroke="#1e1e1e" stroke-width="1.25"/>
<line x1="132.4" y1="24.2" x2="135.4" y2="24.2" stroke="#222" stroke-width="0.9"/>
<text x="131.8" y="24.2" font-size="4.5" text-anchor="end" fill="#333" stroke="#333" stroke-width="0.12" dominant-baseline="central">40000</text>
<line x1="132.4" y1="37.1" x2="135.4" y2="37.1" stroke="#222" stroke-width="0.9"/>
<text x="131.8" y="37.1" font-size="4.5" text-anchor="end" fill="#333" stroke="#333" stroke-width="0.12" dominant-baseline="central">30000</text>
<line x1="132.4" y1="49.6" x2="135.4" y2="49.6" stroke="#222" stroke-width="0.9"/>
<text x="131.8" y="49.6" font-size="4.5" text-anchor="end" fill="#333" stroke="#333" stroke-width="0.12" dominant-baseline="central">20000</text>
<line x1="132.4" y1="62.4" x2="135.4" y2="62.4" stroke="#222" stroke-width="0.9"/>
<text x="131.8" y="62.4" font-size="4.5" text-anchor="end" fill="#333" stroke="#333" stroke-width="0.12" dominant-baseline="central">10000</text>
<line x1="132.4" y1="75" x2="135.4" y2="75" stroke="#222" stroke-width="0.9"/>
<text x="131.8" y="75" font-size="4.5" text-anchor="end" fill="#333" stroke="#333" stroke-width="0.12" dominant-baseline="central">0</text>
<line x1="141.8" y1="75" x2="141.8" y2="77" stroke="#222" stroke-width="0.8"/>
<text x="141.8" y="81.2" font-size="4.3" text-anchor="middle" fill="#444" stroke="#444" stroke-width="0.12" dominant-baseline="central">0</text>
<line x1="154.3" y1="75" x2="154.3" y2="77" stroke="#222" stroke-width="0.8"/>
<text x="154.3" y="81.2" font-size="4.3" text-anchor="middle" fill="#444" stroke="#444" stroke-width="0.12" dominant-baseline="central">1</text>
<line x1="166.8" y1="75" x2="166.8" y2="77" stroke="#222" stroke-width="0.8"/>
<text x="166.8" y="81.2" font-size="4.3" text-anchor="middle" fill="#444" stroke="#444" stroke-width="0.12" dominant-baseline="central">2</text>
<line x1="179.3" y1="75" x2="179.3" y2="77" stroke="#222" stroke-width="0.8"/>
<text x="179.3" y="81.2" font-size="4.3" text-anchor="middle" fill="#444" stroke="#444" stroke-width="0.12" dominant-baseline="central">3</text>
<text x="138.7" y="23.8" font-size="4.4" text-anchor="start" fill="#222" font-style="italic" stroke="#222" stroke-width="0.15" dominant-baseline="central">p=0.088</text>
<line x1="166.8" y1="60.4" x2="166.8" y2="66.1" stroke="#4f6290" stroke-width="0.8"/>
<line x1="165.3" y1="60.4" x2="168.3" y2="60.4" stroke="#4f6290" stroke-width="0.8"/>
<line x1="165.3" y1="66.1" x2="168.3" y2="66.1" stroke="#4f6290" stroke-width="0.8"/>
<line x1="179.3" y1="31.8" x2="179.3" y2="39.4" stroke="#4f6290" stroke-width="0.8"/>
<line x1="177.8" y1="31.8" x2="180.8" y2="31.8" stroke="#4f6290" stroke-width="0.8"/>
<line x1="177.8" y1="39.4" x2="180.8" y2="39.4" stroke="#4f6290" stroke-width="0.8"/>
<path d="M141.8 75 L154.3 74.4 L166.8 71.4 L179.3 37.9" fill="none" stroke="#b21c48" stroke-width="1.15" stroke-linejoin="round"/>
<circle cx="141.8" cy="75" r="1.1" fill="#b21c48"/>
<circle cx="154.3" cy="74.4" r="1.1" fill="#b21c48"/>
<circle cx="166.8" cy="71.4" r="1.1" fill="#b21c48"/>
<circle cx="179.3" cy="37.9" r="1.1" fill="#b21c48"/>
<path d="M141.8 75 L154.3 69.4 L166.8 63.2 L179.3 35.8" fill="none" stroke="#283e6e" stroke-width="1.15" stroke-linejoin="round"/>
<circle cx="141.8" cy="75" r="1.1" fill="#283e6e"/>
<circle cx="154.3" cy="69.4" r="1.1" fill="#283e6e"/>
<circle cx="166.8" cy="63.2" r="1.1" fill="#283e6e"/>
<circle cx="179.3" cy="35.8" r="1.1" fill="#283e6e"/>
<text x="114.4" y="118.83" font-size="7" text-anchor="middle" fill="#3a3a3a" font-family='"Liberation Serif", serif' stroke="#3a3a3a" stroke-width="0.05" textLength="59.5" lengthAdjust="spacingAndGlyphs" dominant-baseline="central" transform="rotate(-90 114.4 118.83)">T-ALL cells x 10e6 in blood</text>
<line x1="135.5" y1="91.9" x2="135.5" y2="145.35" stroke="#1e1e1e" stroke-width="1.25"/>
<line x1="134.9" y1="144.75" x2="186" y2="144.75" stroke="#1e1e1e" stroke-width="1.25"/>
<line x1="132.5" y1="94" x2="135.5" y2="94" stroke="#222" stroke-width="0.9"/>
<text x="131.9" y="94" font-size="4.5" text-anchor="end" fill="#333" stroke="#333" stroke-width="0.12" dominant-baseline="central">200000</text>
<line x1="132.5" y1="106.9" x2="135.5" y2="106.9" stroke="#222" stroke-width="0.9"/>
<text x="131.9" y="106.9" font-size="4.5" text-anchor="end" fill="#333" stroke="#333" stroke-width="0.12" dominant-baseline="central">150000</text>
<line x1="132.5" y1="119.75" x2="135.5" y2="119.75" stroke="#222" stroke-width="0.9"/>
<text x="131.9" y="119.75" font-size="4.5" text-anchor="end" fill="#333" stroke="#333" stroke-width="0.12" dominant-baseline="central">100000</text>
<line x1="132.5" y1="132.25" x2="135.5" y2="132.25" stroke="#222" stroke-width="0.9"/>
<text x="131.9" y="132.25" font-size="4.5" text-anchor="end" fill="#333" stroke="#333" stroke-width="0.12" dominant-baseline="central">50000</text>
<line x1="132.5" y1="144.75" x2="135.5" y2="144.75" stroke="#222" stroke-width="0.9"/>
<text x="131.9" y="144.75" font-size="4.5" text-anchor="end" fill="#333" stroke="#333" stroke-width="0.12" dominant-baseline="central">0</text>
<line x1="143.75" y1="144.75" x2="143.75" y2="146.75" stroke="#222" stroke-width="0.8"/>
<text x="143.75" y="150.95" font-size="4.3" text-anchor="middle" fill="#444" stroke="#444" stroke-width="0.12" dominant-baseline="central">0</text>
<line x1="160.62" y1="144.75" x2="160.62" y2="146.75" stroke="#222" stroke-width="0.8"/>
<text x="160.62" y="150.95" font-size="4.3" text-anchor="middle" fill="#444" stroke="#444" stroke-width="0.12" dominant-baseline="central">1</text>
<line x1="177.5" y1="144.75" x2="177.5" y2="146.75" stroke="#222" stroke-width="0.8"/>
<text x="177.5" y="150.95" font-size="4.3" text-anchor="middle" fill="#444" stroke="#444" stroke-width="0.12" dominant-baseline="central">2</text>
<text x="138.8" y="93.5" font-size="4.4" text-anchor="start" fill="#222" font-style="italic" stroke="#222" stroke-width="0.15" dominant-baseline="central">p=0.34</text>
<line x1="160.62" y1="127.5" x2="160.62" y2="143.75" stroke="#b33c62" stroke-width="0.8"/>
<line x1="159.12" y1="127.5" x2="162.12" y2="127.5" stroke="#b33c62" stroke-width="0.8"/>
<line x1="159.12" y1="143.75" x2="162.12" y2="143.75" stroke="#b33c62" stroke-width="0.8"/>
<line x1="177.5" y1="118.5" x2="177.5" y2="140" stroke="#b33c62" stroke-width="0.8"/>
<line x1="176" y1="118.5" x2="179" y2="118.5" stroke="#b33c62" stroke-width="0.8"/>
<line x1="176" y1="140" x2="179" y2="140" stroke="#b33c62" stroke-width="0.8"/>
<line x1="160.62" y1="135" x2="160.62" y2="142.5" stroke="#4f6290" stroke-width="0.8"/>
<line x1="159.12" y1="135" x2="162.12" y2="135" stroke="#4f6290" stroke-width="0.8"/>
<line x1="159.12" y1="142.5" x2="162.12" y2="142.5" stroke="#4f6290" stroke-width="0.8"/>
<line x1="177.5" y1="105" x2="177.5" y2="140" stroke="#4f6290" stroke-width="0.8"/>
<line x1="176" y1="105" x2="179" y2="105" stroke="#4f6290" stroke-width="0.8"/>
<line x1="176" y1="140" x2="179" y2="140" stroke="#4f6290" stroke-width="0.8"/>
<path d="M143.75 144.75 L160.62 135.6 L177.5 129" fill="none" stroke="#b21c48" stroke-width="1.15" stroke-linejoin="round"/>
<circle cx="143.75" cy="144.75" r="1.1" fill="#b21c48"/>
<circle cx="160.62" cy="135.6" r="1.1" fill="#b21c48"/>
<circle cx="177.5" cy="129" r="1.1" fill="#b21c48"/>
<path d="M143.75 144.75 L160.62 138.1 L177.5 121.25" fill="none" stroke="#283e6e" stroke-width="1.15" stroke-linejoin="round"/>
<circle cx="143.75" cy="144.75" r="1.1" fill="#283e6e"/>
<circle cx="160.62" cy="138.1" r="1.1" fill="#283e6e"/>
<circle cx="177.5" cy="121.25" r="1.1" fill="#283e6e"/>
<text x="114.4" y="261.5" font-size="7" text-anchor="middle" fill="#3a3a3a" font-family='"Liberation Serif", serif' stroke="#3a3a3a" stroke-width="0.05" textLength="59.5" lengthAdjust="spacingAndGlyphs" dominant-baseline="central" transform="rotate(-90 114.4 261.5)">ETP ALL cells x10e6 blood</text>
<line x1="135.2" y1="234.75" x2="135.2" y2="287.85" stroke="#1e1e1e" stroke-width="1.25"/>
<line x1="134.6" y1="287.25" x2="185.6" y2="287.25" stroke="#1e1e1e" stroke-width="1.25"/>
<line x1="132.2" y1="236.6" x2="135.2" y2="236.6" stroke="#222" stroke-width="0.9"/>
<text x="131.6" y="236.6" font-size="4.5" text-anchor="end" fill="#333" stroke="#333" stroke-width="0.12" dominant-baseline="central">30000</text>
<line x1="132.2" y1="253.5" x2="135.2" y2="253.5" stroke="#222" stroke-width="0.9"/>
<text x="131.6" y="253.5" font-size="4.5" text-anchor="end" fill="#333" stroke="#333" stroke-width="0.12" dominant-baseline="central">20000</text>
<line x1="132.2" y1="270.4" x2="135.2" y2="270.4" stroke="#222" stroke-width="0.9"/>
<text x="131.6" y="270.4" font-size="4.5" text-anchor="end" fill="#333" stroke="#333" stroke-width="0.12" dominant-baseline="central">10000</text>
<line x1="132.2" y1="287.25" x2="135.2" y2="287.25" stroke="#222" stroke-width="0.9"/>
<text x="131.6" y="287.25" font-size="4.5" text-anchor="end" fill="#333" stroke="#333" stroke-width="0.12" dominant-baseline="central">0</text>
<line x1="141.25" y1="287.25" x2="141.25" y2="289.25" stroke="#222" stroke-width="0.8"/>
<text x="141.25" y="293.45" font-size="4.3" text-anchor="middle" fill="#444" stroke="#444" stroke-width="0.12" dominant-baseline="central">0</text>
<line x1="154.03" y1="287.25" x2="154.03" y2="289.25" stroke="#222" stroke-width="0.8"/>
<text x="154.03" y="293.45" font-size="4.3" text-anchor="middle" fill="#444" stroke="#444" stroke-width="0.12" dominant-baseline="central">1</text>
<line x1="166.82" y1="287.25" x2="166.82" y2="289.25" stroke="#222" stroke-width="0.8"/>
<text x="166.82" y="293.45" font-size="4.3" text-anchor="middle" fill="#444" stroke="#444" stroke-width="0.12" dominant-baseline="central">2</text>
<line x1="179.6" y1="287.25" x2="179.6" y2="289.25" stroke="#222" stroke-width="0.8"/>
<text x="179.6" y="293.45" font-size="4.3" text-anchor="middle" fill="#444" stroke="#444" stroke-width="0.12" dominant-baseline="central">3</text>
<text x="138.5" y="235.75" font-size="4.4" text-anchor="start" fill="#222" font-style="italic" stroke="#222" stroke-width="0.15" dominant-baseline="central">p=0.0004</text>
<line x1="154.03" y1="281" x2="154.03" y2="284.5" stroke="#4f6290" stroke-width="0.8"/>
<line x1="152.53" y1="281" x2="155.53" y2="281" stroke="#4f6290" stroke-width="0.8"/>
<line x1="152.53" y1="284.5" x2="155.53" y2="284.5" stroke="#4f6290" stroke-width="0.8"/>
<line x1="166.82" y1="268.5" x2="166.82" y2="277.25" stroke="#4f6290" stroke-width="0.8"/>
<line x1="165.32" y1="268.5" x2="168.32" y2="268.5" stroke="#4f6290" stroke-width="0.8"/>
<line x1="165.32" y1="277.25" x2="168.32" y2="277.25" stroke="#4f6290" stroke-width="0.8"/>
<line x1="179.6" y1="239.5" x2="179.6" y2="265.4" stroke="#4f6290" stroke-width="0.8"/>
<line x1="178.1" y1="239.5" x2="181.1" y2="239.5" stroke="#4f6290" stroke-width="0.8"/>
<line x1="178.1" y1="265.4" x2="181.1" y2="265.4" stroke="#4f6290" stroke-width="0.8"/>
<path d="M141.25 287 L154.03 286.5 L166.82 286.25 L179.6 284.75" fill="none" stroke="#b21c48" stroke-width="1.15" stroke-linejoin="round"/>
<circle cx="141.25" cy="287" r="1.1" fill="#b21c48"/>
<circle cx="154.03" cy="286.5" r="1.1" fill="#b21c48"/>
<circle cx="166.82" cy="286.25" r="1.1" fill="#b21c48"/>
<circle cx="179.6" cy="284.75" r="1.1" fill="#b21c48"/>
<path d="M141.25 287.25 L154.03 282.9 L166.82 272.9 L179.6 252.5" fill="none" stroke="#283e6e" stroke-width="1.15" stroke-linejoin="round"/>
<circle cx="141.25" cy="287.25" r="1.1" fill="#283e6e"/>
<circle cx="154.03" cy="282.9" r="1.1" fill="#283e6e"/>
<circle cx="166.82" cy="272.9" r="1.1" fill="#283e6e"/>
<circle cx="179.6" cy="252.5" r="1.1" fill="#283e6e"/>
<text x="114.4" y="334.38" font-size="7" text-anchor="middle" fill="#3a3a3a" font-family='"Liberation Serif", serif' stroke="#3a3a3a" stroke-width="0.05" textLength="62.5" lengthAdjust="spacingAndGlyphs" dominant-baseline="central" transform="rotate(-90 114.4 334.38)">ETP ALL cells x 10e6 in blood</text>
<line x1="135.2" y1="307.5" x2="135.2" y2="360.85" stroke="#1e1e1e" stroke-width="1.25"/>
<line x1="134.6" y1="360.25" x2="185.6" y2="360.25" stroke="#1e1e1e" stroke-width="1.25"/>
<line x1="132.2" y1="309.6" x2="135.2" y2="309.6" stroke="#222" stroke-width="0.9"/>
<text x="131.6" y="309.6" font-size="4.5" text-anchor="end" fill="#333" stroke="#333" stroke-width="0.12" dominant-baseline="central">6000</text>
<line x1="132.2" y1="326.5" x2="135.2" y2="326.5" stroke="#222" stroke-width="0.9"/>
<text x="131.6" y="326.5" font-size="4.5" text-anchor="end" fill="#333" stroke="#333" stroke-width="0.12" dominant-baseline="central">4000</text>
<line x1="132.2" y1="343.4" x2="135.2" y2="343.4" stroke="#222" stroke-width="0.9"/>
<text x="131.6" y="343.4" font-size="4.5" text-anchor="end" fill="#333" stroke="#333" stroke-width="0.12" dominant-baseline="central">2000</text>
<line x1="132.2" y1="360.25" x2="135.2" y2="360.25" stroke="#222" stroke-width="0.9"/>
<text x="131.6" y="360.25" font-size="4.5" text-anchor="end" fill="#333" stroke="#333" stroke-width="0.12" dominant-baseline="central">0</text>
<line x1="143.5" y1="360.25" x2="143.5" y2="362.25" stroke="#222" stroke-width="0.8"/>
<text x="143.5" y="366.45" font-size="4.3" text-anchor="middle" fill="#444" stroke="#444" stroke-width="0.12" dominant-baseline="central">0</text>
<line x1="160.5" y1="360.25" x2="160.5" y2="362.25" stroke="#222" stroke-width="0.8"/>
<text x="160.5" y="366.45" font-size="4.3" text-anchor="middle" fill="#444" stroke="#444" stroke-width="0.12" dominant-baseline="central">1</text>
<line x1="177.5" y1="360.25" x2="177.5" y2="362.25" stroke="#222" stroke-width="0.8"/>
<text x="177.5" y="366.45" font-size="4.3" text-anchor="middle" fill="#444" stroke="#444" stroke-width="0.12" dominant-baseline="central">2</text>
<text x="138.5" y="309" font-size="4.4" text-anchor="start" fill="#222" font-style="italic" stroke="#222" stroke-width="0.15" dominant-baseline="central">p=0.0006</text>
<line x1="143.5" y1="355.5" x2="143.5" y2="358.5" stroke="#4f6290" stroke-width="0.8"/>
<line x1="142" y1="355.5" x2="145" y2="355.5" stroke="#4f6290" stroke-width="0.8"/>
<line x1="142" y1="358.5" x2="145" y2="358.5" stroke="#4f6290" stroke-width="0.8"/>
<line x1="160.5" y1="349.6" x2="160.5" y2="354" stroke="#4f6290" stroke-width="0.8"/>
<line x1="159" y1="349.6" x2="162" y2="349.6" stroke="#4f6290" stroke-width="0.8"/>
<line x1="159" y1="354" x2="162" y2="354" stroke="#4f6290" stroke-width="0.8"/>
<line x1="177.5" y1="314.25" x2="177.5" y2="332.5" stroke="#4f6290" stroke-width="0.8"/>
<line x1="176" y1="314.25" x2="179" y2="314.25" stroke="#4f6290" stroke-width="0.8"/>
<line x1="176" y1="332.5" x2="179" y2="332.5" stroke="#4f6290" stroke-width="0.8"/>
<path d="M143.5 357.75 L160.5 358.4 L177.5 357.1" fill="none" stroke="#b21c48" stroke-width="1.15" stroke-linejoin="round"/>
<circle cx="143.5" cy="357.75" r="1.1" fill="#b21c48"/>
<circle cx="160.5" cy="358.4" r="1.1" fill="#b21c48"/>
<circle cx="177.5" cy="357.1" r="1.1" fill="#b21c48"/>
<path d="M143.5 357.1 L160.5 352.1 L177.5 323.4" fill="none" stroke="#283e6e" stroke-width="1.15" stroke-linejoin="round"/>
<circle cx="143.5" cy="357.1" r="1.1" fill="#283e6e"/>
<circle cx="160.5" cy="352.1" r="1.1" fill="#283e6e"/>
<circle cx="177.5" cy="323.4" r="1.1" fill="#283e6e"/>
<text x="114.4" y="406.6" font-size="7" text-anchor="middle" fill="#3a3a3a" font-family='"Liberation Serif", serif' stroke="#3a3a3a" stroke-width="0.05" textLength="62.5" lengthAdjust="spacingAndGlyphs" dominant-baseline="central" transform="rotate(-90 114.4 406.6)">ETP ALL cells x 10e6 in blood</text>
<line x1="135.2" y1="379.6" x2="135.2" y2="433.2" stroke="#1e1e1e" stroke-width="1.25"/>
<line x1="134.6" y1="432.6" x2="186.5" y2="432.6" stroke="#1e1e1e" stroke-width="1.25"/>
<line x1="132.2" y1="381" x2="135.2" y2="381" stroke="#222" stroke-width="0.9"/>
<text x="131.6" y="381" font-size="4.5" text-anchor="end" fill="#333" stroke="#333" stroke-width="0.12" dominant-baseline="central">15000</text>
<line x1="132.2" y1="398.25" x2="135.2" y2="398.25" stroke="#222" stroke-width="0.9"/>
<text x="131.6" y="398.25" font-size="4.5" text-anchor="end" fill="#333" stroke="#333" stroke-width="0.12" dominant-baseline="central">10000</text>
<line x1="132.2" y1="415.5" x2="135.2" y2="415.5" stroke="#222" stroke-width="0.9"/>
<text x="131.6" y="415.5" font-size="4.5" text-anchor="end" fill="#333" stroke="#333" stroke-width="0.12" dominant-baseline="central">5000</text>
<line x1="132.2" y1="432.6" x2="135.2" y2="432.6" stroke="#222" stroke-width="0.9"/>
<text x="131.6" y="432.6" font-size="4.5" text-anchor="end" fill="#333" stroke="#333" stroke-width="0.12" dominant-baseline="central">0</text>
<line x1="140.25" y1="432.6" x2="140.25" y2="434.6" stroke="#222" stroke-width="0.8"/>
<text x="140.25" y="438.8" font-size="4.3" text-anchor="middle" fill="#444" stroke="#444" stroke-width="0.12" dominant-baseline="central">0</text>
<line x1="150.66" y1="432.6" x2="150.66" y2="434.6" stroke="#222" stroke-width="0.8"/>
<text x="150.66" y="438.8" font-size="4.3" text-anchor="middle" fill="#444" stroke="#444" stroke-width="0.12" dominant-baseline="central">1</text>
<line x1="161.07" y1="432.6" x2="161.07" y2="434.6" stroke="#222" stroke-width="0.8"/>
<text x="161.07" y="438.8" font-size="4.3" text-anchor="middle" fill="#444" stroke="#444" stroke-width="0.12" dominant-baseline="central">2</text>
<line x1="171.49" y1="432.6" x2="171.49" y2="434.6" stroke="#222" stroke-width="0.8"/>
<text x="171.49" y="438.8" font-size="4.3" text-anchor="middle" fill="#444" stroke="#444" stroke-width="0.12" dominant-baseline="central">3</text>
<line x1="181.9" y1="432.6" x2="181.9" y2="434.6" stroke="#222" stroke-width="0.8"/>
<text x="181.9" y="438.8" font-size="4.3" text-anchor="middle" fill="#444" stroke="#444" stroke-width="0.12" dominant-baseline="central">4</text>
<text x="138.5" y="381" font-size="4.4" text-anchor="start" fill="#222" font-style="italic" stroke="#222" stroke-width="0.15" dominant-baseline="central">p<0.0001</text>
<line x1="181.9" y1="424.75" x2="181.9" y2="430.75" stroke="#b33c62" stroke-width="0.8"/>
<line x1="180.4" y1="424.75" x2="183.4" y2="424.75" stroke="#b33c62" stroke-width="0.8"/>
<line x1="180.4" y1="430.75" x2="183.4" y2="430.75" stroke="#b33c62" stroke-width="0.8"/>
<line x1="171.49" y1="417.6" x2="171.49" y2="423.25" stroke="#4f6290" stroke-width="0.8"/>
<line x1="169.99" y1="417.6" x2="172.99" y2="417.6" stroke="#4f6290" stroke-width="0.8"/>
<line x1="169.99" y1="423.25" x2="172.99" y2="423.25" stroke="#4f6290" stroke-width="0.8"/>
<line x1="181.9" y1="393.5" x2="181.9" y2="401" stroke="#4f6290" stroke-width="0.8"/>
<line x1="180.4" y1="393.5" x2="183.4" y2="393.5" stroke="#4f6290" stroke-width="0.8"/>
<line x1="180.4" y1="401" x2="183.4" y2="401" stroke="#4f6290" stroke-width="0.8"/>
<path d="M140.25 432.6 L150.66 432.6 L161.07 432.6 L171.49 432 L181.9 428.5" fill="none" stroke="#b21c48" stroke-width="1.15" stroke-linejoin="round"/>
<circle cx="140.25" cy="432.6" r="1.1" fill="#b21c48"/>
<circle cx="150.66" cy="432.6" r="1.1" fill="#b21c48"/>
<circle cx="161.07" cy="432.6" r="1.1" fill="#b21c48"/>
<circle cx="171.49" cy="432" r="1.1" fill="#b21c48"/>
<circle cx="181.9" cy="428.5" r="1.1" fill="#b21c48"/>
<path d="M140.25 432.4 L150.66 431.4 L161.07 428 L171.49 420.1 L181.9 397.6" fill="none" stroke="#283e6e" stroke-width="1.15" stroke-linejoin="round"/>
<circle cx="140.25" cy="432.4" r="1.1" fill="#283e6e"/>
<circle cx="150.66" cy="431.4" r="1.1" fill="#283e6e"/>
<circle cx="161.07" cy="428" r="1.1" fill="#283e6e"/>
<circle cx="171.49" cy="420.1" r="1.1" fill="#283e6e"/>
<circle cx="181.9" cy="397.6" r="1.1" fill="#283e6e"/>
<text x="114.4" y="479.75" font-size="7" text-anchor="middle" fill="#3a3a3a" font-family='"Liberation Serif", serif' stroke="#3a3a3a" stroke-width="0.05" textLength="62.5" lengthAdjust="spacingAndGlyphs" dominant-baseline="central" transform="rotate(-90 114.4 479.75)">ETP ALL cells x 10e6 in blood</text>
<line x1="135.2" y1="452.5" x2="135.2" y2="506.6" stroke="#1e1e1e" stroke-width="1.25"/>
<line x1="134.6" y1="506" x2="185.6" y2="506" stroke="#1e1e1e" stroke-width="1.25"/>
<line x1="132.2" y1="455" x2="135.2" y2="455" stroke="#222" stroke-width="0.9"/>
<text x="131.6" y="455" font-size="4.5" text-anchor="end" fill="#333" stroke="#333" stroke-width="0.12" dominant-baseline="central">150000</text>
<line x1="132.2" y1="471.9" x2="135.2" y2="471.9" stroke="#222" stroke-width="0.9"/>
<text x="131.6" y="471.9" font-size="4.5" text-anchor="end" fill="#333" stroke="#333" stroke-width="0.12" dominant-baseline="central">100000</text>
<line x1="132.2" y1="489" x2="135.2" y2="489" stroke="#222" stroke-width="0.9"/>
<text x="131.6" y="489" font-size="4.5" text-anchor="end" fill="#333" stroke="#333" stroke-width="0.12" dominant-baseline="central">50000</text>
<line x1="132.2" y1="506" x2="135.2" y2="506" stroke="#222" stroke-width="0.9"/>
<text x="131.6" y="506" font-size="4.5" text-anchor="end" fill="#333" stroke="#333" stroke-width="0.12" dominant-baseline="central">0</text>
<line x1="141.25" y1="506" x2="141.25" y2="508" stroke="#222" stroke-width="0.8"/>
<text x="141.25" y="512.2" font-size="4.3" text-anchor="middle" fill="#444" stroke="#444" stroke-width="0.12" dominant-baseline="central">0</text>
<line x1="154.03" y1="506" x2="154.03" y2="508" stroke="#222" stroke-width="0.8"/>
<text x="154.03" y="512.2" font-size="4.3" text-anchor="middle" fill="#444" stroke="#444" stroke-width="0.12" dominant-baseline="central">1</text>
<line x1="166.82" y1="506" x2="166.82" y2="508" stroke="#222" stroke-width="0.8"/>
<text x="166.82" y="512.2" font-size="4.3" text-anchor="middle" fill="#444" stroke="#444" stroke-width="0.12" dominant-baseline="central">2</text>
<line x1="179.6" y1="506" x2="179.6" y2="508" stroke="#222" stroke-width="0.8"/>
<text x="179.6" y="512.2" font-size="4.3" text-anchor="middle" fill="#444" stroke="#444" stroke-width="0.12" dominant-baseline="central">3</text>
<text x="138.5" y="454.4" font-size="4.4" text-anchor="start" fill="#222" font-style="italic" stroke="#222" stroke-width="0.15" dominant-baseline="central">p=0.001</text>
<line x1="166.82" y1="500" x2="166.82" y2="503.5" stroke="#b33c62" stroke-width="0.8"/>
<line x1="165.32" y1="500" x2="168.32" y2="500" stroke="#b33c62" stroke-width="0.8"/>
<line x1="165.32" y1="503.5" x2="168.32" y2="503.5" stroke="#b33c62" stroke-width="0.8"/>
<line x1="179.6" y1="477.25" x2="179.6" y2="488.1" stroke="#b33c62" stroke-width="0.8"/>
<line x1="178.1" y1="477.25" x2="181.1" y2="477.25" stroke="#b33c62" stroke-width="0.8"/>
<line x1="178.1" y1="488.1" x2="181.1" y2="488.1" stroke="#b33c62" stroke-width="0.8"/>
<line x1="166.82" y1="492.5" x2="166.82" y2="497.25" stroke="#4f6290" stroke-width="0.8"/>
<line x1="165.32" y1="492.5" x2="168.32" y2="492.5" stroke="#4f6290" stroke-width="0.8"/>
<line x1="165.32" y1="497.25" x2="168.32" y2="497.25" stroke="#4f6290" stroke-width="0.8"/>
<line x1="179.6" y1="457.5" x2="179.6" y2="471.9" stroke="#4f6290" stroke-width="0.8"/>
<line x1="178.1" y1="457.5" x2="181.1" y2="457.5" stroke="#4f6290" stroke-width="0.8"/>
<line x1="178.1" y1="471.9" x2="181.1" y2="471.9" stroke="#4f6290" stroke-width="0.8"/>
<path d="M141.25 506 L154.03 505.6 L166.82 501.9 L179.6 482.5" fill="none" stroke="#b21c48" stroke-width="1.15" stroke-linejoin="round"/>
<circle cx="141.25" cy="506" r="1.1" fill="#b21c48"/>
<circle cx="154.03" cy="505.6" r="1.1" fill="#b21c48"/>
<circle cx="166.82" cy="501.9" r="1.1" fill="#b21c48"/>
<circle cx="179.6" cy="482.5" r="1.1" fill="#b21c48"/>
<path d="M141.25 506 L154.03 504.75 L166.82 495.6 L179.6 465" fill="none" stroke="#283e6e" stroke-width="1.15" stroke-linejoin="round"/>
<circle cx="141.25" cy="506" r="1.1" fill="#283e6e"/>
<circle cx="154.03" cy="504.75" r="1.1" fill="#283e6e"/>
<circle cx="166.82" cy="495.6" r="1.1" fill="#283e6e"/>
<circle cx="179.6" cy="465" r="1.1" fill="#283e6e"/>
<text x="114.4" y="552.38" font-size="7" text-anchor="middle" fill="#3a3a3a" font-family='"Liberation Serif", serif' stroke="#3a3a3a" stroke-width="0.05" textLength="62.5" lengthAdjust="spacingAndGlyphs" dominant-baseline="central" transform="rotate(-90 114.4 552.38)">ETP ALL cells x 10e6 in blood</text>
<line x1="135.2" y1="525.5" x2="135.2" y2="578.85" stroke="#1e1e1e" stroke-width="1.25"/>
<line x1="134.6" y1="578.25" x2="185.6" y2="578.25" stroke="#1e1e1e" stroke-width="1.25"/>
<line x1="132.2" y1="527.6" x2="135.2" y2="527.6" stroke="#222" stroke-width="0.9"/>
<text x="131.6" y="527.6" font-size="4.5" text-anchor="end" fill="#333" stroke="#333" stroke-width="0.12" dominant-baseline="central">5000</text>
<line x1="132.2" y1="537.6" x2="135.2" y2="537.6" stroke="#222" stroke-width="0.9"/>
<text x="131.6" y="537.6" font-size="4.5" text-anchor="end" fill="#333" stroke="#333" stroke-width="0.12" dominant-baseline="central">4000</text>
<line x1="132.2" y1="547.6" x2="135.2" y2="547.6" stroke="#222" stroke-width="0.9"/>
<text x="131.6" y="547.6" font-size="4.5" text-anchor="end" fill="#333" stroke="#333" stroke-width="0.12" dominant-baseline="central">3000</text>
<line x1="132.2" y1="558" x2="135.2" y2="558" stroke="#222" stroke-width="0.9"/>
<text x="131.6" y="558" font-size="4.5" text-anchor="end" fill="#333" stroke="#333" stroke-width="0.12" dominant-baseline="central">2000</text>
<line x1="132.2" y1="568" x2="135.2" y2="568" stroke="#222" stroke-width="0.9"/>
<text x="131.6" y="568" font-size="4.5" text-anchor="end" fill="#333" stroke="#333" stroke-width="0.12" dominant-baseline="central">1000</text>
<line x1="132.2" y1="578.25" x2="135.2" y2="578.25" stroke="#222" stroke-width="0.9"/>
<text x="131.6" y="578.25" font-size="4.5" text-anchor="end" fill="#333" stroke="#333" stroke-width="0.12" dominant-baseline="central">0</text>
<line x1="140.25" y1="578.25" x2="140.25" y2="580.25" stroke="#222" stroke-width="0.8"/>
<text x="140.25" y="584.45" font-size="4.3" text-anchor="middle" fill="#444" stroke="#444" stroke-width="0.12" dominant-baseline="central">0</text>
<line x1="150.5" y1="578.25" x2="150.5" y2="580.25" stroke="#222" stroke-width="0.8"/>
<text x="150.5" y="584.45" font-size="4.3" text-anchor="middle" fill="#444" stroke="#444" stroke-width="0.12" dominant-baseline="central">1</text>
<line x1="160.75" y1="578.25" x2="160.75" y2="580.25" stroke="#222" stroke-width="0.8"/>
<text x="160.75" y="584.45" font-size="4.3" text-anchor="middle" fill="#444" stroke="#444" stroke-width="0.12" dominant-baseline="central">2</text>
<line x1="171" y1="578.25" x2="171" y2="580.25" stroke="#222" stroke-width="0.8"/>
<text x="171" y="584.45" font-size="4.3" text-anchor="middle" fill="#444" stroke="#444" stroke-width="0.12" dominant-baseline="central">3</text>
<line x1="181.25" y1="578.25" x2="181.25" y2="580.25" stroke="#222" stroke-width="0.8"/>
<text x="181.25" y="584.45" font-size="4.3" text-anchor="middle" fill="#444" stroke="#444" stroke-width="0.12" dominant-baseline="central">4</text>
<text x="138.5" y="527" font-size="4.4" text-anchor="start" fill="#222" font-style="italic" stroke="#222" stroke-width="0.15" dominant-baseline="central">p=0.0013</text>
<line x1="171" y1="568" x2="171" y2="574.75" stroke="#4f6290" stroke-width="0.8"/>
<line x1="169.5" y1="568" x2="172.5" y2="568" stroke="#4f6290" stroke-width="0.8"/>
<line x1="169.5" y1="574.75" x2="172.5" y2="574.75" stroke="#4f6290" stroke-width="0.8"/>
<line x1="181.25" y1="536.4" x2="181.25" y2="573.5" stroke="#4f6290" stroke-width="0.8"/>
<line x1="179.75" y1="536.4" x2="182.75" y2="536.4" stroke="#4f6290" stroke-width="0.8"/>
<line x1="179.75" y1="573.5" x2="182.75" y2="573.5" stroke="#4f6290" stroke-width="0.8"/>
<path d="M140.25 578 L150.5 578 L160.75 578 L171 578 L181.25 578" fill="none" stroke="#b21c48" stroke-width="1.15" stroke-linejoin="round"/>
<circle cx="140.25" cy="578" r="1.1" fill="#b21c48"/>
<circle cx="150.5" cy="578" r="1.1" fill="#b21c48"/>
<circle cx="160.75" cy="578" r="1.1" fill="#b21c48"/>
<circle cx="171" cy="578" r="1.1" fill="#b21c48"/>
<circle cx="181.25" cy="578" r="1.1" fill="#b21c48"/>
<path d="M140.25 578 L150.5 576.75 L160.75 575.5 L171 571 L181.25 554.5" fill="none" stroke="#283e6e" stroke-width="1.15" stroke-linejoin="round"/>
<circle cx="140.25" cy="578" r="1.1" fill="#283e6e"/>
<circle cx="150.5" cy="576.75" r="1.1" fill="#283e6e"/>
<circle cx="160.75" cy="575.5" r="1.1" fill="#283e6e"/>
<circle cx="171" cy="571" r="1.1" fill="#283e6e"/>
<circle cx="181.25" cy="554.5" r="1.1" fill="#283e6e"/>
<text x="114.4" y="624.88" font-size="7" text-anchor="middle" fill="#3a3a3a" font-family='"Liberation Serif", serif' stroke="#3a3a3a" stroke-width="0.05" textLength="62.5" lengthAdjust="spacingAndGlyphs" dominant-baseline="central" transform="rotate(-90 114.4 624.88)">ETP ALL cells x 10e6 in blood</text>
<line x1="135.2" y1="597.5" x2="135.2" y2="651.85" stroke="#1e1e1e" stroke-width="1.25"/>
<line x1="134.6" y1="651.25" x2="185.6" y2="651.25" stroke="#1e1e1e" stroke-width="1.25"/>
<line x1="132.2" y1="600.25" x2="135.2" y2="600.25" stroke="#222" stroke-width="0.9"/>
<text x="131.6" y="600.25" font-size="4.5" text-anchor="end" fill="#333" stroke="#333" stroke-width="0.12" dominant-baseline="central">6000</text>
<line x1="132.2" y1="617.25" x2="135.2" y2="617.25" stroke="#222" stroke-width="0.9"/>
<text x="131.6" y="617.25" font-size="4.5" text-anchor="end" fill="#333" stroke="#333" stroke-width="0.12" dominant-baseline="central">4000</text>
<line x1="132.2" y1="634.4" x2="135.2" y2="634.4" stroke="#222" stroke-width="0.9"/>
<text x="131.6" y="634.4" font-size="4.5" text-anchor="end" fill="#333" stroke="#333" stroke-width="0.12" dominant-baseline="central">2000</text>
<line x1="132.2" y1="651.25" x2="135.2" y2="651.25" stroke="#222" stroke-width="0.9"/>
<text x="131.6" y="651.25" font-size="4.5" text-anchor="end" fill="#333" stroke="#333" stroke-width="0.12" dominant-baseline="central">0</text>
<line x1="140.25" y1="651.25" x2="140.25" y2="653.25" stroke="#222" stroke-width="0.8"/>
<text x="140.25" y="657.45" font-size="4.3" text-anchor="middle" fill="#444" stroke="#444" stroke-width="0.12" dominant-baseline="central">0</text>
<line x1="150.5" y1="651.25" x2="150.5" y2="653.25" stroke="#222" stroke-width="0.8"/>
<text x="150.5" y="657.45" font-size="4.3" text-anchor="middle" fill="#444" stroke="#444" stroke-width="0.12" dominant-baseline="central">1</text>
<line x1="160.75" y1="651.25" x2="160.75" y2="653.25" stroke="#222" stroke-width="0.8"/>
<text x="160.75" y="657.45" font-size="4.3" text-anchor="middle" fill="#444" stroke="#444" stroke-width="0.12" dominant-baseline="central">2</text>
<line x1="171" y1="651.25" x2="171" y2="653.25" stroke="#222" stroke-width="0.8"/>
<text x="171" y="657.45" font-size="4.3" text-anchor="middle" fill="#444" stroke="#444" stroke-width="0.12" dominant-baseline="central">3</text>
<line x1="181.25" y1="651.25" x2="181.25" y2="653.25" stroke="#222" stroke-width="0.8"/>
<text x="181.25" y="657.45" font-size="4.3" text-anchor="middle" fill="#444" stroke="#444" stroke-width="0.12" dominant-baseline="central">4</text>
<text x="138.5" y="599.4" font-size="4.4" text-anchor="start" fill="#222" font-style="italic" stroke="#222" stroke-width="0.15" dominant-baseline="central">p=0.0022</text>
<line x1="150.5" y1="643.1" x2="150.5" y2="647.25" stroke="#4f6290" stroke-width="0.8"/>
<line x1="149" y1="643.1" x2="152" y2="643.1" stroke="#4f6290" stroke-width="0.8"/>
<line x1="149" y1="647.25" x2="152" y2="647.25" stroke="#4f6290" stroke-width="0.8"/>
<line x1="160.75" y1="644" x2="160.75" y2="647.5" stroke="#4f6290" stroke-width="0.8"/>
<line x1="159.25" y1="644" x2="162.25" y2="644" stroke="#4f6290" stroke-width="0.8"/>
<line x1="159.25" y1="647.5" x2="162.25" y2="647.5" stroke="#4f6290" stroke-width="0.8"/>
<line x1="171" y1="636.5" x2="171" y2="646.25" stroke="#4f6290" stroke-width="0.8"/>
<line x1="169.5" y1="636.5" x2="172.5" y2="636.5" stroke="#4f6290" stroke-width="0.8"/>
<line x1="169.5" y1="646.25" x2="172.5" y2="646.25" stroke="#4f6290" stroke-width="0.8"/>
<line x1="181.25" y1="605.25" x2="181.25" y2="635.6" stroke="#4f6290" stroke-width="0.8"/>
<line x1="179.75" y1="605.25" x2="182.75" y2="605.25" stroke="#4f6290" stroke-width="0.8"/>
<line x1="179.75" y1="635.6" x2="182.75" y2="635.6" stroke="#4f6290" stroke-width="0.8"/>
<path d="M140.25 647.75 L150.5 649.4 L160.75 650.6 L171 651 L181.25 650" fill="none" stroke="#b21c48" stroke-width="1.15" stroke-linejoin="round"/>
<circle cx="140.25" cy="647.75" r="1.1" fill="#b21c48"/>
<circle cx="150.5" cy="649.4" r="1.1" fill="#b21c48"/>
<circle cx="160.75" cy="650.6" r="1.1" fill="#b21c48"/>
<circle cx="171" cy="651" r="1.1" fill="#b21c48"/>
<circle cx="181.25" cy="650" r="1.1" fill="#b21c48"/>
<path d="M140.25 648.1 L150.5 645 L160.75 646 L171 641.25 L181.25 620" fill="none" stroke="#283e6e" stroke-width="1.15" stroke-linejoin="round"/>
<circle cx="140.25" cy="648.1" r="1.1" fill="#283e6e"/>
<circle cx="150.5" cy="645" r="1.1" fill="#283e6e"/>
<circle cx="160.75" cy="646" r="1.1" fill="#283e6e"/>
<circle cx="171" cy="641.25" r="1.1" fill="#283e6e"/>
<circle cx="181.25" cy="620" r="1.1" fill="#283e6e"/>
<text x="113.7" y="188.35" font-size="7" text-anchor="middle" fill="#3a3a3a" font-family='"Liberation Serif", serif' stroke="#3a3a3a" stroke-width="0.05" textLength="59.5" lengthAdjust="spacingAndGlyphs" dominant-baseline="central" transform="rotate(-90 113.7 188.35)">T-ALL cells x 10e6 in blood</text>
<line x1="135.6" y1="161.5" x2="135.6" y2="214.8" stroke="#1e1e1e" stroke-width="1.25"/>
<line x1="135" y1="214.2" x2="168.5" y2="214.2" stroke="#1e1e1e" stroke-width="1.25"/>
<line x1="132.6" y1="164" x2="135.6" y2="164" stroke="#222" stroke-width="0.9"/>
<text x="132" y="164" font-size="4.5" text-anchor="end" fill="#333" stroke="#333" stroke-width="0.12" dominant-baseline="central">75000</text>
<line x1="132.6" y1="181" x2="135.6" y2="181" stroke="#222" stroke-width="0.9"/>
<text x="132" y="181" font-size="4.5" text-anchor="end" fill="#333" stroke="#333" stroke-width="0.12" dominant-baseline="central">50000</text>
<line x1="132.6" y1="197.6" x2="135.6" y2="197.6" stroke="#222" stroke-width="0.9"/>
<text x="132" y="197.6" font-size="4.5" text-anchor="end" fill="#333" stroke="#333" stroke-width="0.12" dominant-baseline="central">25000</text>
<line x1="132.6" y1="214.2" x2="135.6" y2="214.2" stroke="#222" stroke-width="0.9"/>
<text x="132" y="214.2" font-size="4.5" text-anchor="end" fill="#333" stroke="#333" stroke-width="0.12" dominant-baseline="central">0</text>
<line x1="143.75" y1="214.2" x2="143.75" y2="216.2" stroke="#222" stroke-width="0.8"/>
<line x1="160.2" y1="214.2" x2="160.2" y2="216.2" stroke="#222" stroke-width="0.8"/>
<line x1="143.75" y1="171.6" x2="143.75" y2="183.6" stroke="#1c3466" stroke-width="0.9"/>
<line x1="141.55" y1="171.6" x2="145.95" y2="171.6" stroke="#1c3466" stroke-width="0.9"/>
<line x1="141.55" y1="183.6" x2="145.95" y2="183.6" stroke="#1c3466" stroke-width="0.9"/>
<rect x="138.5" y="183.6" width="10.5" height="30.6" fill="#2c4f8c" stroke="#1c3466" stroke-width="0.6"/>
<rect x="154.8" y="213.4" width="10.8" height="0.8" fill="#bb0d3b" stroke="#8a0a2c" stroke-width="0.6"/>
<path d="M143.7 170.4 L143.7 168.6 L159.8 168.6 L159.8 170.4" fill="none" stroke="#222" stroke-width="0.8"/>
<text x="151.75" y="164.4" font-size="4.4" text-anchor="middle" fill="#222" font-style="italic" stroke="#222" stroke-width="0.15" dominant-baseline="central">p = 0.0112</text>
<text x="199.7" y="48.5" font-size="7" text-anchor="middle" fill="#3a3a3a" font-family='"Liberation Serif", serif' stroke="#3a3a3a" stroke-width="0.05" textLength="63" lengthAdjust="spacingAndGlyphs" dominant-baseline="central" transform="rotate(-90 199.7 48.5)">T-ALL cells x 10e6 in spleen</text>
<line x1="216.7" y1="21.3" x2="216.7" y2="75.3" stroke="#1e1e1e" stroke-width="1.25"/>
<line x1="216.1" y1="74.7" x2="253.5" y2="74.7" stroke="#1e1e1e" stroke-width="1.25"/>
<line x1="213.7" y1="24.2" x2="216.7" y2="24.2" stroke="#222" stroke-width="0.9"/>
<text x="213.1" y="24.2" font-size="4.5" text-anchor="end" fill="#333" stroke="#333" stroke-width="0.12" dominant-baseline="central">150</text>
<line x1="213.7" y1="41.4" x2="216.7" y2="41.4" stroke="#222" stroke-width="0.9"/>
<text x="213.1" y="41.4" font-size="4.5" text-anchor="end" fill="#333" stroke="#333" stroke-width="0.12" dominant-baseline="central">100</text>
<line x1="213.7" y1="58" x2="216.7" y2="58" stroke="#222" stroke-width="0.9"/>
<text x="213.1" y="58" font-size="4.5" text-anchor="end" fill="#333" stroke="#333" stroke-width="0.12" dominant-baseline="central">50</text>
<line x1="213.7" y1="74.7" x2="216.7" y2="74.7" stroke="#222" stroke-width="0.9"/>
<text x="213.1" y="74.7" font-size="4.5" text-anchor="end" fill="#333" stroke="#333" stroke-width="0.12" dominant-baseline="central">0</text>
<line x1="225.55" y1="74.7" x2="225.55" y2="76.7" stroke="#222" stroke-width="0.8"/>
<line x1="241.9" y1="74.7" x2="241.9" y2="76.7" stroke="#222" stroke-width="0.8"/>
<line x1="225.55" y1="44" x2="225.55" y2="45.3" stroke="#1c3466" stroke-width="0.9"/>
<line x1="223.35" y1="44" x2="227.75" y2="44" stroke="#1c3466" stroke-width="0.9"/>
<line x1="223.35" y1="45.3" x2="227.75" y2="45.3" stroke="#1c3466" stroke-width="0.9"/>
<line x1="241.9" y1="41.4" x2="241.9" y2="45" stroke="#8a0a2c" stroke-width="0.9"/>
<line x1="239.7" y1="41.4" x2="244.1" y2="41.4" stroke="#8a0a2c" stroke-width="0.9"/>
<line x1="239.7" y1="45" x2="244.1" y2="45" stroke="#8a0a2c" stroke-width="0.9"/>
<rect x="220" y="45.3" width="11.1" height="29.4" fill="#2c4f8c" stroke="#1c3466" stroke-width="0.6"/>
<rect x="236.2" y="45" width="11.4" height="29.7" fill="#bb0d3b" stroke="#8a0a2c" stroke-width="0.6"/>
<path d="M224.2 38.2 L224.2 36.4 L242.7 36.4 L242.7 38.2" fill="none" stroke="#222" stroke-width="0.8"/>
<text x="233.45" y="32" font-size="4.4" text-anchor="middle" fill="#222" font-style="italic" stroke="#222" stroke-width="0.15" dominant-baseline="central">p=0.799</text>
<text x="199.5" y="118.4" font-size="7" text-anchor="middle" fill="#3a3a3a" font-family='"Liberation Serif", serif' stroke="#3a3a3a" stroke-width="0.05" textLength="63" lengthAdjust="spacingAndGlyphs" dominant-baseline="central" transform="rotate(-90 199.5 118.4)">T-ALL cells x 10e6 in spleen</text>
<line x1="216.5" y1="90.9" x2="216.5" y2="145.5" stroke="#1e1e1e" stroke-width="1.25"/>
<line x1="215.9" y1="144.9" x2="253.75" y2="144.9" stroke="#1e1e1e" stroke-width="1.25"/>
<line x1="213.5" y1="94" x2="216.5" y2="94" stroke="#222" stroke-width="0.9"/>
<text x="212.9" y="94" font-size="4.5" text-anchor="end" fill="#333" stroke="#333" stroke-width="0.12" dominant-baseline="central">600</text>
<line x1="213.5" y1="111" x2="216.5" y2="111" stroke="#222" stroke-width="0.9"/>
<text x="212.9" y="111" font-size="4.5" text-anchor="end" fill="#333" stroke="#333" stroke-width="0.12" dominant-baseline="central">400</text>
<line x1="213.5" y1="128" x2="216.5" y2="128" stroke="#222" stroke-width="0.9"/>
<text x="212.9" y="128" font-size="4.5" text-anchor="end" fill="#333" stroke="#333" stroke-width="0.12" dominant-baseline="central">200</text>
<line x1="213.5" y1="144.9" x2="216.5" y2="144.9" stroke="#222" stroke-width="0.9"/>
<text x="212.9" y="144.9" font-size="4.5" text-anchor="end" fill="#333" stroke="#333" stroke-width="0.12" dominant-baseline="central">0</text>
<line x1="225.35" y1="144.9" x2="225.35" y2="146.9" stroke="#222" stroke-width="0.8"/>
<line x1="241.7" y1="144.9" x2="241.7" y2="146.9" stroke="#222" stroke-width="0.8"/>
<line x1="225.35" y1="102.1" x2="225.35" y2="105.5" stroke="#1c3466" stroke-width="0.9"/>
<line x1="223.15" y1="102.1" x2="227.55" y2="102.1" stroke="#1c3466" stroke-width="0.9"/>
<line x1="223.15" y1="105.5" x2="227.55" y2="105.5" stroke="#1c3466" stroke-width="0.9"/>
<line x1="241.7" y1="100" x2="241.7" y2="102.75" stroke="#8a0a2c" stroke-width="0.9"/>
<line x1="239.5" y1="100" x2="243.9" y2="100" stroke="#8a0a2c" stroke-width="0.9"/>
<line x1="239.5" y1="102.75" x2="243.9" y2="102.75" stroke="#8a0a2c" stroke-width="0.9"/>
<rect x="219.8" y="105.5" width="11.1" height="39.4" fill="#2c4f8c" stroke="#1c3466" stroke-width="0.6"/>
<rect x="236" y="102.75" width="11.4" height="42.15" fill="#bb0d3b" stroke="#8a0a2c" stroke-width="0.6"/>
<path d="M224.4 97.9 L224.4 96.1 L242.5 96.1 L242.5 97.9" fill="none" stroke="#222" stroke-width="0.8"/>
<text x="233.45" y="92.1" font-size="4.4" text-anchor="middle" fill="#222" font-style="italic" stroke="#222" stroke-width="0.15" dominant-baseline="central">p=0.3429</text>
<text x="199.9" y="188.32" font-size="7" text-anchor="middle" fill="#3a3a3a" font-family='"Liberation Serif", serif' stroke="#3a3a3a" stroke-width="0.05" textLength="63" lengthAdjust="spacingAndGlyphs" dominant-baseline="central" transform="rotate(-90 199.9 188.32)">T-ALL cells x 10e6 in spleen</text>
<line x1="216.9" y1="161.25" x2="216.9" y2="215" stroke="#1e1e1e" stroke-width="1.25"/>
<line x1="216.3" y1="214.4" x2="250" y2="214.4" stroke="#1e1e1e" stroke-width="1.25"/>
<line x1="213.9" y1="164.4" x2="216.9" y2="164.4" stroke="#222" stroke-width="0.9"/>
<text x="213.3" y="164.4" font-size="4.5" text-anchor="end" fill="#333" stroke="#333" stroke-width="0.12" dominant-baseline="central">150</text>
<line x1="213.9" y1="181.25" x2="216.9" y2="181.25" stroke="#222" stroke-width="0.9"/>
<text x="213.3" y="181.25" font-size="4.5" text-anchor="end" fill="#333" stroke="#333" stroke-width="0.12" dominant-baseline="central">100</text>
<line x1="213.9" y1="197.75" x2="216.9" y2="197.75" stroke="#222" stroke-width="0.9"/>
<text x="213.3" y="197.75" font-size="4.5" text-anchor="end" fill="#333" stroke="#333" stroke-width="0.12" dominant-baseline="central">50</text>
<line x1="213.9" y1="214.4" x2="216.9" y2="214.4" stroke="#222" stroke-width="0.9"/>
<text x="213.3" y="214.4" font-size="4.5" text-anchor="end" fill="#333" stroke="#333" stroke-width="0.12" dominant-baseline="central">0</text>
<line x1="225.75" y1="214.4" x2="225.75" y2="216.4" stroke="#222" stroke-width="0.8"/>
<line x1="242.1" y1="214.4" x2="242.1" y2="216.4" stroke="#222" stroke-width="0.8"/>
<line x1="225.75" y1="173.5" x2="225.75" y2="179" stroke="#1c3466" stroke-width="0.9"/>
<line x1="223.55" y1="173.5" x2="227.95" y2="173.5" stroke="#1c3466" stroke-width="0.9"/>
<line x1="223.55" y1="179" x2="227.95" y2="179" stroke="#1c3466" stroke-width="0.9"/>
<rect x="220.2" y="179" width="11.1" height="35.4" fill="#2c4f8c" stroke="#1c3466" stroke-width="0.6"/>
<line x1="236.4" y1="213.8" x2="247.8" y2="213.8" stroke="#8a0a2c" stroke-width="1"/>
<path d="M225 169.9 L225 168.1 L239.75 168.1 L239.75 169.9" fill="none" stroke="#222" stroke-width="0.8"/>
<text x="232.38" y="164" font-size="4.4" text-anchor="middle" fill="#222" font-style="italic" stroke="#222" stroke-width="0.15" dominant-baseline="central">p = 0.0003</text>
<text x="199.9" y="261.05" font-size="7" text-anchor="middle" fill="#3a3a3a" font-family='"Liberation Serif", serif' stroke="#3a3a3a" stroke-width="0.05" textLength="68" lengthAdjust="spacingAndGlyphs" dominant-baseline="central" transform="rotate(-90 199.9 261.05)">ETP ALL cells x 10e6 in spleen</text>
<line x1="216.9" y1="234" x2="216.9" y2="287.7" stroke="#1e1e1e" stroke-width="1.25"/>
<line x1="216.3" y1="287.1" x2="250" y2="287.1" stroke="#1e1e1e" stroke-width="1.25"/>
<line x1="213.9" y1="236.75" x2="216.9" y2="236.75" stroke="#222" stroke-width="0.9"/>
<text x="213.3" y="236.75" font-size="4.5" text-anchor="end" fill="#333" stroke="#333" stroke-width="0.12" dominant-baseline="central">200</text>
<line x1="213.9" y1="249.6" x2="216.9" y2="249.6" stroke="#222" stroke-width="0.9"/>
<text x="213.3" y="249.6" font-size="4.5" text-anchor="end" fill="#333" stroke="#333" stroke-width="0.12" dominant-baseline="central">150</text>
<line x1="213.9" y1="262.1" x2="216.9" y2="262.1" stroke="#222" stroke-width="0.9"/>
<text x="213.3" y="262.1" font-size="4.5" text-anchor="end" fill="#333" stroke="#333" stroke-width="0.12" dominant-baseline="central">100</text>
<line x1="213.9" y1="274.6" x2="216.9" y2="274.6" stroke="#222" stroke-width="0.9"/>
<text x="213.3" y="274.6" font-size="4.5" text-anchor="end" fill="#333" stroke="#333" stroke-width="0.12" dominant-baseline="central">50</text>
<line x1="213.9" y1="287.1" x2="216.9" y2="287.1" stroke="#222" stroke-width="0.9"/>
<text x="213.3" y="287.1" font-size="4.5" text-anchor="end" fill="#333" stroke="#333" stroke-width="0.12" dominant-baseline="central">0</text>
<line x1="225.75" y1="287.1" x2="225.75" y2="289.1" stroke="#222" stroke-width="0.8"/>
<line x1="242.1" y1="287.1" x2="242.1" y2="289.1" stroke="#222" stroke-width="0.8"/>
<line x1="225.75" y1="238.4" x2="225.75" y2="249" stroke="#1c3466" stroke-width="0.9"/>
<line x1="223.55" y1="238.4" x2="227.95" y2="238.4" stroke="#1c3466" stroke-width="0.9"/>
<line x1="223.55" y1="249" x2="227.95" y2="249" stroke="#1c3466" stroke-width="0.9"/>
<line x1="242.1" y1="275.25" x2="242.1" y2="279.4" stroke="#8a0a2c" stroke-width="0.9"/>
<line x1="239.9" y1="275.25" x2="244.3" y2="275.25" stroke="#8a0a2c" stroke-width="0.9"/>
<line x1="239.9" y1="279.4" x2="244.3" y2="279.4" stroke="#8a0a2c" stroke-width="0.9"/>
<rect x="220.2" y="249" width="11.1" height="38.1" fill="#2c4f8c" stroke="#1c3466" stroke-width="0.6"/>
<rect x="236.4" y="279.4" width="11.4" height="7.7" fill="#bb0d3b" stroke="#8a0a2c" stroke-width="0.6"/>
<path d="M225 234.8 L225 233 L242.25 233 L242.25 234.8" fill="none" stroke="#222" stroke-width="0.8"/>
<text x="233.62" y="229.25" font-size="4.4" text-anchor="middle" fill="#222" font-style="italic" stroke="#222" stroke-width="0.15" dominant-baseline="central">p=0.0004</text>
<text x="199.9" y="334.35" font-size="7" text-anchor="middle" fill="#3a3a3a" font-family='"Liberation Serif", serif' stroke="#3a3a3a" stroke-width="0.05" textLength="68" lengthAdjust="spacingAndGlyphs" dominant-baseline="central" transform="rotate(-90 199.9 334.35)">ETP ALL cells x 10e6 in spleen</text>
<line x1="216.9" y1="307.6" x2="216.9" y2="360.7" stroke="#1e1e1e" stroke-width="1.25"/>
<line x1="216.3" y1="360.1" x2="250" y2="360.1" stroke="#1e1e1e" stroke-width="1.25"/>
<line x1="213.9" y1="309.5" x2="216.9" y2="309.5" stroke="#222" stroke-width="0.9"/>
<text x="213.3" y="309.5" font-size="4.5" text-anchor="end" fill="#333" stroke="#333" stroke-width="0.12" dominant-baseline="central">150</text>
<line x1="213.9" y1="326.4" x2="216.9" y2="326.4" stroke="#222" stroke-width="0.9"/>
<text x="213.3" y="326.4" font-size="4.5" text-anchor="end" fill="#333" stroke="#333" stroke-width="0.12" dominant-baseline="central">100</text>
<line x1="213.9" y1="343.25" x2="216.9" y2="343.25" stroke="#222" stroke-width="0.9"/>
<text x="213.3" y="343.25" font-size="4.5" text-anchor="end" fill="#333" stroke="#333" stroke-width="0.12" dominant-baseline="central">50</text>
<line x1="213.9" y1="360.1" x2="216.9" y2="360.1" stroke="#222" stroke-width="0.9"/>
<text x="213.3" y="360.1" font-size="4.5" text-anchor="end" fill="#333" stroke="#333" stroke-width="0.12" dominant-baseline="central">0</text>
<line x1="225.75" y1="360.1" x2="225.75" y2="362.1" stroke="#222" stroke-width="0.8"/>
<line x1="242.1" y1="360.1" x2="242.1" y2="362.1" stroke="#222" stroke-width="0.8"/>
<line x1="225.75" y1="317" x2="225.75" y2="329.75" stroke="#1c3466" stroke-width="0.9"/>
<line x1="223.55" y1="317" x2="227.95" y2="317" stroke="#1c3466" stroke-width="0.9"/>
<line x1="223.55" y1="329.75" x2="227.95" y2="329.75" stroke="#1c3466" stroke-width="0.9"/>
<line x1="242.1" y1="350.1" x2="242.1" y2="355.1" stroke="#8a0a2c" stroke-width="0.9"/>
<line x1="239.9" y1="350.1" x2="244.3" y2="350.1" stroke="#8a0a2c" stroke-width="0.9"/>
<line x1="239.9" y1="355.1" x2="244.3" y2="355.1" stroke="#8a0a2c" stroke-width="0.9"/>
<rect x="220.2" y="329.75" width="11.1" height="30.35" fill="#2c4f8c" stroke="#1c3466" stroke-width="0.6"/>
<rect x="236.4" y="355.1" width="11.4" height="5" fill="#bb0d3b" stroke="#8a0a2c" stroke-width="0.6"/>
<path d="M225 315.7 L225 313.9 L242.5 313.9 L242.5 315.7" fill="none" stroke="#222" stroke-width="0.8"/>
<text x="233.75" y="310.5" font-size="4.4" text-anchor="middle" fill="#222" font-style="italic" stroke="#222" stroke-width="0.15" dominant-baseline="central">p=0.0077</text>
<text x="199.25" y="406.68" font-size="7" text-anchor="middle" fill="#3a3a3a" font-family='"Liberation Serif", serif' stroke="#3a3a3a" stroke-width="0.05" textLength="68" lengthAdjust="spacingAndGlyphs" dominant-baseline="central" transform="rotate(-90 199.25 406.68)">ETP ALL cells x 10e6 in spleen</text>
<line x1="216.25" y1="379.6" x2="216.25" y2="433.35" stroke="#1e1e1e" stroke-width="1.25"/>
<line x1="215.65" y1="432.75" x2="250" y2="432.75" stroke="#1e1e1e" stroke-width="1.25"/>
<line x1="213.25" y1="382.5" x2="216.25" y2="382.5" stroke="#222" stroke-width="0.9"/>
<text x="212.65" y="382.5" font-size="4.5" text-anchor="end" fill="#333" stroke="#333" stroke-width="0.12" dominant-baseline="central">300</text>
<line x1="213.25" y1="399.25" x2="216.25" y2="399.25" stroke="#222" stroke-width="0.9"/>
<text x="212.65" y="399.25" font-size="4.5" text-anchor="end" fill="#333" stroke="#333" stroke-width="0.12" dominant-baseline="central">200</text>
<line x1="213.25" y1="416.25" x2="216.25" y2="416.25" stroke="#222" stroke-width="0.9"/>
<text x="212.65" y="416.25" font-size="4.5" text-anchor="end" fill="#333" stroke="#333" stroke-width="0.12" dominant-baseline="central">100</text>
<line x1="213.25" y1="432.75" x2="216.25" y2="432.75" stroke="#222" stroke-width="0.9"/>
<text x="212.65" y="432.75" font-size="4.5" text-anchor="end" fill="#333" stroke="#333" stroke-width="0.12" dominant-baseline="central">0</text>
<line x1="225.1" y1="432.75" x2="225.1" y2="434.75" stroke="#222" stroke-width="0.8"/>
<line x1="241.45" y1="432.75" x2="241.45" y2="434.75" stroke="#222" stroke-width="0.8"/>
<line x1="225.1" y1="385.9" x2="225.1" y2="394" stroke="#1c3466" stroke-width="0.9"/>
<line x1="222.9" y1="385.9" x2="227.3" y2="385.9" stroke="#1c3466" stroke-width="0.9"/>
<line x1="222.9" y1="394" x2="227.3" y2="394" stroke="#1c3466" stroke-width="0.9"/>
<line x1="241.45" y1="412.5" x2="241.45" y2="414" stroke="#8a0a2c" stroke-width="0.9"/>
<line x1="239.25" y1="412.5" x2="243.65" y2="412.5" stroke="#8a0a2c" stroke-width="0.9"/>
<line x1="239.25" y1="414" x2="243.65" y2="414" stroke="#8a0a2c" stroke-width="0.9"/>
<rect x="219.55" y="394" width="11.1" height="38.75" fill="#2c4f8c" stroke="#1c3466" stroke-width="0.6"/>
<rect x="235.75" y="414" width="11.4" height="18.75" fill="#bb0d3b" stroke="#8a0a2c" stroke-width="0.6"/>
<path d="M224.4 383.9 L224.4 382.1 L242.75 382.1 L242.75 383.9" fill="none" stroke="#222" stroke-width="0.8"/>
<text x="233.57" y="378.4" font-size="4.4" text-anchor="middle" fill="#222" font-style="italic" stroke="#222" stroke-width="0.15" dominant-baseline="central">p=0.0076</text>
<text x="199.5" y="479.7" font-size="7" text-anchor="middle" fill="#3a3a3a" font-family='"Liberation Serif", serif' stroke="#3a3a3a" stroke-width="0.05" textLength="68" lengthAdjust="spacingAndGlyphs" dominant-baseline="central" transform="rotate(-90 199.5 479.7)">ETP ALL cells x 10e6 in spleen</text>
<line x1="216.5" y1="452.5" x2="216.5" y2="506.5" stroke="#1e1e1e" stroke-width="1.25"/>
<line x1="215.9" y1="505.9" x2="250" y2="505.9" stroke="#1e1e1e" stroke-width="1.25"/>
<line x1="213.5" y1="455.25" x2="216.5" y2="455.25" stroke="#222" stroke-width="0.9"/>
<text x="212.9" y="455.25" font-size="4.5" text-anchor="end" fill="#333" stroke="#333" stroke-width="0.12" dominant-baseline="central">800</text>
<line x1="213.5" y1="467.75" x2="216.5" y2="467.75" stroke="#222" stroke-width="0.9"/>
<text x="212.9" y="467.75" font-size="4.5" text-anchor="end" fill="#333" stroke="#333" stroke-width="0.12" dominant-baseline="central">600</text>
<line x1="213.5" y1="480.5" x2="216.5" y2="480.5" stroke="#222" stroke-width="0.9"/>
<text x="212.9" y="480.5" font-size="4.5" text-anchor="end" fill="#333" stroke="#333" stroke-width="0.12" dominant-baseline="central">400</text>
<line x1="213.5" y1="493.4" x2="216.5" y2="493.4" stroke="#222" stroke-width="0.9"/>
<text x="212.9" y="493.4" font-size="4.5" text-anchor="end" fill="#333" stroke="#333" stroke-width="0.12" dominant-baseline="central">200</text>
<line x1="213.5" y1="505.9" x2="216.5" y2="505.9" stroke="#222" stroke-width="0.9"/>
<text x="212.9" y="505.9" font-size="4.5" text-anchor="end" fill="#333" stroke="#333" stroke-width="0.12" dominant-baseline="central">0</text>
<line x1="225.35" y1="505.9" x2="225.35" y2="507.9" stroke="#222" stroke-width="0.8"/>
<line x1="241.7" y1="505.9" x2="241.7" y2="507.9" stroke="#222" stroke-width="0.8"/>
<line x1="225.35" y1="469.4" x2="225.35" y2="470.9" stroke="#1c3466" stroke-width="0.9"/>
<line x1="223.15" y1="469.4" x2="227.55" y2="469.4" stroke="#1c3466" stroke-width="0.9"/>
<line x1="223.15" y1="470.9" x2="227.55" y2="470.9" stroke="#1c3466" stroke-width="0.9"/>
<line x1="241.7" y1="460.9" x2="241.7" y2="467.75" stroke="#8a0a2c" stroke-width="0.9"/>
<line x1="239.5" y1="460.9" x2="243.9" y2="460.9" stroke="#8a0a2c" stroke-width="0.9"/>
<line x1="239.5" y1="467.75" x2="243.9" y2="467.75" stroke="#8a0a2c" stroke-width="0.9"/>
<rect x="219.8" y="470.9" width="11.1" height="35" fill="#2c4f8c" stroke="#1c3466" stroke-width="0.6"/>
<rect x="236" y="467.75" width="11.4" height="38.15" fill="#bb0d3b" stroke="#8a0a2c" stroke-width="0.6"/>
<path d="M223.5 458.9 L223.5 457.1 L241.9 457.1 L241.9 458.9" fill="none" stroke="#222" stroke-width="0.8"/>
<text x="232.7" y="453.4" font-size="4.4" text-anchor="middle" fill="#222" font-style="italic" stroke="#222" stroke-width="0.15" dominant-baseline="central">p=0.4023</text>
<text x="199.5" y="552.35" font-size="7" text-anchor="middle" fill="#3a3a3a" font-family='"Liberation Serif", serif' stroke="#3a3a3a" stroke-width="0.05" textLength="68" lengthAdjust="spacingAndGlyphs" dominant-baseline="central" transform="rotate(-90 199.5 552.35)">ETP ALL cells x 10e6 in spleen</text>
<line x1="216.5" y1="525.6" x2="216.5" y2="578.7" stroke="#1e1e1e" stroke-width="1.25"/>
<line x1="215.9" y1="578.1" x2="250" y2="578.1" stroke="#1e1e1e" stroke-width="1.25"/>
<line x1="213.5" y1="527.75" x2="216.5" y2="527.75" stroke="#222" stroke-width="0.9"/>
<text x="212.9" y="527.75" font-size="4.5" text-anchor="end" fill="#333" stroke="#333" stroke-width="0.12" dominant-baseline="central">80</text>
<line x1="213.5" y1="540.6" x2="216.5" y2="540.6" stroke="#222" stroke-width="0.9"/>
<text x="212.9" y="540.6" font-size="4.5" text-anchor="end" fill="#333" stroke="#333" stroke-width="0.12" dominant-baseline="central">60</text>
<line x1="213.5" y1="553.1" x2="216.5" y2="553.1" stroke="#222" stroke-width="0.9"/>
<text x="212.9" y="553.1" font-size="4.5" text-anchor="end" fill="#333" stroke="#333" stroke-width="0.12" dominant-baseline="central">40</text>
<line x1="213.5" y1="565.6" x2="216.5" y2="565.6" stroke="#222" stroke-width="0.9"/>
<text x="212.9" y="565.6" font-size="4.5" text-anchor="end" fill="#333" stroke="#333" stroke-width="0.12" dominant-baseline="central">20</text>
<line x1="213.5" y1="578.1" x2="216.5" y2="578.1" stroke="#222" stroke-width="0.9"/>
<text x="212.9" y="578.1" font-size="4.5" text-anchor="end" fill="#333" stroke="#333" stroke-width="0.12" dominant-baseline="central">0</text>
<line x1="225.35" y1="578.1" x2="225.35" y2="580.1" stroke="#222" stroke-width="0.8"/>
<line x1="241.7" y1="578.1" x2="241.7" y2="580.1" stroke="#222" stroke-width="0.8"/>
<line x1="225.35" y1="534.75" x2="225.35" y2="541" stroke="#1c3466" stroke-width="0.9"/>
<line x1="223.15" y1="534.75" x2="227.55" y2="534.75" stroke="#1c3466" stroke-width="0.9"/>
<line x1="223.15" y1="541" x2="227.55" y2="541" stroke="#1c3466" stroke-width="0.9"/>
<rect x="219.8" y="541" width="11.1" height="37.1" fill="#2c4f8c" stroke="#1c3466" stroke-width="0.6"/>
<rect x="236" y="577.3" width="11.4" height="0.8" fill="#bb0d3b" stroke="#8a0a2c" stroke-width="0.6"/>
<path d="M225 532.4 L225 530.6 L242.5 530.6 L242.5 532.4" fill="none" stroke="#222" stroke-width="0.8"/>
<text x="233.75" y="526.5" font-size="4.4" text-anchor="middle" fill="#222" font-style="italic" stroke="#222" stroke-width="0.15" dominant-baseline="central">p<0.0001</text>
<text x="199.5" y="624.75" font-size="7" text-anchor="middle" fill="#3a3a3a" font-family='"Liberation Serif", serif' stroke="#3a3a3a" stroke-width="0.05" textLength="68" lengthAdjust="spacingAndGlyphs" dominant-baseline="central" transform="rotate(-90 199.5 624.75)">ETP ALL cells x 10e6 in spleen</text>
<line x1="216.5" y1="597.4" x2="216.5" y2="651.7" stroke="#1e1e1e" stroke-width="1.25"/>
<line x1="215.9" y1="651.1" x2="250" y2="651.1" stroke="#1e1e1e" stroke-width="1.25"/>
<line x1="213.5" y1="600.5" x2="216.5" y2="600.5" stroke="#222" stroke-width="0.9"/>
<text x="212.9" y="600.5" font-size="4.5" text-anchor="end" fill="#333" stroke="#333" stroke-width="0.12" dominant-baseline="central">500</text>
<line x1="213.5" y1="610.5" x2="216.5" y2="610.5" stroke="#222" stroke-width="0.9"/>
<text x="212.9" y="610.5" font-size="4.5" text-anchor="end" fill="#333" stroke="#333" stroke-width="0.12" dominant-baseline="central">400</text>
<line x1="213.5" y1="620.75" x2="216.5" y2="620.75" stroke="#222" stroke-width="0.9"/>
<text x="212.9" y="620.75" font-size="4.5" text-anchor="end" fill="#333" stroke="#333" stroke-width="0.12" dominant-baseline="central">300</text>
<line x1="213.5" y1="630.75" x2="216.5" y2="630.75" stroke="#222" stroke-width="0.9"/>
<text x="212.9" y="630.75" font-size="4.5" text-anchor="end" fill="#333" stroke="#333" stroke-width="0.12" dominant-baseline="central">200</text>
<line x1="213.5" y1="640.75" x2="216.5" y2="640.75" stroke="#222" stroke-width="0.9"/>
<text x="212.9" y="640.75" font-size="4.5" text-anchor="end" fill="#333" stroke="#333" stroke-width="0.12" dominant-baseline="central">100</text>
<line x1="213.5" y1="651.1" x2="216.5" y2="651.1" stroke="#222" stroke-width="0.9"/>
<text x="212.9" y="651.1" font-size="4.5" text-anchor="end" fill="#333" stroke="#333" stroke-width="0.12" dominant-baseline="central">0</text>
<line x1="225.35" y1="651.1" x2="225.35" y2="653.1" stroke="#222" stroke-width="0.8"/>
<line x1="241.7" y1="651.1" x2="241.7" y2="653.1" stroke="#222" stroke-width="0.8"/>
<line x1="225.35" y1="602.4" x2="225.35" y2="612.4" stroke="#1c3466" stroke-width="0.9"/>
<line x1="223.15" y1="602.4" x2="227.55" y2="602.4" stroke="#1c3466" stroke-width="0.9"/>
<line x1="223.15" y1="612.4" x2="227.55" y2="612.4" stroke="#1c3466" stroke-width="0.9"/>
<rect x="219.8" y="612.4" width="11.1" height="38.7" fill="#2c4f8c" stroke="#1c3466" stroke-width="0.6"/>
<path d="M225 600.4 L225 598.6 L241 598.6 L241 600.4" fill="none" stroke="#222" stroke-width="0.8"/>
<text x="233" y="594.9" font-size="4.4" text-anchor="middle" fill="#222" font-style="italic" stroke="#222" stroke-width="0.15" dominant-baseline="central">p<0.0001</text>
<text x="372.9" y="48.4" font-size="7" text-anchor="middle" fill="#3a3a3a" font-family='"Liberation Serif", serif' stroke="#3a3a3a" stroke-width="0.05" textLength="61.5" lengthAdjust="spacingAndGlyphs" dominant-baseline="central" transform="rotate(-90 372.9 48.4)">T-ALL cells x 10e6 in blood</text>
<line x1="396.3" y1="20.8" x2="396.3" y2="75.6" stroke="#1e1e1e" stroke-width="1.25"/>
<line x1="395.7" y1="75" x2="447.1" y2="75" stroke="#1e1e1e" stroke-width="1.25"/>
<line x1="393.3" y1="23.7" x2="396.3" y2="23.7" stroke="#222" stroke-width="0.9"/>
<text x="392.7" y="23.7" font-size="4.5" text-anchor="end" fill="#333" stroke="#333" stroke-width="0.12" dominant-baseline="central">100000</text>
<line x1="393.3" y1="34" x2="396.3" y2="34" stroke="#222" stroke-width="0.9"/>
<text x="392.7" y="34" font-size="4.5" text-anchor="end" fill="#333" stroke="#333" stroke-width="0.12" dominant-baseline="central">80000</text>
<line x1="393.3" y1="43.8" x2="396.3" y2="43.8" stroke="#222" stroke-width="0.9"/>
<text x="392.7" y="43.8" font-size="4.5" text-anchor="end" fill="#333" stroke="#333" stroke-width="0.12" dominant-baseline="central">60000</text>
<line x1="393.3" y1="54.2" x2="396.3" y2="54.2" stroke="#222" stroke-width="0.9"/>
<text x="392.7" y="54.2" font-size="4.5" text-anchor="end" fill="#333" stroke="#333" stroke-width="0.12" dominant-baseline="central">40000</text>
<line x1="393.3" y1="64.6" x2="396.3" y2="64.6" stroke="#222" stroke-width="0.9"/>
<text x="392.7" y="64.6" font-size="4.5" text-anchor="end" fill="#333" stroke="#333" stroke-width="0.12" dominant-baseline="central">20000</text>
<line x1="393.3" y1="75" x2="396.3" y2="75" stroke="#222" stroke-width="0.9"/>
<text x="392.7" y="75" font-size="4.5" text-anchor="end" fill="#333" stroke="#333" stroke-width="0.12" dominant-baseline="central">0</text>
<line x1="409" y1="75" x2="409" y2="77" stroke="#222" stroke-width="0.8"/>
<text x="409" y="81.2" font-size="4.3" text-anchor="middle" fill="#444" stroke="#444" stroke-width="0.12" dominant-baseline="central">0</text>
<line x1="434.2" y1="75" x2="434.2" y2="77" stroke="#222" stroke-width="0.8"/>
<text x="434.2" y="81.2" font-size="4.3" text-anchor="middle" fill="#444" stroke="#444" stroke-width="0.12" dominant-baseline="central">1</text>
<text x="399.6" y="26.5" font-size="4.4" text-anchor="start" fill="#222" font-style="italic" stroke="#222" stroke-width="0.15" dominant-baseline="central">p = 0.0002</text>
<line x1="434.2" y1="32.3" x2="434.2" y2="49.4" stroke="#4f6290" stroke-width="0.8"/>
<line x1="432.7" y1="32.3" x2="435.7" y2="32.3" stroke="#4f6290" stroke-width="0.8"/>
<line x1="432.7" y1="49.4" x2="435.7" y2="49.4" stroke="#4f6290" stroke-width="0.8"/>
<path d="M409 75 L434.2 75" fill="none" stroke="#b21c48" stroke-width="1.15" stroke-linejoin="round"/>
<circle cx="409" cy="75" r="1.1" fill="#b21c48"/>
<circle cx="434.2" cy="75" r="1.1" fill="#b21c48"/>
<path d="M409 72 L434.2 40.6" fill="none" stroke="#283e6e" stroke-width="1.15" stroke-linejoin="round"/>
<circle cx="409" cy="72" r="1.1" fill="#283e6e"/>
<circle cx="434.2" cy="40.6" r="1.1" fill="#283e6e"/>
<text x="374.2" y="118.5" font-size="7" text-anchor="middle" fill="#3a3a3a" font-family='"Liberation Serif", serif' stroke="#3a3a3a" stroke-width="0.05" textLength="61.5" lengthAdjust="spacingAndGlyphs" dominant-baseline="central" transform="rotate(-90 374.2 118.5)">T-ALL cells x 10e6 in blood</text>
<line x1="396" y1="91.25" x2="396" y2="145.35" stroke="#1e1e1e" stroke-width="1.25"/>
<line x1="395.4" y1="144.75" x2="446.25" y2="144.75" stroke="#1e1e1e" stroke-width="1.25"/>
<line x1="393" y1="94" x2="396" y2="94" stroke="#222" stroke-width="0.9"/>
<text x="392.4" y="94" font-size="4.5" text-anchor="end" fill="#333" stroke="#333" stroke-width="0.12" dominant-baseline="central">40000</text>
<line x1="393" y1="106.9" x2="396" y2="106.9" stroke="#222" stroke-width="0.9"/>
<text x="392.4" y="106.9" font-size="4.5" text-anchor="end" fill="#333" stroke="#333" stroke-width="0.12" dominant-baseline="central">30000</text>
<line x1="393" y1="119.75" x2="396" y2="119.75" stroke="#222" stroke-width="0.9"/>
<text x="392.4" y="119.75" font-size="4.5" text-anchor="end" fill="#333" stroke="#333" stroke-width="0.12" dominant-baseline="central">20000</text>
<line x1="393" y1="132.25" x2="396" y2="132.25" stroke="#222" stroke-width="0.9"/>
<text x="392.4" y="132.25" font-size="4.5" text-anchor="end" fill="#333" stroke="#333" stroke-width="0.12" dominant-baseline="central">10000</text>
<line x1="393" y1="144.75" x2="396" y2="144.75" stroke="#222" stroke-width="0.9"/>
<text x="392.4" y="144.75" font-size="4.5" text-anchor="end" fill="#333" stroke="#333" stroke-width="0.12" dominant-baseline="central">0</text>
<line x1="402.25" y1="144.75" x2="402.25" y2="146.75" stroke="#222" stroke-width="0.8"/>
<text x="402.25" y="150.95" font-size="4.3" text-anchor="middle" fill="#444" stroke="#444" stroke-width="0.12" dominant-baseline="central">6</text>
<line x1="414.92" y1="144.75" x2="414.92" y2="146.75" stroke="#222" stroke-width="0.8"/>
<text x="414.92" y="150.95" font-size="4.3" text-anchor="middle" fill="#444" stroke="#444" stroke-width="0.12" dominant-baseline="central">7</text>
<line x1="427.58" y1="144.75" x2="427.58" y2="146.75" stroke="#222" stroke-width="0.8"/>
<text x="427.58" y="150.95" font-size="4.3" text-anchor="middle" fill="#444" stroke="#444" stroke-width="0.12" dominant-baseline="central">8</text>
<line x1="440.25" y1="144.75" x2="440.25" y2="146.75" stroke="#222" stroke-width="0.8"/>
<text x="440.25" y="150.95" font-size="4.3" text-anchor="middle" fill="#444" stroke="#444" stroke-width="0.12" dominant-baseline="central">9</text>
<text x="399.3" y="97.25" font-size="4.4" text-anchor="start" fill="#222" font-style="italic" stroke="#222" stroke-width="0.15" dominant-baseline="central">p= 0.0065</text>
<line x1="427.58" y1="140.6" x2="427.58" y2="143.75" stroke="#b33c62" stroke-width="0.8"/>
<line x1="426.08" y1="140.6" x2="429.08" y2="140.6" stroke="#b33c62" stroke-width="0.8"/>
<line x1="426.08" y1="143.75" x2="429.08" y2="143.75" stroke="#b33c62" stroke-width="0.8"/>
<line x1="440.25" y1="136.5" x2="440.25" y2="141.9" stroke="#b33c62" stroke-width="0.8"/>
<line x1="438.75" y1="136.5" x2="441.75" y2="136.5" stroke="#b33c62" stroke-width="0.8"/>
<line x1="438.75" y1="141.9" x2="441.75" y2="141.9" stroke="#b33c62" stroke-width="0.8"/>
<line x1="414.92" y1="139" x2="414.92" y2="141.25" stroke="#4f6290" stroke-width="0.8"/>
<line x1="413.42" y1="139" x2="416.42" y2="139" stroke="#4f6290" stroke-width="0.8"/>
<line x1="413.42" y1="141.25" x2="416.42" y2="141.25" stroke="#4f6290" stroke-width="0.8"/>
<line x1="427.58" y1="124.4" x2="427.58" y2="144.4" stroke="#4f6290" stroke-width="0.8"/>
<line x1="426.08" y1="124.4" x2="429.08" y2="124.4" stroke="#4f6290" stroke-width="0.8"/>
<line x1="426.08" y1="144.4" x2="429.08" y2="144.4" stroke="#4f6290" stroke-width="0.8"/>
<line x1="440.25" y1="106.5" x2="440.25" y2="132.25" stroke="#4f6290" stroke-width="0.8"/>
<line x1="438.75" y1="106.5" x2="441.75" y2="106.5" stroke="#4f6290" stroke-width="0.8"/>
<line x1="438.75" y1="132.25" x2="441.75" y2="132.25" stroke="#4f6290" stroke-width="0.8"/>
<path d="M402.25 144.75 L414.92 144.4 L427.58 142.5 L440.25 139.75" fill="none" stroke="#b21c48" stroke-width="1.15" stroke-linejoin="round"/>
<circle cx="402.25" cy="144.75" r="1.1" fill="#b21c48"/>
<circle cx="414.92" cy="144.4" r="1.1" fill="#b21c48"/>
<circle cx="427.58" cy="142.5" r="1.1" fill="#b21c48"/>
<circle cx="440.25" cy="139.75" r="1.1" fill="#b21c48"/>
<path d="M402.25 144.75 L414.92 140 L427.58 131.9 L440.25 119.4" fill="none" stroke="#283e6e" stroke-width="1.15" stroke-linejoin="round"/>
<circle cx="402.25" cy="144.75" r="1.1" fill="#283e6e"/>
<circle cx="414.92" cy="140" r="1.1" fill="#283e6e"/>
<circle cx="427.58" cy="131.9" r="1.1" fill="#283e6e"/>
<circle cx="440.25" cy="119.4" r="1.1" fill="#283e6e"/>
<text x="373.4" y="188.32" font-size="7" text-anchor="middle" fill="#3a3a3a" font-family='"Liberation Serif", serif' stroke="#3a3a3a" stroke-width="0.05" textLength="61.5" lengthAdjust="spacingAndGlyphs" dominant-baseline="central" transform="rotate(-90 373.4 188.32)">T-ALL cells x 10e6 in blood</text>
<line x1="394.75" y1="161.25" x2="394.75" y2="215" stroke="#1e1e1e" stroke-width="1.25"/>
<line x1="394.15" y1="214.4" x2="445.6" y2="214.4" stroke="#1e1e1e" stroke-width="1.25"/>
<line x1="391.75" y1="164" x2="394.75" y2="164" stroke="#222" stroke-width="0.9"/>
<text x="391.15" y="164" font-size="4.5" text-anchor="end" fill="#333" stroke="#333" stroke-width="0.12" dominant-baseline="central">3×10<tspan dy="-1.6" font-size="3.06">6</tspan></text>
<line x1="391.75" y1="180.6" x2="394.75" y2="180.6" stroke="#222" stroke-width="0.9"/>
<text x="391.15" y="180.6" font-size="4.5" text-anchor="end" fill="#333" stroke="#333" stroke-width="0.12" dominant-baseline="central">2×10<tspan dy="-1.6" font-size="3.06">6</tspan></text>
<line x1="391.75" y1="197.5" x2="394.75" y2="197.5" stroke="#222" stroke-width="0.9"/>
<text x="391.15" y="197.5" font-size="4.5" text-anchor="end" fill="#333" stroke="#333" stroke-width="0.12" dominant-baseline="central">1×10<tspan dy="-1.6" font-size="3.06">6</tspan></text>
<line x1="391.75" y1="214.4" x2="394.75" y2="214.4" stroke="#222" stroke-width="0.9"/>
<text x="391.15" y="214.4" font-size="4.5" text-anchor="end" fill="#333" stroke="#333" stroke-width="0.12" dominant-baseline="central">0</text>
<line x1="403.5" y1="214.4" x2="403.5" y2="216.4" stroke="#222" stroke-width="0.8"/>
<text x="403.5" y="220.6" font-size="4.3" text-anchor="middle" fill="#444" stroke="#444" stroke-width="0.12" dominant-baseline="central">4</text>
<line x1="420.2" y1="214.4" x2="420.2" y2="216.4" stroke="#222" stroke-width="0.8"/>
<text x="420.2" y="220.6" font-size="4.3" text-anchor="middle" fill="#444" stroke="#444" stroke-width="0.12" dominant-baseline="central">5</text>
<line x1="436.9" y1="214.4" x2="436.9" y2="216.4" stroke="#222" stroke-width="0.8"/>
<text x="436.9" y="220.6" font-size="4.3" text-anchor="middle" fill="#444" stroke="#444" stroke-width="0.12" dominant-baseline="central">6</text>
<text x="398.05" y="166.5" font-size="4.4" text-anchor="start" fill="#222" font-style="italic" stroke="#222" stroke-width="0.15" dominant-baseline="central">p= 0.0006</text>
<line x1="436.9" y1="173.1" x2="436.9" y2="196" stroke="#4f6290" stroke-width="0.8"/>
<line x1="435.4" y1="173.1" x2="438.4" y2="173.1" stroke="#4f6290" stroke-width="0.8"/>
<line x1="435.4" y1="196" x2="438.4" y2="196" stroke="#4f6290" stroke-width="0.8"/>
<path d="M403.5 214.4 L420.2 214.4 L436.9 213.5" fill="none" stroke="#b21c48" stroke-width="1.15" stroke-linejoin="round"/>
<circle cx="403.5" cy="214.4" r="1.1" fill="#b21c48"/>
<circle cx="420.2" cy="214.4" r="1.1" fill="#b21c48"/>
<circle cx="436.9" cy="213.5" r="1.1" fill="#b21c48"/>
<path d="M403.5 214.4 L420.2 212.75 L436.9 184.4" fill="none" stroke="#283e6e" stroke-width="1.15" stroke-linejoin="round"/>
<circle cx="403.5" cy="214.4" r="1.1" fill="#283e6e"/>
<circle cx="420.2" cy="212.75" r="1.1" fill="#283e6e"/>
<circle cx="436.9" cy="184.4" r="1.1" fill="#283e6e"/>
<text x="373" y="261.07" font-size="7" text-anchor="middle" fill="#3a3a3a" font-family='"Liberation Serif", serif' stroke="#3a3a3a" stroke-width="0.05" textLength="61.5" lengthAdjust="spacingAndGlyphs" dominant-baseline="central" transform="rotate(-90 373 261.07)">T-ALL cells x 10e6 in blood</text>
<line x1="394.4" y1="233.9" x2="394.4" y2="287.85" stroke="#1e1e1e" stroke-width="1.25"/>
<line x1="393.8" y1="287.25" x2="445.25" y2="287.25" stroke="#1e1e1e" stroke-width="1.25"/>
<line x1="391.4" y1="236.75" x2="394.4" y2="236.75" stroke="#222" stroke-width="0.9"/>
<text x="390.8" y="236.75" font-size="4.5" text-anchor="end" fill="#333" stroke="#333" stroke-width="0.12" dominant-baseline="central">100000</text>
<line x1="391.4" y1="249.25" x2="394.4" y2="249.25" stroke="#222" stroke-width="0.9"/>
<text x="390.8" y="249.25" font-size="4.5" text-anchor="end" fill="#333" stroke="#333" stroke-width="0.12" dominant-baseline="central">75000</text>
<line x1="391.4" y1="262" x2="394.4" y2="262" stroke="#222" stroke-width="0.9"/>
<text x="390.8" y="262" font-size="4.5" text-anchor="end" fill="#333" stroke="#333" stroke-width="0.12" dominant-baseline="central">50000</text>
<line x1="391.4" y1="274.5" x2="394.4" y2="274.5" stroke="#222" stroke-width="0.9"/>
<text x="390.8" y="274.5" font-size="4.5" text-anchor="end" fill="#333" stroke="#333" stroke-width="0.12" dominant-baseline="central">25000</text>
<line x1="391.4" y1="287.25" x2="394.4" y2="287.25" stroke="#222" stroke-width="0.9"/>
<text x="390.8" y="287.25" font-size="4.5" text-anchor="end" fill="#333" stroke="#333" stroke-width="0.12" dominant-baseline="central">0</text>
<line x1="400.6" y1="287.25" x2="400.6" y2="289.25" stroke="#222" stroke-width="0.8"/>
<text x="400.6" y="293.45" font-size="4.3" text-anchor="middle" fill="#444" stroke="#444" stroke-width="0.12" dominant-baseline="central">4</text>
<line x1="413.23" y1="287.25" x2="413.23" y2="289.25" stroke="#222" stroke-width="0.8"/>
<text x="413.23" y="293.45" font-size="4.3" text-anchor="middle" fill="#444" stroke="#444" stroke-width="0.12" dominant-baseline="central">5</text>
<line x1="425.87" y1="287.25" x2="425.87" y2="289.25" stroke="#222" stroke-width="0.8"/>
<text x="425.87" y="293.45" font-size="4.3" text-anchor="middle" fill="#444" stroke="#444" stroke-width="0.12" dominant-baseline="central">6</text>
<line x1="438.5" y1="287.25" x2="438.5" y2="289.25" stroke="#222" stroke-width="0.8"/>
<text x="438.5" y="293.45" font-size="4.3" text-anchor="middle" fill="#444" stroke="#444" stroke-width="0.12" dominant-baseline="central">7</text>
<text x="397.7" y="239.25" font-size="4.4" text-anchor="start" fill="#222" font-style="italic" stroke="#222" stroke-width="0.15" dominant-baseline="central">p= 0.0002</text>
<line x1="425.87" y1="263.25" x2="425.87" y2="275.5" stroke="#4f6290" stroke-width="0.8"/>
<line x1="424.37" y1="263.25" x2="427.37" y2="263.25" stroke="#4f6290" stroke-width="0.8"/>
<line x1="424.37" y1="275.5" x2="427.37" y2="275.5" stroke="#4f6290" stroke-width="0.8"/>
<line x1="438.5" y1="236.4" x2="438.5" y2="251.4" stroke="#4f6290" stroke-width="0.8"/>
<line x1="437" y1="236.4" x2="440" y2="236.4" stroke="#4f6290" stroke-width="0.8"/>
<line x1="437" y1="251.4" x2="440" y2="251.4" stroke="#4f6290" stroke-width="0.8"/>
<path d="M400.6 287.25 L413.23 287 L425.87 287 L438.5 285.1" fill="none" stroke="#b21c48" stroke-width="1.15" stroke-linejoin="round"/>
<circle cx="400.6" cy="287.25" r="1.1" fill="#b21c48"/>
<circle cx="413.23" cy="287" r="1.1" fill="#b21c48"/>
<circle cx="425.87" cy="287" r="1.1" fill="#b21c48"/>
<circle cx="438.5" cy="285.1" r="1.1" fill="#b21c48"/>
<path d="M400.6 287.25 L413.23 285.75 L425.87 269.5 L438.5 244.5" fill="none" stroke="#283e6e" stroke-width="1.15" stroke-linejoin="round"/>
<circle cx="400.6" cy="287.25" r="1.1" fill="#283e6e"/>
<circle cx="413.23" cy="285.75" r="1.1" fill="#283e6e"/>
<circle cx="425.87" cy="269.5" r="1.1" fill="#283e6e"/>
<circle cx="438.5" cy="244.5" r="1.1" fill="#283e6e"/>
<text x="372.6" y="334.07" font-size="7" text-anchor="middle" fill="#3a3a3a" font-family='"Liberation Serif", serif' stroke="#3a3a3a" stroke-width="0.05" textLength="61.5" lengthAdjust="spacingAndGlyphs" dominant-baseline="central" transform="rotate(-90 372.6 334.07)">T-ALL cells x 10e6 in blood</text>
<line x1="393.75" y1="306.9" x2="393.75" y2="360.85" stroke="#1e1e1e" stroke-width="1.25"/>
<line x1="393.15" y1="360.25" x2="443.75" y2="360.25" stroke="#1e1e1e" stroke-width="1.25"/>
<line x1="390.75" y1="309.4" x2="393.75" y2="309.4" stroke="#222" stroke-width="0.9"/>
<text x="390.15" y="309.4" font-size="4.5" text-anchor="end" fill="#333" stroke="#333" stroke-width="0.12" dominant-baseline="central">15000</text>
<line x1="390.75" y1="326.25" x2="393.75" y2="326.25" stroke="#222" stroke-width="0.9"/>
<text x="390.15" y="326.25" font-size="4.5" text-anchor="end" fill="#333" stroke="#333" stroke-width="0.12" dominant-baseline="central">10000</text>
<line x1="390.75" y1="343.1" x2="393.75" y2="343.1" stroke="#222" stroke-width="0.9"/>
<text x="390.15" y="343.1" font-size="4.5" text-anchor="end" fill="#333" stroke="#333" stroke-width="0.12" dominant-baseline="central">5000</text>
<line x1="390.75" y1="360.25" x2="393.75" y2="360.25" stroke="#222" stroke-width="0.9"/>
<text x="390.15" y="360.25" font-size="4.5" text-anchor="end" fill="#333" stroke="#333" stroke-width="0.12" dominant-baseline="central">0</text>
<line x1="402.25" y1="360.25" x2="402.25" y2="362.25" stroke="#222" stroke-width="0.8"/>
<text x="402.25" y="366.45" font-size="4.3" text-anchor="middle" fill="#444" stroke="#444" stroke-width="0.12" dominant-baseline="central">0</text>
<line x1="418.93" y1="360.25" x2="418.93" y2="362.25" stroke="#222" stroke-width="0.8"/>
<text x="418.93" y="366.45" font-size="4.3" text-anchor="middle" fill="#444" stroke="#444" stroke-width="0.12" dominant-baseline="central">1</text>
<line x1="435.6" y1="360.25" x2="435.6" y2="362.25" stroke="#222" stroke-width="0.8"/>
<text x="435.6" y="366.45" font-size="4.3" text-anchor="middle" fill="#444" stroke="#444" stroke-width="0.12" dominant-baseline="central">2</text>
<text x="397.05" y="313.75" font-size="4.4" text-anchor="start" fill="#222" font-style="italic" stroke="#222" stroke-width="0.15" dominant-baseline="central">p=0.0174</text>
<line x1="435.6" y1="316.5" x2="435.6" y2="352.25" stroke="#4f6290" stroke-width="0.8"/>
<line x1="434.1" y1="316.5" x2="437.1" y2="316.5" stroke="#4f6290" stroke-width="0.8"/>
<line x1="434.1" y1="352.25" x2="437.1" y2="352.25" stroke="#4f6290" stroke-width="0.8"/>
<path d="M402.25 360 L418.93 360 L435.6 360" fill="none" stroke="#b21c48" stroke-width="1.15" stroke-linejoin="round"/>
<circle cx="402.25" cy="360" r="1.1" fill="#b21c48"/>
<circle cx="418.93" cy="360" r="1.1" fill="#b21c48"/>
<circle cx="435.6" cy="360" r="1.1" fill="#b21c48"/>
<path d="M402.25 359.4 L418.93 355.6 L435.6 334.75" fill="none" stroke="#283e6e" stroke-width="1.15" stroke-linejoin="round"/>
<circle cx="402.25" cy="359.4" r="1.1" fill="#283e6e"/>
<circle cx="418.93" cy="355.6" r="1.1" fill="#283e6e"/>
<circle cx="435.6" cy="334.75" r="1.1" fill="#283e6e"/>
<text x="371.7" y="406.75" font-size="7" text-anchor="middle" fill="#3a3a3a" font-family='"Liberation Serif", serif' stroke="#3a3a3a" stroke-width="0.05" textLength="61.5" lengthAdjust="spacingAndGlyphs" dominant-baseline="central" transform="rotate(-90 371.7 406.75)">T-ALL cells x 10e6 in blood</text>
<line x1="392.75" y1="379.6" x2="392.75" y2="433.5" stroke="#1e1e1e" stroke-width="1.25"/>
<line x1="392.15" y1="432.9" x2="443.5" y2="432.9" stroke="#1e1e1e" stroke-width="1.25"/>
<line x1="389.75" y1="382.25" x2="392.75" y2="382.25" stroke="#222" stroke-width="0.9"/>
<text x="389.15" y="382.25" font-size="4.5" text-anchor="end" fill="#333" stroke="#333" stroke-width="0.12" dominant-baseline="central">20000</text>
<line x1="389.75" y1="395.1" x2="392.75" y2="395.1" stroke="#222" stroke-width="0.9"/>
<text x="389.15" y="395.1" font-size="4.5" text-anchor="end" fill="#333" stroke="#333" stroke-width="0.12" dominant-baseline="central">15000</text>
<line x1="389.75" y1="407.4" x2="392.75" y2="407.4" stroke="#222" stroke-width="0.9"/>
<text x="389.15" y="407.4" font-size="4.5" text-anchor="end" fill="#333" stroke="#333" stroke-width="0.12" dominant-baseline="central">10000</text>
<line x1="389.75" y1="420.1" x2="392.75" y2="420.1" stroke="#222" stroke-width="0.9"/>
<text x="389.15" y="420.1" font-size="4.5" text-anchor="end" fill="#333" stroke="#333" stroke-width="0.12" dominant-baseline="central">5000</text>
<line x1="389.75" y1="432.9" x2="392.75" y2="432.9" stroke="#222" stroke-width="0.9"/>
<text x="389.15" y="432.9" font-size="4.5" text-anchor="end" fill="#333" stroke="#333" stroke-width="0.12" dominant-baseline="central">0</text>
<line x1="401.25" y1="432.9" x2="401.25" y2="434.9" stroke="#222" stroke-width="0.8"/>
<text x="401.25" y="439.1" font-size="4.3" text-anchor="middle" fill="#444" stroke="#444" stroke-width="0.12" dominant-baseline="central">4</text>
<line x1="418" y1="432.9" x2="418" y2="434.9" stroke="#222" stroke-width="0.8"/>
<text x="418" y="439.1" font-size="4.3" text-anchor="middle" fill="#444" stroke="#444" stroke-width="0.12" dominant-baseline="central">5</text>
<line x1="434.75" y1="432.9" x2="434.75" y2="434.9" stroke="#222" stroke-width="0.8"/>
<text x="434.75" y="439.1" font-size="4.3" text-anchor="middle" fill="#444" stroke="#444" stroke-width="0.12" dominant-baseline="central">6</text>
<text x="396.05" y="386.75" font-size="4.4" text-anchor="start" fill="#222" font-style="italic" stroke="#222" stroke-width="0.15" dominant-baseline="central">p<0.0001</text>
<line x1="418" y1="418.25" x2="418" y2="428.5" stroke="#4f6290" stroke-width="0.8"/>
<line x1="416.5" y1="418.25" x2="419.5" y2="418.25" stroke="#4f6290" stroke-width="0.8"/>
<line x1="416.5" y1="428.5" x2="419.5" y2="428.5" stroke="#4f6290" stroke-width="0.8"/>
<line x1="434.75" y1="391" x2="434.75" y2="413" stroke="#4f6290" stroke-width="0.8"/>
<line x1="433.25" y1="391" x2="436.25" y2="391" stroke="#4f6290" stroke-width="0.8"/>
<line x1="433.25" y1="413" x2="436.25" y2="413" stroke="#4f6290" stroke-width="0.8"/>
<path d="M401.25 432.9 L418 432.6 L434.75 431.4" fill="none" stroke="#b21c48" stroke-width="1.15" stroke-linejoin="round"/>
<circle cx="401.25" cy="432.9" r="1.1" fill="#b21c48"/>
<circle cx="418" cy="432.6" r="1.1" fill="#b21c48"/>
<circle cx="434.75" cy="431.4" r="1.1" fill="#b21c48"/>
<path d="M401.25 432.9 L418 423 L434.75 402" fill="none" stroke="#283e6e" stroke-width="1.15" stroke-linejoin="round"/>
<circle cx="401.25" cy="432.9" r="1.1" fill="#283e6e"/>
<circle cx="418" cy="423" r="1.1" fill="#283e6e"/>
<circle cx="434.75" cy="402" r="1.1" fill="#283e6e"/>
<text x="371.7" y="479.25" font-size="7" text-anchor="middle" fill="#3a3a3a" font-family='"Liberation Serif", serif' stroke="#3a3a3a" stroke-width="0.05" textLength="61.5" lengthAdjust="spacingAndGlyphs" dominant-baseline="central" transform="rotate(-90 371.7 479.25)">T-ALL cells x 10e6 in blood</text>
<line x1="393.75" y1="451.9" x2="393.75" y2="506.2" stroke="#1e1e1e" stroke-width="1.25"/>
<line x1="393.15" y1="505.6" x2="443.5" y2="505.6" stroke="#1e1e1e" stroke-width="1.25"/>
<line x1="390.75" y1="455" x2="393.75" y2="455" stroke="#222" stroke-width="0.9"/>
<text x="390.15" y="455" font-size="4.5" text-anchor="end" fill="#333" stroke="#333" stroke-width="0.12" dominant-baseline="central">200000</text>
<line x1="390.75" y1="467.75" x2="393.75" y2="467.75" stroke="#222" stroke-width="0.9"/>
<text x="390.15" y="467.75" font-size="4.5" text-anchor="end" fill="#333" stroke="#333" stroke-width="0.12" dominant-baseline="central">150000</text>
<line x1="390.75" y1="480.25" x2="393.75" y2="480.25" stroke="#222" stroke-width="0.9"/>
<text x="390.15" y="480.25" font-size="4.5" text-anchor="end" fill="#333" stroke="#333" stroke-width="0.12" dominant-baseline="central">100000</text>
<line x1="390.75" y1="493.1" x2="393.75" y2="493.1" stroke="#222" stroke-width="0.9"/>
<text x="390.15" y="493.1" font-size="4.5" text-anchor="end" fill="#333" stroke="#333" stroke-width="0.12" dominant-baseline="central">50000</text>
<line x1="390.75" y1="505.6" x2="393.75" y2="505.6" stroke="#222" stroke-width="0.9"/>
<text x="390.15" y="505.6" font-size="4.5" text-anchor="end" fill="#333" stroke="#333" stroke-width="0.12" dominant-baseline="central">0</text>
<line x1="399.4" y1="505.6" x2="399.4" y2="507.6" stroke="#222" stroke-width="0.8"/>
<text x="399.4" y="511.8" font-size="4.3" text-anchor="middle" fill="#444" stroke="#444" stroke-width="0.12" dominant-baseline="central">4</text>
<line x1="412.02" y1="505.6" x2="412.02" y2="507.6" stroke="#222" stroke-width="0.8"/>
<text x="412.02" y="511.8" font-size="4.3" text-anchor="middle" fill="#444" stroke="#444" stroke-width="0.12" dominant-baseline="central">5</text>
<line x1="424.63" y1="505.6" x2="424.63" y2="507.6" stroke="#222" stroke-width="0.8"/>
<text x="424.63" y="511.8" font-size="4.3" text-anchor="middle" fill="#444" stroke="#444" stroke-width="0.12" dominant-baseline="central">6</text>
<line x1="437.25" y1="505.6" x2="437.25" y2="507.6" stroke="#222" stroke-width="0.8"/>
<text x="437.25" y="511.8" font-size="4.3" text-anchor="middle" fill="#444" stroke="#444" stroke-width="0.12" dominant-baseline="central">7</text>
<text x="397.05" y="458.75" font-size="4.4" text-anchor="start" fill="#222" font-style="italic" stroke="#222" stroke-width="0.15" dominant-baseline="central">p=0.1164</text>
<line x1="424.63" y1="499" x2="424.63" y2="503.1" stroke="#b33c62" stroke-width="0.8"/>
<line x1="423.13" y1="499" x2="426.13" y2="499" stroke="#b33c62" stroke-width="0.8"/>
<line x1="423.13" y1="503.1" x2="426.13" y2="503.1" stroke="#b33c62" stroke-width="0.8"/>
<line x1="437.25" y1="466.9" x2="437.25" y2="499" stroke="#b33c62" stroke-width="0.8"/>
<line x1="435.75" y1="466.9" x2="438.75" y2="466.9" stroke="#b33c62" stroke-width="0.8"/>
<line x1="435.75" y1="499" x2="438.75" y2="499" stroke="#b33c62" stroke-width="0.8"/>
<line x1="424.63" y1="489" x2="424.63" y2="495" stroke="#4f6290" stroke-width="0.8"/>
<line x1="423.13" y1="489" x2="426.13" y2="489" stroke="#4f6290" stroke-width="0.8"/>
<line x1="423.13" y1="495" x2="426.13" y2="495" stroke="#4f6290" stroke-width="0.8"/>
<line x1="437.25" y1="464.4" x2="437.25" y2="486.25" stroke="#4f6290" stroke-width="0.8"/>
<line x1="435.75" y1="464.4" x2="438.75" y2="464.4" stroke="#4f6290" stroke-width="0.8"/>
<line x1="435.75" y1="486.25" x2="438.75" y2="486.25" stroke="#4f6290" stroke-width="0.8"/>
<path d="M399.4 504.75 L424.63 500.6 L437.25 482.75" fill="none" stroke="#b21c48" stroke-width="1.15" stroke-linejoin="round"/>
<circle cx="399.4" cy="504.75" r="1.1" fill="#b21c48"/>
<circle cx="424.63" cy="500.6" r="1.1" fill="#b21c48"/>
<circle cx="437.25" cy="482.75" r="1.1" fill="#b21c48"/>
<path d="M399.4 504.4 L424.63 491.9 L437.25 475.25" fill="none" stroke="#283e6e" stroke-width="1.15" stroke-linejoin="round"/>
<circle cx="399.4" cy="504.4" r="1.1" fill="#283e6e"/>
<circle cx="424.63" cy="491.9" r="1.1" fill="#283e6e"/>
<circle cx="437.25" cy="475.25" r="1.1" fill="#283e6e"/>
<text x="371.7" y="552.17" font-size="7" text-anchor="middle" fill="#3a3a3a" font-family='"Liberation Serif", serif' stroke="#3a3a3a" stroke-width="0.05" textLength="61.5" lengthAdjust="spacingAndGlyphs" dominant-baseline="central" transform="rotate(-90 371.7 552.17)">ETP ALL cells x 10e6 blood</text>
<line x1="393.5" y1="525.1" x2="393.5" y2="578.85" stroke="#1e1e1e" stroke-width="1.25"/>
<line x1="392.9" y1="578.25" x2="443.75" y2="578.25" stroke="#1e1e1e" stroke-width="1.25"/>
<line x1="390.5" y1="528" x2="393.5" y2="528" stroke="#222" stroke-width="0.9"/>
<text x="389.9" y="528" font-size="4.5" text-anchor="end" fill="#333" stroke="#333" stroke-width="0.12" dominant-baseline="central">40000</text>
<line x1="390.5" y1="540.5" x2="393.5" y2="540.5" stroke="#222" stroke-width="0.9"/>
<text x="389.9" y="540.5" font-size="4.5" text-anchor="end" fill="#333" stroke="#333" stroke-width="0.12" dominant-baseline="central">30000</text>
<line x1="390.5" y1="553.25" x2="393.5" y2="553.25" stroke="#222" stroke-width="0.9"/>
<text x="389.9" y="553.25" font-size="4.5" text-anchor="end" fill="#333" stroke="#333" stroke-width="0.12" dominant-baseline="central">20000</text>
<line x1="390.5" y1="565.75" x2="393.5" y2="565.75" stroke="#222" stroke-width="0.9"/>
<text x="389.9" y="565.75" font-size="4.5" text-anchor="end" fill="#333" stroke="#333" stroke-width="0.12" dominant-baseline="central">10000</text>
<line x1="390.5" y1="578.25" x2="393.5" y2="578.25" stroke="#222" stroke-width="0.9"/>
<text x="389.9" y="578.25" font-size="4.5" text-anchor="end" fill="#333" stroke="#333" stroke-width="0.12" dominant-baseline="central">0</text>
<line x1="399.4" y1="578.25" x2="399.4" y2="580.25" stroke="#222" stroke-width="0.8"/>
<text x="399.4" y="584.45" font-size="4.3" text-anchor="middle" fill="#444" stroke="#444" stroke-width="0.12" dominant-baseline="central">4</text>
<line x1="412.02" y1="578.25" x2="412.02" y2="580.25" stroke="#222" stroke-width="0.8"/>
<text x="412.02" y="584.45" font-size="4.3" text-anchor="middle" fill="#444" stroke="#444" stroke-width="0.12" dominant-baseline="central">5</text>
<line x1="424.63" y1="578.25" x2="424.63" y2="580.25" stroke="#222" stroke-width="0.8"/>
<text x="424.63" y="584.45" font-size="4.3" text-anchor="middle" fill="#444" stroke="#444" stroke-width="0.12" dominant-baseline="central">6</text>
<line x1="437.25" y1="578.25" x2="437.25" y2="580.25" stroke="#222" stroke-width="0.8"/>
<text x="437.25" y="584.45" font-size="4.3" text-anchor="middle" fill="#444" stroke="#444" stroke-width="0.12" dominant-baseline="central">7</text>
<text x="396.8" y="531.4" font-size="4.4" text-anchor="start" fill="#222" font-style="italic" stroke="#222" stroke-width="0.15" dominant-baseline="central">p=0.0001</text>
<line x1="424.63" y1="560.75" x2="424.63" y2="573.25" stroke="#4f6290" stroke-width="0.8"/>
<line x1="423.13" y1="560.75" x2="426.13" y2="560.75" stroke="#4f6290" stroke-width="0.8"/>
<line x1="423.13" y1="573.25" x2="426.13" y2="573.25" stroke="#4f6290" stroke-width="0.8"/>
<line x1="437.25" y1="535.5" x2="437.25" y2="550.1" stroke="#4f6290" stroke-width="0.8"/>
<line x1="435.75" y1="535.5" x2="438.75" y2="535.5" stroke="#4f6290" stroke-width="0.8"/>
<line x1="435.75" y1="550.1" x2="438.75" y2="550.1" stroke="#4f6290" stroke-width="0.8"/>
<path d="M399.4 578.25 L412.02 578 L424.63 577.6 L437.25 575.5" fill="none" stroke="#b21c48" stroke-width="1.15" stroke-linejoin="round"/>
<circle cx="399.4" cy="578.25" r="1.1" fill="#b21c48"/>
<circle cx="412.02" cy="578" r="1.1" fill="#b21c48"/>
<circle cx="424.63" cy="577.6" r="1.1" fill="#b21c48"/>
<circle cx="437.25" cy="575.5" r="1.1" fill="#b21c48"/>
<path d="M399.4 578.25 L412.02 575.75 L424.63 567.25 L437.25 542.6" fill="none" stroke="#283e6e" stroke-width="1.15" stroke-linejoin="round"/>
<circle cx="399.4" cy="578.25" r="1.1" fill="#283e6e"/>
<circle cx="412.02" cy="575.75" r="1.1" fill="#283e6e"/>
<circle cx="424.63" cy="567.25" r="1.1" fill="#283e6e"/>
<circle cx="437.25" cy="542.6" r="1.1" fill="#283e6e"/>
<text x="461.7" y="48.2" font-size="7" text-anchor="middle" fill="#3a3a3a" font-family='"Liberation Serif", serif' stroke="#3a3a3a" stroke-width="0.05" textLength="62.5" lengthAdjust="spacingAndGlyphs" dominant-baseline="central" transform="rotate(-90 461.7 48.2)">T-ALL cells x 10e6 in spleen</text>
<line x1="478.3" y1="21" x2="478.3" y2="75" stroke="#1e1e1e" stroke-width="1.25"/>
<line x1="477.7" y1="74.4" x2="512.6" y2="74.4" stroke="#1e1e1e" stroke-width="1.25"/>
<line x1="475.3" y1="23.7" x2="478.3" y2="23.7" stroke="#222" stroke-width="0.9"/>
<text x="474.7" y="23.7" font-size="4.5" text-anchor="end" fill="#333" stroke="#333" stroke-width="0.12" dominant-baseline="central">500</text>
<line x1="475.3" y1="34.1" x2="478.3" y2="34.1" stroke="#222" stroke-width="0.9"/>
<text x="474.7" y="34.1" font-size="4.5" text-anchor="end" fill="#333" stroke="#333" stroke-width="0.12" dominant-baseline="central">400</text>
<line x1="475.3" y1="44.3" x2="478.3" y2="44.3" stroke="#222" stroke-width="0.9"/>
<text x="474.7" y="44.3" font-size="4.5" text-anchor="end" fill="#333" stroke="#333" stroke-width="0.12" dominant-baseline="central">300</text>
<line x1="475.3" y1="54.4" x2="478.3" y2="54.4" stroke="#222" stroke-width="0.9"/>
<text x="474.7" y="54.4" font-size="4.5" text-anchor="end" fill="#333" stroke="#333" stroke-width="0.12" dominant-baseline="central">200</text>
<line x1="475.3" y1="64.4" x2="478.3" y2="64.4" stroke="#222" stroke-width="0.9"/>
<text x="474.7" y="64.4" font-size="4.5" text-anchor="end" fill="#333" stroke="#333" stroke-width="0.12" dominant-baseline="central">100</text>
<line x1="475.3" y1="74.4" x2="478.3" y2="74.4" stroke="#222" stroke-width="0.9"/>
<text x="474.7" y="74.4" font-size="4.5" text-anchor="end" fill="#333" stroke="#333" stroke-width="0.12" dominant-baseline="central">0</text>
<line x1="487.45" y1="74.4" x2="487.45" y2="76.4" stroke="#222" stroke-width="0.8"/>
<line x1="503.9" y1="74.4" x2="503.9" y2="76.4" stroke="#222" stroke-width="0.8"/>
<line x1="487.45" y1="34.5" x2="487.45" y2="39.9" stroke="#1c3466" stroke-width="0.9"/>
<line x1="485.25" y1="34.5" x2="489.65" y2="34.5" stroke="#1c3466" stroke-width="0.9"/>
<line x1="485.25" y1="39.9" x2="489.65" y2="39.9" stroke="#1c3466" stroke-width="0.9"/>
<rect x="481.6" y="39.9" width="11.7" height="34.5" fill="#2c4f8c" stroke="#1c3466" stroke-width="0.6"/>
<path d="M486 32.7 L486 30.9 L503.8 30.9 L503.8 32.7" fill="none" stroke="#222" stroke-width="0.8"/>
<text x="494.9" y="27.3" font-size="4.4" text-anchor="middle" fill="#222" font-style="italic" stroke="#222" stroke-width="0.15" dominant-baseline="central">p<0.0001</text>
<text x="462.8" y="118.38" font-size="7" text-anchor="middle" fill="#3a3a3a" font-family='"Liberation Serif", serif' stroke="#3a3a3a" stroke-width="0.05" textLength="62.5" lengthAdjust="spacingAndGlyphs" dominant-baseline="central" transform="rotate(-90 462.8 118.38)">T-ALL cells x 10e6 in spleen</text>
<line x1="479.4" y1="91" x2="479.4" y2="145.35" stroke="#1e1e1e" stroke-width="1.25"/>
<line x1="478.8" y1="144.75" x2="513.1" y2="144.75" stroke="#1e1e1e" stroke-width="1.25"/>
<line x1="476.4" y1="94" x2="479.4" y2="94" stroke="#222" stroke-width="0.9"/>
<text x="475.8" y="94" font-size="4.5" text-anchor="end" fill="#333" stroke="#333" stroke-width="0.12" dominant-baseline="central">400</text>
<line x1="476.4" y1="106.9" x2="479.4" y2="106.9" stroke="#222" stroke-width="0.9"/>
<text x="475.8" y="106.9" font-size="4.5" text-anchor="end" fill="#333" stroke="#333" stroke-width="0.12" dominant-baseline="central">300</text>
<line x1="476.4" y1="119.4" x2="479.4" y2="119.4" stroke="#222" stroke-width="0.9"/>
<text x="475.8" y="119.4" font-size="4.5" text-anchor="end" fill="#333" stroke="#333" stroke-width="0.12" dominant-baseline="central">200</text>
<line x1="476.4" y1="132.25" x2="479.4" y2="132.25" stroke="#222" stroke-width="0.9"/>
<text x="475.8" y="132.25" font-size="4.5" text-anchor="end" fill="#333" stroke="#333" stroke-width="0.12" dominant-baseline="central">100</text>
<line x1="476.4" y1="144.75" x2="479.4" y2="144.75" stroke="#222" stroke-width="0.9"/>
<text x="475.8" y="144.75" font-size="4.5" text-anchor="end" fill="#333" stroke="#333" stroke-width="0.12" dominant-baseline="central">0</text>
<line x1="487.5" y1="144.75" x2="487.5" y2="146.75" stroke="#222" stroke-width="0.8"/>
<line x1="504.05" y1="144.75" x2="504.05" y2="146.75" stroke="#222" stroke-width="0.8"/>
<line x1="487.5" y1="107.5" x2="487.5" y2="108.1" stroke="#1c3466" stroke-width="0.9"/>
<line x1="485.3" y1="107.5" x2="489.7" y2="107.5" stroke="#1c3466" stroke-width="0.9"/>
<line x1="485.3" y1="108.1" x2="489.7" y2="108.1" stroke="#1c3466" stroke-width="0.9"/>
<line x1="504.05" y1="132.5" x2="504.05" y2="135" stroke="#8a0a2c" stroke-width="0.9"/>
<line x1="501.85" y1="132.5" x2="506.25" y2="132.5" stroke="#8a0a2c" stroke-width="0.9"/>
<line x1="501.85" y1="135" x2="506.25" y2="135" stroke="#8a0a2c" stroke-width="0.9"/>
<rect x="481.9" y="108.1" width="11.2" height="36.65" fill="#2c4f8c" stroke="#1c3466" stroke-width="0.6"/>
<rect x="498.1" y="135" width="11.9" height="9.75" fill="#bb0d3b" stroke="#8a0a2c" stroke-width="0.6"/>
<path d="M488.1 105.3 L488.1 103.5 L505 103.5 L505 105.3" fill="none" stroke="#222" stroke-width="0.8"/>
<text x="496.55" y="100.6" font-size="4.4" text-anchor="middle" fill="#222" font-style="italic" stroke="#222" stroke-width="0.15" dominant-baseline="central">p<0.0001</text>
<text x="461.15" y="188.2" font-size="7" text-anchor="middle" fill="#3a3a3a" font-family='"Liberation Serif", serif' stroke="#3a3a3a" stroke-width="0.05" textLength="62.5" lengthAdjust="spacingAndGlyphs" dominant-baseline="central" transform="rotate(-90 461.15 188.2)">T-ALL cells x 10e6 in spleen</text>
<line x1="477.75" y1="161" x2="477.75" y2="215" stroke="#1e1e1e" stroke-width="1.25"/>
<line x1="477.15" y1="214.4" x2="513.1" y2="214.4" stroke="#1e1e1e" stroke-width="1.25"/>
<line x1="474.75" y1="164" x2="477.75" y2="164" stroke="#222" stroke-width="0.9"/>
<text x="474.15" y="164" font-size="4.5" text-anchor="end" fill="#333" stroke="#333" stroke-width="0.12" dominant-baseline="central">400</text>
<line x1="474.75" y1="176.9" x2="477.75" y2="176.9" stroke="#222" stroke-width="0.9"/>
<text x="474.15" y="176.9" font-size="4.5" text-anchor="end" fill="#333" stroke="#333" stroke-width="0.12" dominant-baseline="central">300</text>
<line x1="474.75" y1="189" x2="477.75" y2="189" stroke="#222" stroke-width="0.9"/>
<text x="474.15" y="189" font-size="4.5" text-anchor="end" fill="#333" stroke="#333" stroke-width="0.12" dominant-baseline="central">200</text>
<line x1="474.75" y1="201.9" x2="477.75" y2="201.9" stroke="#222" stroke-width="0.9"/>
<text x="474.15" y="201.9" font-size="4.5" text-anchor="end" fill="#333" stroke="#333" stroke-width="0.12" dominant-baseline="central">100</text>
<line x1="474.75" y1="214.4" x2="477.75" y2="214.4" stroke="#222" stroke-width="0.9"/>
<text x="474.15" y="214.4" font-size="4.5" text-anchor="end" fill="#333" stroke="#333" stroke-width="0.12" dominant-baseline="central">0</text>
<line x1="486.25" y1="214.4" x2="486.25" y2="216.4" stroke="#222" stroke-width="0.8"/>
<line x1="502.82" y1="214.4" x2="502.82" y2="216.4" stroke="#222" stroke-width="0.8"/>
<line x1="502.82" y1="206.25" x2="502.82" y2="209" stroke="#8a0a2c" stroke-width="0.9"/>
<line x1="500.62" y1="206.25" x2="505.02" y2="206.25" stroke="#8a0a2c" stroke-width="0.9"/>
<line x1="500.62" y1="209" x2="505.02" y2="209" stroke="#8a0a2c" stroke-width="0.9"/>
<rect x="480.6" y="178.1" width="11.3" height="36.3" fill="#2c4f8c" stroke="#1c3466" stroke-width="0.6"/>
<rect x="496.9" y="209" width="11.85" height="5.4" fill="#bb0d3b" stroke="#8a0a2c" stroke-width="0.6"/>
<path d="M485.6 175.55 L485.6 173.75 L503.1 173.75 L503.1 175.55" fill="none" stroke="#222" stroke-width="0.8"/>
<text x="494.35" y="170.6" font-size="4.4" text-anchor="middle" fill="#222" font-style="italic" stroke="#222" stroke-width="0.15" dominant-baseline="central">p<0.0001</text>
<text x="461.5" y="260.62" font-size="7" text-anchor="middle" fill="#3a3a3a" font-family='"Liberation Serif", serif' stroke="#3a3a3a" stroke-width="0.05" textLength="62.5" lengthAdjust="spacingAndGlyphs" dominant-baseline="central" transform="rotate(-90 461.5 260.62)">T-ALL cells x 10e6 in spleen</text>
<line x1="478.1" y1="233" x2="478.1" y2="287.85" stroke="#1e1e1e" stroke-width="1.25"/>
<line x1="477.5" y1="287.25" x2="513.75" y2="287.25" stroke="#1e1e1e" stroke-width="1.25"/>
<line x1="475.1" y1="236.4" x2="478.1" y2="236.4" stroke="#222" stroke-width="0.9"/>
<text x="474.5" y="236.4" font-size="4.5" text-anchor="end" fill="#333" stroke="#333" stroke-width="0.12" dominant-baseline="central">400</text>
<line x1="475.1" y1="249.25" x2="478.1" y2="249.25" stroke="#222" stroke-width="0.9"/>
<text x="474.5" y="249.25" font-size="4.5" text-anchor="end" fill="#333" stroke="#333" stroke-width="0.12" dominant-baseline="central">300</text>
<line x1="475.1" y1="262" x2="478.1" y2="262" stroke="#222" stroke-width="0.9"/>
<text x="474.5" y="262" font-size="4.5" text-anchor="end" fill="#333" stroke="#333" stroke-width="0.12" dominant-baseline="central">200</text>
<line x1="475.1" y1="274.75" x2="478.1" y2="274.75" stroke="#222" stroke-width="0.9"/>
<text x="474.5" y="274.75" font-size="4.5" text-anchor="end" fill="#333" stroke="#333" stroke-width="0.12" dominant-baseline="central">100</text>
<line x1="475.1" y1="287.25" x2="478.1" y2="287.25" stroke="#222" stroke-width="0.9"/>
<text x="474.5" y="287.25" font-size="4.5" text-anchor="end" fill="#333" stroke="#333" stroke-width="0.12" dominant-baseline="central">0</text>
<line x1="486.62" y1="287.25" x2="486.62" y2="289.25" stroke="#222" stroke-width="0.8"/>
<line x1="503.93" y1="287.25" x2="503.93" y2="289.25" stroke="#222" stroke-width="0.8"/>
<line x1="486.62" y1="246.4" x2="486.62" y2="253" stroke="#1c3466" stroke-width="0.9"/>
<line x1="484.43" y1="246.4" x2="488.82" y2="246.4" stroke="#1c3466" stroke-width="0.9"/>
<line x1="484.43" y1="253" x2="488.82" y2="253" stroke="#1c3466" stroke-width="0.9"/>
<line x1="503.93" y1="275.1" x2="503.93" y2="278.9" stroke="#8a0a2c" stroke-width="0.9"/>
<line x1="501.73" y1="275.1" x2="506.12" y2="275.1" stroke="#8a0a2c" stroke-width="0.9"/>
<line x1="501.73" y1="278.9" x2="506.12" y2="278.9" stroke="#8a0a2c" stroke-width="0.9"/>
<rect x="481" y="253" width="11.25" height="34.25" fill="#2c4f8c" stroke="#1c3466" stroke-width="0.6"/>
<rect x="498.1" y="278.9" width="11.65" height="8.35" fill="#bb0d3b" stroke="#8a0a2c" stroke-width="0.6"/>
<path d="M486.9 243.55 L486.9 241.75 L503.75 241.75 L503.75 243.55" fill="none" stroke="#222" stroke-width="0.8"/>
<text x="495.32" y="237.25" font-size="4.4" text-anchor="middle" fill="#222" font-style="italic" stroke="#222" stroke-width="0.15" dominant-baseline="central">p<0.0001</text>
<text x="459.9" y="333.5" font-size="7" text-anchor="middle" fill="#3a3a3a" font-family='"Liberation Serif", serif' stroke="#3a3a3a" stroke-width="0.05" textLength="62.5" lengthAdjust="spacingAndGlyphs" dominant-baseline="central" transform="rotate(-90 459.9 333.5)">T-ALL cells x 10e6 in spleen</text>
<line x1="476.5" y1="306" x2="476.5" y2="360.6" stroke="#1e1e1e" stroke-width="1.25"/>
<line x1="475.9" y1="360" x2="513.1" y2="360" stroke="#1e1e1e" stroke-width="1.25"/>
<line x1="473.5" y1="309.4" x2="476.5" y2="309.4" stroke="#222" stroke-width="0.9"/>
<text x="472.9" y="309.4" font-size="4.5" text-anchor="end" fill="#333" stroke="#333" stroke-width="0.12" dominant-baseline="central">150</text>
<line x1="473.5" y1="326.5" x2="476.5" y2="326.5" stroke="#222" stroke-width="0.9"/>
<text x="472.9" y="326.5" font-size="4.5" text-anchor="end" fill="#333" stroke="#333" stroke-width="0.12" dominant-baseline="central">100</text>
<line x1="473.5" y1="343.1" x2="476.5" y2="343.1" stroke="#222" stroke-width="0.9"/>
<text x="472.9" y="343.1" font-size="4.5" text-anchor="end" fill="#333" stroke="#333" stroke-width="0.12" dominant-baseline="central">50</text>
<line x1="473.5" y1="360" x2="476.5" y2="360" stroke="#222" stroke-width="0.9"/>
<text x="472.9" y="360" font-size="4.5" text-anchor="end" fill="#333" stroke="#333" stroke-width="0.12" dominant-baseline="central">0</text>
<line x1="485.2" y1="360" x2="485.2" y2="362" stroke="#222" stroke-width="0.8"/>
<line x1="502.18" y1="360" x2="502.18" y2="362" stroke="#222" stroke-width="0.8"/>
<line x1="485.2" y1="316.25" x2="485.2" y2="328.75" stroke="#1c3466" stroke-width="0.9"/>
<line x1="483" y1="316.25" x2="487.4" y2="316.25" stroke="#1c3466" stroke-width="0.9"/>
<line x1="483" y1="328.75" x2="487.4" y2="328.75" stroke="#1c3466" stroke-width="0.9"/>
<line x1="502.18" y1="340.6" x2="502.18" y2="350.6" stroke="#8a0a2c" stroke-width="0.9"/>
<line x1="499.98" y1="340.6" x2="504.38" y2="340.6" stroke="#8a0a2c" stroke-width="0.9"/>
<line x1="499.98" y1="350.6" x2="504.38" y2="350.6" stroke="#8a0a2c" stroke-width="0.9"/>
<rect x="479.4" y="328.75" width="11.6" height="31.25" fill="#2c4f8c" stroke="#1c3466" stroke-width="0.6"/>
<rect x="496.25" y="350.6" width="11.85" height="9.4" fill="#bb0d3b" stroke="#8a0a2c" stroke-width="0.6"/>
<path d="M485.25 313.7 L485.25 311.9 L502.75 311.9 L502.75 313.7" fill="none" stroke="#222" stroke-width="0.8"/>
<text x="494" y="308.5" font-size="4.4" text-anchor="middle" fill="#222" font-style="italic" stroke="#222" stroke-width="0.15" dominant-baseline="central">p= 0.0465</text>
<text x="459" y="407.18" font-size="7" text-anchor="middle" fill="#3a3a3a" font-family='"Liberation Serif", serif' stroke="#3a3a3a" stroke-width="0.05" textLength="62.5" lengthAdjust="spacingAndGlyphs" dominant-baseline="central" transform="rotate(-90 459 407.18)">T-ALL cells x 10e6 in spleen</text>
<line x1="475.6" y1="380.75" x2="475.6" y2="433.2" stroke="#1e1e1e" stroke-width="1.25"/>
<line x1="475" y1="432.6" x2="510" y2="432.6" stroke="#1e1e1e" stroke-width="1.25"/>
<line x1="472.6" y1="382.25" x2="475.6" y2="382.25" stroke="#222" stroke-width="0.9"/>
<text x="472" y="382.25" font-size="4.5" text-anchor="end" fill="#333" stroke="#333" stroke-width="0.12" dominant-baseline="central">300</text>
<line x1="472.6" y1="399.25" x2="475.6" y2="399.25" stroke="#222" stroke-width="0.9"/>
<text x="472" y="399.25" font-size="4.5" text-anchor="end" fill="#333" stroke="#333" stroke-width="0.12" dominant-baseline="central">200</text>
<line x1="472.6" y1="416" x2="475.6" y2="416" stroke="#222" stroke-width="0.9"/>
<text x="472" y="416" font-size="4.5" text-anchor="end" fill="#333" stroke="#333" stroke-width="0.12" dominant-baseline="central">100</text>
<line x1="472.6" y1="432.6" x2="475.6" y2="432.6" stroke="#222" stroke-width="0.9"/>
<text x="472" y="432.6" font-size="4.5" text-anchor="end" fill="#333" stroke="#333" stroke-width="0.12" dominant-baseline="central">0</text>
<line x1="484.68" y1="432.6" x2="484.68" y2="434.6" stroke="#222" stroke-width="0.8"/>
<line x1="501.62" y1="432.6" x2="501.62" y2="434.6" stroke="#222" stroke-width="0.8"/>
<line x1="484.68" y1="385.1" x2="484.68" y2="391" stroke="#1c3466" stroke-width="0.9"/>
<line x1="482.48" y1="385.1" x2="486.88" y2="385.1" stroke="#1c3466" stroke-width="0.9"/>
<line x1="482.48" y1="391" x2="486.88" y2="391" stroke="#1c3466" stroke-width="0.9"/>
<rect x="478.75" y="391" width="11.85" height="41.6" fill="#2c4f8c" stroke="#1c3466" stroke-width="0.6"/>
<rect x="496" y="430.1" width="11.25" height="2.5" fill="#bb0d3b" stroke="#8a0a2c" stroke-width="0.6"/>
<path d="M484.75 384.4 L484.75 382.6 L499.4 382.6 L499.4 384.4" fill="none" stroke="#222" stroke-width="0.8"/>
<text x="492.07" y="378.9" font-size="4.4" text-anchor="middle" fill="#222" font-style="italic" stroke="#222" stroke-width="0.15" dominant-baseline="central">p = 0.0357</text>
<text x="459.65" y="479.25" font-size="7" text-anchor="middle" fill="#3a3a3a" font-family='"Liberation Serif", serif' stroke="#3a3a3a" stroke-width="0.05" textLength="62.5" lengthAdjust="spacingAndGlyphs" dominant-baseline="central" transform="rotate(-90 459.65 479.25)">T-ALL cells x 10e6 in spleen</text>
<line x1="476.25" y1="451.9" x2="476.25" y2="506.2" stroke="#1e1e1e" stroke-width="1.25"/>
<line x1="475.65" y1="505.6" x2="510" y2="505.6" stroke="#1e1e1e" stroke-width="1.25"/>
<line x1="473.25" y1="455.25" x2="476.25" y2="455.25" stroke="#222" stroke-width="0.9"/>
<text x="472.65" y="455.25" font-size="4.5" text-anchor="end" fill="#333" stroke="#333" stroke-width="0.12" dominant-baseline="central">300</text>
<line x1="473.25" y1="471.9" x2="476.25" y2="471.9" stroke="#222" stroke-width="0.9"/>
<text x="472.65" y="471.9" font-size="4.5" text-anchor="end" fill="#333" stroke="#333" stroke-width="0.12" dominant-baseline="central">200</text>
<line x1="473.25" y1="488.75" x2="476.25" y2="488.75" stroke="#222" stroke-width="0.9"/>
<text x="472.65" y="488.75" font-size="4.5" text-anchor="end" fill="#333" stroke="#333" stroke-width="0.12" dominant-baseline="central">100</text>
<line x1="473.25" y1="505.6" x2="476.25" y2="505.6" stroke="#222" stroke-width="0.9"/>
<text x="472.65" y="505.6" font-size="4.5" text-anchor="end" fill="#333" stroke="#333" stroke-width="0.12" dominant-baseline="central">0</text>
<line x1="485" y1="505.6" x2="485" y2="507.6" stroke="#222" stroke-width="0.8"/>
<line x1="501.88" y1="505.6" x2="501.88" y2="507.6" stroke="#222" stroke-width="0.8"/>
<line x1="485" y1="463.75" x2="485" y2="467.5" stroke="#1c3466" stroke-width="0.9"/>
<line x1="482.8" y1="463.75" x2="487.2" y2="463.75" stroke="#1c3466" stroke-width="0.9"/>
<line x1="482.8" y1="467.5" x2="487.2" y2="467.5" stroke="#1c3466" stroke-width="0.9"/>
<line x1="501.88" y1="459.4" x2="501.88" y2="469" stroke="#8a0a2c" stroke-width="0.9"/>
<line x1="499.68" y1="459.4" x2="504.07" y2="459.4" stroke="#8a0a2c" stroke-width="0.9"/>
<line x1="499.68" y1="469" x2="504.07" y2="469" stroke="#8a0a2c" stroke-width="0.9"/>
<rect x="479.4" y="467.5" width="11.2" height="38.1" fill="#2c4f8c" stroke="#1c3466" stroke-width="0.6"/>
<rect x="496.25" y="469" width="11.25" height="36.6" fill="#bb0d3b" stroke="#8a0a2c" stroke-width="0.6"/>
<path d="M484.4 457.05 L484.4 455.25 L501.25 455.25 L501.25 457.05" fill="none" stroke="#222" stroke-width="0.8"/>
<text x="492.82" y="452.25" font-size="4.4" text-anchor="middle" fill="#222" font-style="italic" stroke="#222" stroke-width="0.15" dominant-baseline="central">p=0.780</text>
<text x="460.3" y="552.17" font-size="7" text-anchor="middle" fill="#3a3a3a" font-family='"Liberation Serif", serif' stroke="#3a3a3a" stroke-width="0.05" textLength="68" lengthAdjust="spacingAndGlyphs" dominant-baseline="central" transform="rotate(-90 460.3 552.17)">ETP ALL cells x 10e6 spleen</text>
<line x1="476.9" y1="525.1" x2="476.9" y2="578.85" stroke="#1e1e1e" stroke-width="1.25"/>
<line x1="476.3" y1="578.25" x2="510" y2="578.25" stroke="#1e1e1e" stroke-width="1.25"/>
<line x1="473.9" y1="528" x2="476.9" y2="528" stroke="#222" stroke-width="0.9"/>
<text x="473.3" y="528" font-size="4.5" text-anchor="end" fill="#333" stroke="#333" stroke-width="0.12" dominant-baseline="central">300</text>
<line x1="473.9" y1="544.75" x2="476.9" y2="544.75" stroke="#222" stroke-width="0.9"/>
<text x="473.3" y="544.75" font-size="4.5" text-anchor="end" fill="#333" stroke="#333" stroke-width="0.12" dominant-baseline="central">200</text>
<line x1="473.9" y1="561.4" x2="476.9" y2="561.4" stroke="#222" stroke-width="0.9"/>
<text x="473.3" y="561.4" font-size="4.5" text-anchor="end" fill="#333" stroke="#333" stroke-width="0.12" dominant-baseline="central">100</text>
<line x1="473.9" y1="578.25" x2="476.9" y2="578.25" stroke="#222" stroke-width="0.9"/>
<text x="473.3" y="578.25" font-size="4.5" text-anchor="end" fill="#333" stroke="#333" stroke-width="0.12" dominant-baseline="central">0</text>
<line x1="485.5" y1="578.25" x2="485.5" y2="580.25" stroke="#222" stroke-width="0.8"/>
<line x1="502" y1="578.25" x2="502" y2="580.25" stroke="#222" stroke-width="0.8"/>
<line x1="485.5" y1="537" x2="485.5" y2="543.9" stroke="#1c3466" stroke-width="0.9"/>
<line x1="483.3" y1="537" x2="487.7" y2="537" stroke="#1c3466" stroke-width="0.9"/>
<line x1="483.3" y1="543.9" x2="487.7" y2="543.9" stroke="#1c3466" stroke-width="0.9"/>
<line x1="502" y1="571.4" x2="502" y2="573.9" stroke="#8a0a2c" stroke-width="0.9"/>
<line x1="499.8" y1="571.4" x2="504.2" y2="571.4" stroke="#8a0a2c" stroke-width="0.9"/>
<line x1="499.8" y1="573.9" x2="504.2" y2="573.9" stroke="#8a0a2c" stroke-width="0.9"/>
<rect x="479.75" y="543.9" width="11.5" height="34.35" fill="#2c4f8c" stroke="#1c3466" stroke-width="0.6"/>
<rect x="496.25" y="573.9" width="11.5" height="4.35" fill="#bb0d3b" stroke="#8a0a2c" stroke-width="0.6"/>
<path d="M485 534.4 L485 532.6 L502.5 532.6 L502.5 534.4" fill="none" stroke="#222" stroke-width="0.8"/>
<text x="493.75" y="529.25" font-size="4.4" text-anchor="middle" fill="#222" font-style="italic" stroke="#222" stroke-width="0.15" dominant-baseline="central">p=0.0016</text>
<text x="160.7" y="665.3" font-size="7.6" text-anchor="middle" fill="#333" font-family='"Liberation Serif", serif' textLength="43.3" lengthAdjust="spacingAndGlyphs" dominant-baseline="central">Week of treatment</text>
<text x="234" y="665.3" font-size="7.6" text-anchor="middle" fill="#333" font-family='"Liberation Serif", serif' textLength="38.5" lengthAdjust="spacingAndGlyphs" dominant-baseline="central">Treatment group</text>
<text x="418.3" y="591.7" font-size="7.6" text-anchor="middle" fill="#333" font-family='"Liberation Serif", serif' textLength="42.5" lengthAdjust="spacingAndGlyphs" dominant-baseline="central">Week of treatment</text>
<text x="493.8" y="591.7" font-size="7.6" text-anchor="middle" fill="#333" font-family='"Liberation Serif", serif' textLength="38.5" lengthAdjust="spacingAndGlyphs" dominant-baseline="central">Treatment group</text>
<rect x="127.2" y="676.2" width="5.8" height="5.6" fill="#2c4f8c" stroke="#1c3466" stroke-width="0.5"/>
<text x="135.8" y="679.1" font-size="4.6" text-anchor="start" fill="#444" textLength="14.5" lengthAdjust="spacingAndGlyphs" dominant-baseline="central">Isotype</text>
<rect x="160" y="676.2" width="6" height="5.6" fill="#bb0d3b" stroke="#8a0a2c" stroke-width="0.5"/>
<text x="169.2" y="679.1" font-size="4.6" text-anchor="start" fill="#444" textLength="28.5" lengthAdjust="spacingAndGlyphs" dominant-baseline="central">daratumumab</text>
<rect x="385.2" y="603.6" width="5.8" height="5.6" fill="#2c4f8c" stroke="#1c3466" stroke-width="0.5"/>
<text x="393.8" y="606.5" font-size="4.6" text-anchor="start" fill="#444" textLength="14.5" lengthAdjust="spacingAndGlyphs" dominant-baseline="central">Isotype</text>
<rect x="418" y="603.6" width="6" height="5.6" fill="#bb0d3b" stroke="#8a0a2c" stroke-width="0.5"/>
<text x="427.2" y="606.5" font-size="4.6" text-anchor="start" fill="#444" textLength="28.5" lengthAdjust="spacingAndGlyphs" dominant-baseline="central">daratumumab</text>
<rect x="0.55" y="0.55" width="518.9" height="688.6" fill="none" stroke="#000" stroke-width="1.2"/>
</svg></div></body></html>
